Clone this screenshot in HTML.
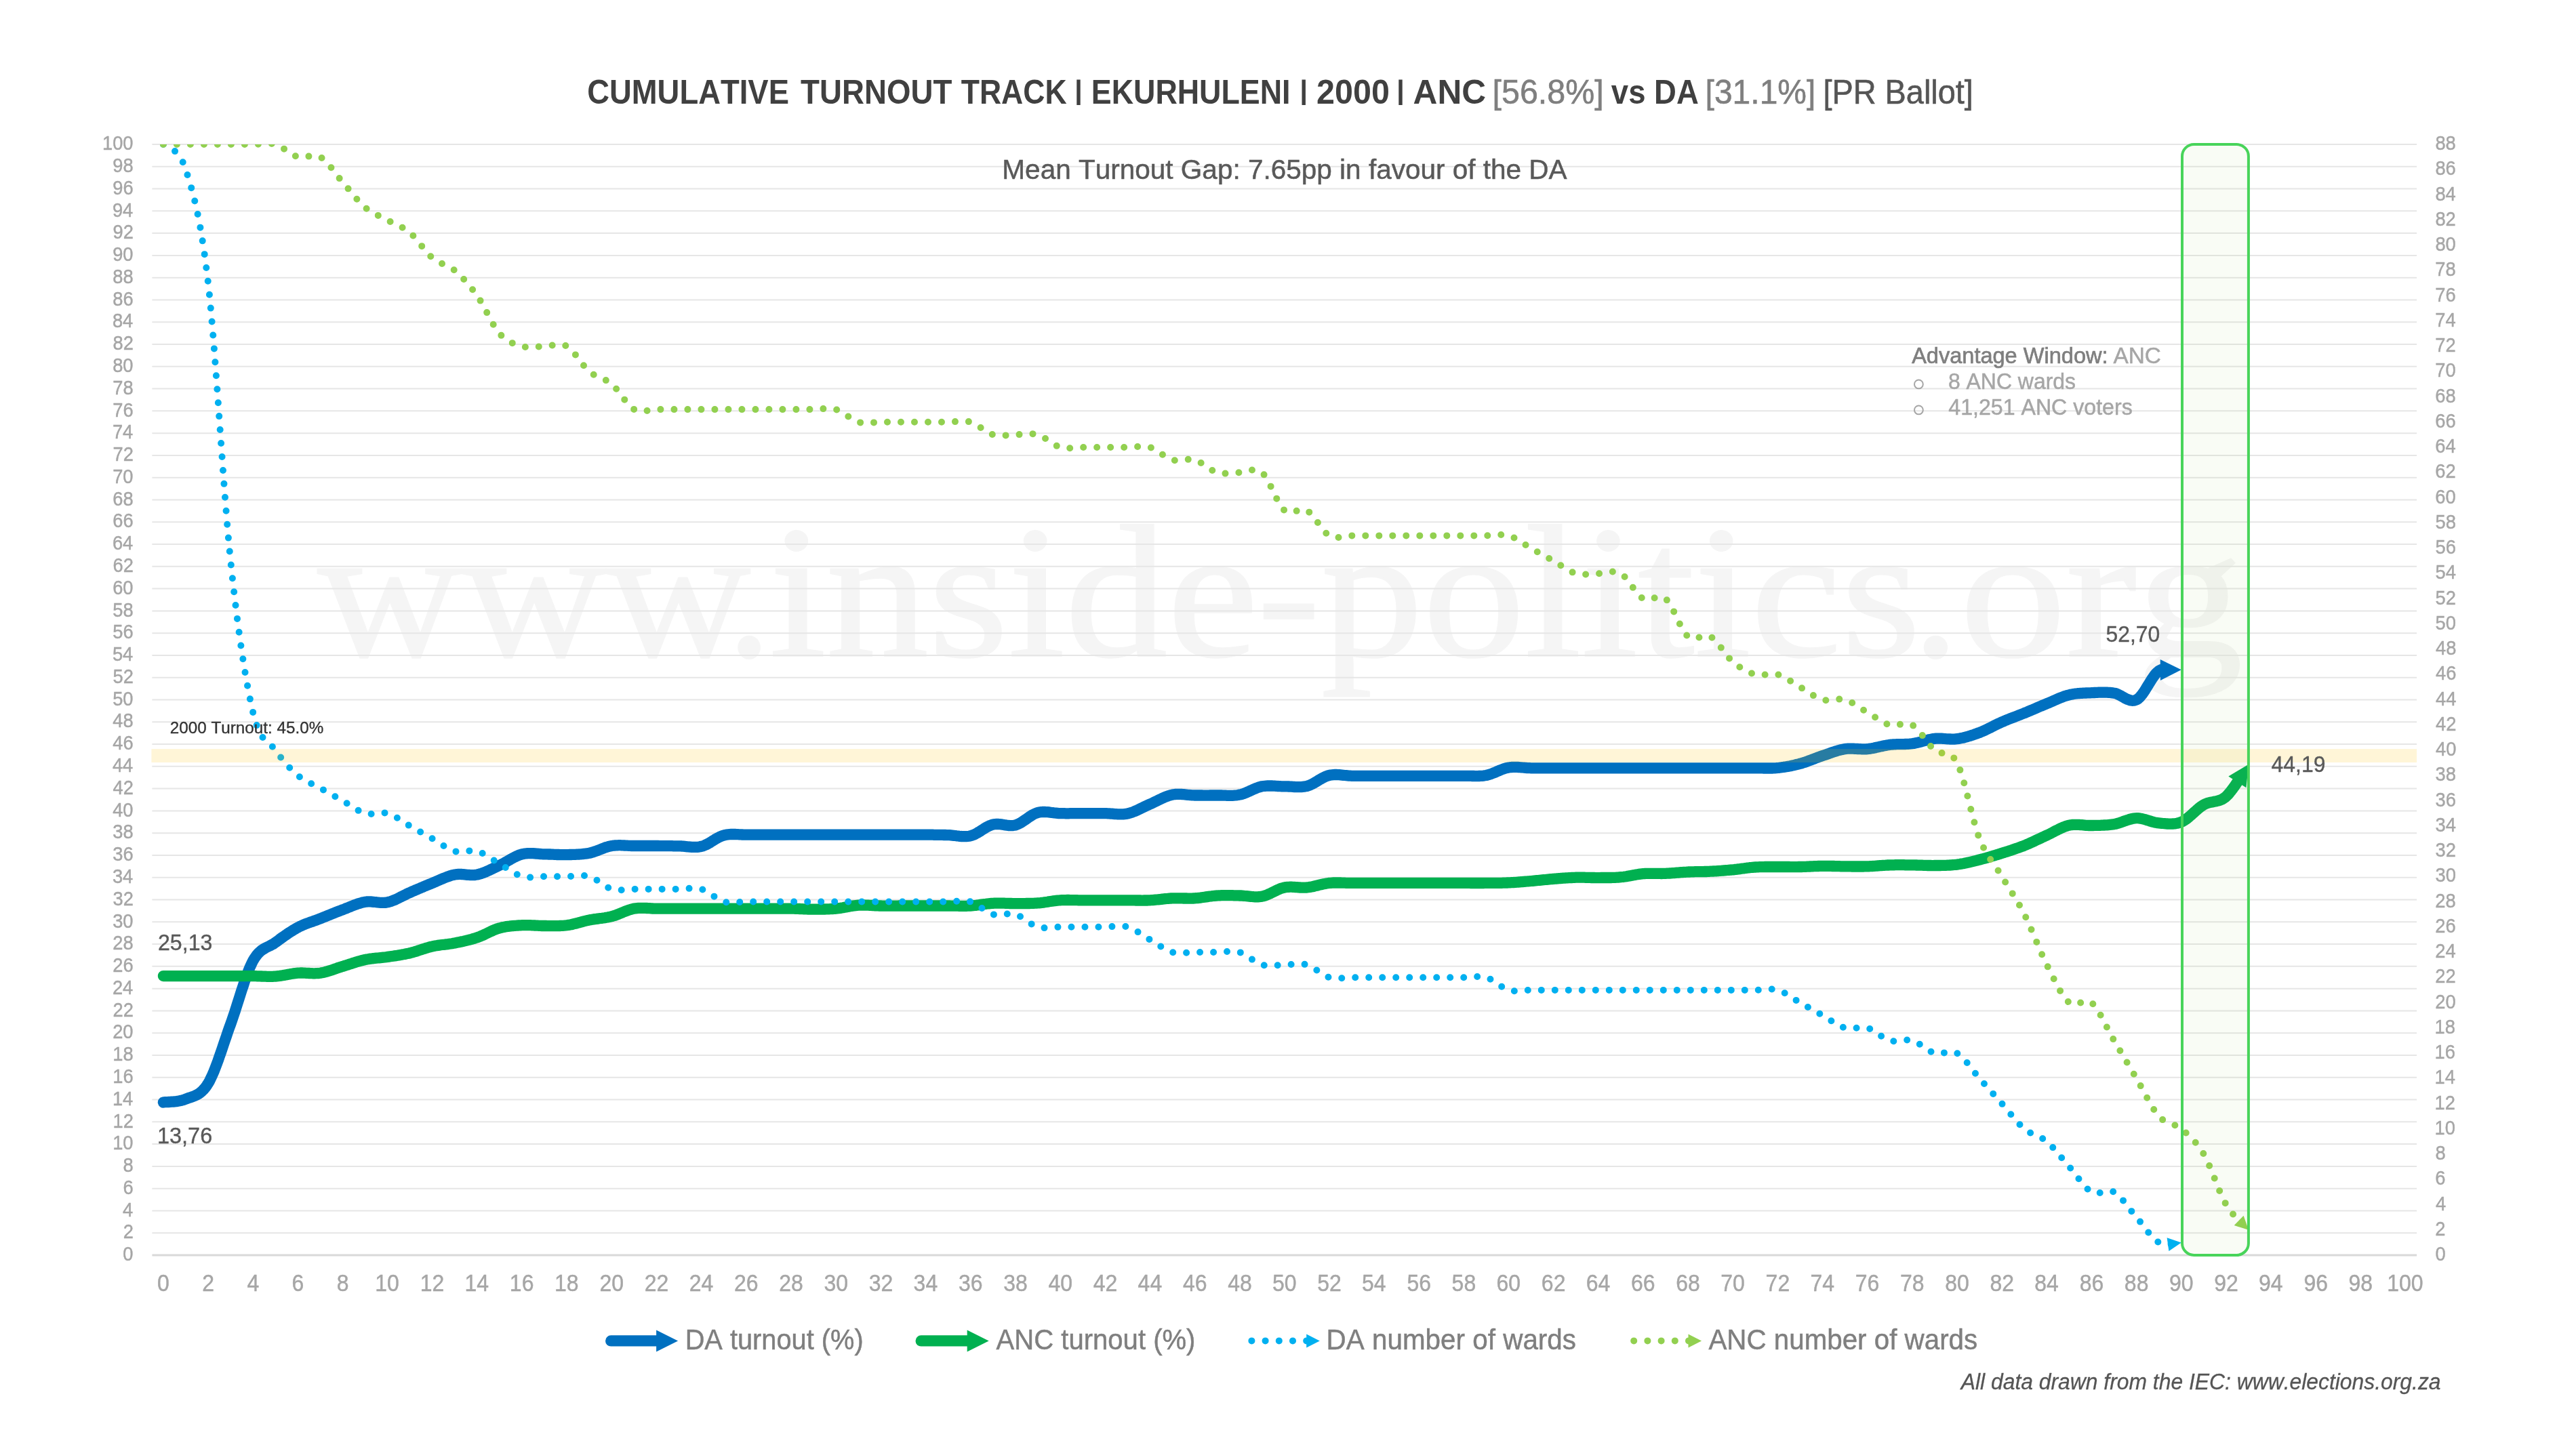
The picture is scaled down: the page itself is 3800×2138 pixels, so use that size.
<!DOCTYPE html><html><head><meta charset="utf-8"><title>Cumulative Turnout Track</title>
<style>html,body{margin:0;padding:0;background:#fff}body{width:3800px;height:2138px;overflow:hidden}svg{display:block;will-change:transform}text{font-kerning:none;white-space:pre}</style></head><body>
<svg width="3800" height="2138" viewBox="0 0 3800 2138">
<rect width="3800" height="2138" fill="#fff"/>
<defs><clipPath id="plot"><rect x="220.4" y="213.0" width="3348.7" height="1645.0"/></clipPath></defs>
<text transform="translate(468.41 967.90) scale(1.0570 1)" font-family="Liberation Serif, serif" font-weight="normal" font-style="normal" font-size="279.00" fill="#f5f5f5" stroke="#f5f5f5" stroke-width="2.5">www</text>
<text transform="translate(1072.10 967.90) scale(0.9464 1)" font-family="Liberation Serif, serif" font-weight="normal" font-style="normal" font-size="279.00" fill="#f5f5f5" stroke="#f5f5f5" stroke-width="2.5">.</text>
<text transform="translate(1134.96 967.90) scale(1.0820 1)" font-family="Liberation Serif, serif" font-weight="normal" font-style="normal" font-size="279.00" fill="#f5f5f5" stroke="#f5f5f5" stroke-width="2.5">inside</text>
<text transform="translate(1854.69 967.90) scale(0.9962 1)" font-family="Liberation Serif, serif" font-weight="normal" font-style="normal" font-size="279.00" fill="#f5f5f5" stroke="#f5f5f5" stroke-width="2.5">-</text>
<text transform="translate(1948.96 967.90) scale(1.0764 1)" font-family="Liberation Serif, serif" font-weight="normal" font-style="normal" font-size="279.00" fill="#f5f5f5" stroke="#f5f5f5" stroke-width="2.5">politics</text>
<text transform="translate(2820.70 967.90) scale(0.9949 1)" font-family="Liberation Serif, serif" font-weight="normal" font-style="normal" font-size="279.00" fill="#f5f5f5" stroke="#f5f5f5" stroke-width="2.5">.</text>
<text transform="translate(2891.07 967.90) scale(1.1228 1)" font-family="Liberation Serif, serif" font-weight="normal" font-style="normal" font-size="279.00" fill="#f5f5f5" stroke="#f5f5f5" stroke-width="2.5">org</text>
<path d="M224.4 1819.22 H3565.1 M224.4 1786.44 H3565.1 M224.4 1753.66 H3565.1 M224.4 1720.88 H3565.1 M224.4 1688.10 H3565.1 M224.4 1655.32 H3565.1 M224.4 1622.54 H3565.1 M224.4 1589.76 H3565.1 M224.4 1556.98 H3565.1 M224.4 1524.20 H3565.1 M224.4 1491.42 H3565.1 M224.4 1458.64 H3565.1 M224.4 1425.86 H3565.1 M224.4 1393.08 H3565.1 M224.4 1360.30 H3565.1 M224.4 1327.52 H3565.1 M224.4 1294.74 H3565.1 M224.4 1261.96 H3565.1 M224.4 1229.18 H3565.1 M224.4 1196.40 H3565.1 M224.4 1163.62 H3565.1 M224.4 1130.84 H3565.1 M224.4 1098.06 H3565.1 M224.4 1065.28 H3565.1 M224.4 1032.50 H3565.1 M224.4 999.72 H3565.1 M224.4 966.94 H3565.1 M224.4 934.16 H3565.1 M224.4 901.38 H3565.1 M224.4 868.60 H3565.1 M224.4 835.82 H3565.1 M224.4 803.04 H3565.1 M224.4 770.26 H3565.1 M224.4 737.48 H3565.1 M224.4 704.70 H3565.1 M224.4 671.92 H3565.1 M224.4 639.14 H3565.1 M224.4 606.36 H3565.1 M224.4 573.58 H3565.1 M224.4 540.80 H3565.1 M224.4 508.02 H3565.1 M224.4 475.24 H3565.1 M224.4 442.46 H3565.1 M224.4 409.68 H3565.1 M224.4 376.90 H3565.1 M224.4 344.12 H3565.1 M224.4 311.34 H3565.1 M224.4 278.56 H3565.1 M224.4 245.78 H3565.1 M224.4 213.00 H3565.1" stroke="#e6e6e6" stroke-width="2" fill="none"/>
<path d="M224.4 1852.00 H3565.1" stroke="#d9d9d9" stroke-width="3" fill="none"/>
<g clip-path="url(#plot)">
<path d="M240.9 1626.5 L242.1 1626.3 L243.5 1626.2 L245.1 1626.1 L246.9 1626.1 L248.8 1626.0 L250.9 1625.9 L253.1 1625.7 L255.4 1625.6 L257.8 1625.3 L260.2 1625.1 L262.6 1624.7 L265.0 1624.3 L267.3 1623.8 L269.7 1623.2 L271.9 1622.5 L274.0 1621.7 L276.1 1620.9 L278.1 1620.1 L280.2 1619.4 L282.3 1618.7 L284.4 1618.0 L286.4 1617.2 L288.5 1616.3 L290.6 1615.2 L292.6 1614.1 L294.7 1612.7 L296.8 1611.1 L298.8 1609.2 L300.9 1607.0 L303.0 1604.5 L305.0 1601.7 L307.1 1598.4 L309.2 1594.8 L311.2 1590.6 L313.3 1586.1 L315.4 1581.3 L317.4 1576.1 L319.5 1570.6 L321.6 1565.0 L323.6 1559.2 L325.7 1553.2 L327.8 1547.1 L329.8 1541.0 L331.9 1534.9 L334.0 1528.8 L336.0 1522.7 L338.1 1516.8 L340.2 1511.1 L342.2 1505.3 L344.3 1499.2 L346.4 1493.0 L348.4 1486.6 L350.5 1480.1 L352.6 1473.6 L354.6 1467.1 L356.7 1460.6 L358.8 1454.3 L360.8 1448.1 L362.9 1442.2 L365.0 1436.5 L367.0 1431.2 L369.1 1426.2 L371.2 1421.7 L373.2 1417.7 L375.3 1414.1 L377.4 1411.1 L379.4 1408.4 L381.5 1406.1 L383.6 1404.1 L385.6 1402.4 L387.7 1401.0 L389.8 1399.7 L391.8 1398.5 L393.9 1397.5 L396.0 1396.5 L398.1 1395.5 L400.1 1394.4 L402.2 1393.3 L404.3 1392.1 L406.3 1390.6 L408.4 1389.1 L410.5 1387.6 L412.5 1386.0 L414.6 1384.5 L416.7 1383.0 L418.7 1381.6 L420.8 1380.1 L422.9 1378.7 L424.9 1377.3 L427.0 1375.9 L429.1 1374.6 L431.1 1373.3 L433.2 1372.0 L435.3 1370.8 L437.3 1369.6 L439.4 1368.5 L441.5 1367.4 L443.5 1366.4 L445.6 1365.5 L447.7 1364.6 L449.7 1363.7 L451.8 1362.9 L453.9 1362.1 L455.9 1361.4 L458.0 1360.6 L460.1 1359.9 L462.1 1359.2 L464.2 1358.4 L466.3 1357.7 L468.3 1357.0 L470.4 1356.2 L472.5 1355.4 L474.5 1354.6 L476.6 1353.7 L478.7 1352.9 L480.7 1352.1 L482.8 1351.2 L484.9 1350.4 L486.9 1349.6 L489.0 1348.7 L491.1 1347.9 L493.1 1347.1 L495.2 1346.2 L497.3 1345.4 L499.3 1344.6 L501.4 1343.8 L503.5 1343.0 L505.5 1342.3 L507.6 1341.5 L509.7 1340.7 L511.7 1339.8 L513.8 1339.0 L515.9 1338.2 L518.0 1337.3 L520.0 1336.5 L522.1 1335.7 L524.2 1334.9 L526.2 1334.2 L528.3 1333.4 L530.4 1332.8 L532.4 1332.2 L534.5 1331.6 L536.6 1331.2 L538.6 1330.8 L540.7 1330.5 L542.8 1330.4 L544.8 1330.4 L546.9 1330.4 L549.0 1330.6 L551.0 1330.8 L553.1 1331.0 L555.2 1331.2 L557.2 1331.5 L559.3 1331.7 L561.4 1331.8 L563.4 1331.9 L565.5 1331.9 L567.6 1331.9 L569.6 1331.6 L571.7 1331.3 L573.8 1330.8 L575.8 1330.2 L577.9 1329.5 L580.0 1328.7 L582.0 1327.9 L584.1 1327.0 L586.2 1326.0 L588.2 1325.0 L590.3 1323.9 L592.4 1322.9 L594.4 1321.8 L596.5 1320.8 L598.6 1319.8 L600.6 1318.7 L602.7 1317.8 L604.8 1316.9 L606.8 1316.0 L608.9 1315.1 L611.0 1314.2 L613.0 1313.3 L615.1 1312.4 L617.2 1311.5 L619.2 1310.7 L621.3 1309.8 L623.4 1308.9 L625.4 1308.0 L627.5 1307.2 L629.6 1306.3 L631.7 1305.4 L633.7 1304.6 L635.8 1303.8 L637.9 1302.9 L639.9 1302.1 L642.0 1301.2 L644.1 1300.3 L646.1 1299.4 L648.2 1298.5 L650.3 1297.6 L652.3 1296.7 L654.4 1295.8 L656.5 1295.0 L658.5 1294.2 L660.6 1293.4 L662.7 1292.7 L664.7 1292.0 L666.8 1291.4 L668.9 1290.9 L670.9 1290.5 L673.0 1290.2 L675.1 1290.0 L677.1 1289.9 L679.2 1289.9 L681.3 1290.0 L683.3 1290.2 L685.4 1290.4 L687.5 1290.6 L689.5 1290.8 L691.6 1290.9 L693.7 1291.1 L695.7 1291.2 L697.8 1291.2 L699.9 1291.1 L701.9 1290.8 L704.0 1290.5 L706.1 1290.0 L708.1 1289.4 L710.2 1288.8 L712.3 1288.1 L714.3 1287.3 L716.4 1286.4 L718.5 1285.5 L720.5 1284.6 L722.6 1283.7 L724.7 1282.7 L726.7 1281.7 L728.8 1280.7 L730.9 1279.7 L732.9 1278.7 L735.0 1277.7 L737.1 1276.7 L739.1 1275.7 L741.2 1274.7 L743.3 1273.6 L745.4 1272.4 L747.4 1271.2 L749.5 1270.0 L751.6 1268.8 L753.6 1267.7 L755.7 1266.5 L757.8 1265.4 L759.8 1264.3 L761.9 1263.3 L764.0 1262.4 L766.0 1261.6 L768.1 1260.9 L770.2 1260.3 L772.2 1259.9 L774.3 1259.5 L776.4 1259.3 L778.4 1259.1 L780.5 1259.1 L782.6 1259.1 L784.6 1259.1 L786.7 1259.2 L788.8 1259.4 L790.8 1259.5 L792.9 1259.7 L795.0 1259.9 L797.0 1260.0 L799.1 1260.2 L801.2 1260.3 L803.2 1260.3 L805.3 1260.4 L807.4 1260.4 L809.4 1260.5 L811.5 1260.5 L813.6 1260.6 L815.6 1260.7 L817.7 1260.8 L819.8 1260.9 L821.8 1261.0 L823.9 1261.0 L826.0 1261.1 L828.0 1261.1 L830.1 1261.2 L832.2 1261.2 L834.2 1261.2 L836.3 1261.1 L838.4 1261.1 L840.4 1261.0 L842.5 1261.0 L844.6 1260.9 L846.6 1260.9 L848.7 1260.8 L850.8 1260.7 L852.8 1260.6 L854.9 1260.5 L857.0 1260.3 L859.1 1260.2 L861.1 1259.9 L863.2 1259.7 L865.3 1259.4 L867.3 1259.1 L869.4 1258.7 L871.5 1258.2 L873.5 1257.7 L875.6 1257.0 L877.7 1256.3 L879.7 1255.6 L881.8 1254.8 L883.9 1254.0 L885.9 1253.2 L888.0 1252.4 L890.1 1251.6 L892.1 1250.8 L894.2 1250.1 L896.3 1249.5 L898.3 1248.9 L900.4 1248.4 L902.5 1248.0 L904.5 1247.7 L906.6 1247.5 L908.7 1247.4 L910.7 1247.3 L912.8 1247.2 L914.9 1247.2 L916.9 1247.3 L919.0 1247.4 L921.1 1247.5 L923.1 1247.6 L925.2 1247.7 L927.3 1247.8 L929.3 1247.9 L931.4 1248.0 L933.5 1248.0 L935.5 1248.0 L937.6 1248.0 L939.7 1248.0 L941.7 1248.0 L943.8 1248.0 L945.9 1248.0 L947.9 1248.0 L950.0 1248.0 L952.1 1248.0 L954.1 1248.0 L956.2 1248.0 L958.3 1248.0 L960.3 1248.0 L962.4 1248.0 L964.5 1248.0 L966.5 1248.0 L968.6 1248.0 L970.7 1248.0 L972.7 1248.1 L974.8 1248.1 L976.9 1248.1 L979.0 1248.1 L981.0 1248.1 L983.1 1248.1 L985.2 1248.2 L987.2 1248.2 L989.3 1248.2 L991.4 1248.2 L993.4 1248.3 L995.5 1248.3 L997.6 1248.3 L999.6 1248.3 L1001.7 1248.4 L1003.8 1248.4 L1005.8 1248.5 L1007.9 1248.7 L1010.0 1248.9 L1012.0 1249.1 L1014.1 1249.3 L1016.2 1249.5 L1018.2 1249.6 L1020.3 1249.8 L1022.4 1249.9 L1024.4 1249.9 L1026.5 1249.9 L1028.6 1249.8 L1030.6 1249.6 L1032.7 1249.3 L1034.8 1248.8 L1036.8 1248.3 L1038.9 1247.5 L1041.0 1246.6 L1043.0 1245.6 L1045.1 1244.5 L1047.2 1243.3 L1049.2 1242.0 L1051.3 1240.7 L1053.4 1239.5 L1055.4 1238.2 L1057.5 1237.0 L1059.6 1235.9 L1061.6 1234.8 L1063.7 1233.9 L1065.8 1233.1 L1067.8 1232.5 L1069.9 1232.0 L1072.0 1231.6 L1074.0 1231.3 L1076.1 1231.1 L1078.2 1231.0 L1080.2 1231.0 L1082.3 1231.0 L1084.4 1231.0 L1086.4 1231.1 L1088.5 1231.2 L1090.6 1231.3 L1092.7 1231.4 L1094.7 1231.5 L1096.8 1231.6 L1098.9 1231.6 L1100.9 1231.6 L1103.0 1231.6 L1105.1 1231.6 L1107.1 1231.6 L1109.2 1231.6 L1111.3 1231.6 L1113.3 1231.6 L1115.4 1231.6 L1117.5 1231.6 L1119.5 1231.6 L1121.6 1231.6 L1123.7 1231.6 L1125.7 1231.6 L1127.8 1231.6 L1129.9 1231.6 L1131.9 1231.6 L1134.0 1231.6 L1136.1 1231.6 L1138.1 1231.6 L1140.2 1231.6 L1142.3 1231.6 L1144.3 1231.6 L1146.4 1231.6 L1148.5 1231.6 L1150.5 1231.6 L1152.6 1231.6 L1154.7 1231.6 L1156.7 1231.6 L1158.8 1231.6 L1160.9 1231.6 L1162.9 1231.6 L1165.0 1231.6 L1167.1 1231.6 L1169.1 1231.6 L1171.2 1231.6 L1173.3 1231.6 L1175.3 1231.6 L1177.4 1231.6 L1179.5 1231.6 L1181.5 1231.6 L1183.6 1231.6 L1185.7 1231.6 L1187.7 1231.6 L1189.8 1231.6 L1191.9 1231.6 L1193.9 1231.6 L1196.0 1231.6 L1198.1 1231.6 L1200.1 1231.6 L1202.2 1231.6 L1204.3 1231.6 L1206.4 1231.6 L1208.4 1231.6 L1210.5 1231.6 L1212.6 1231.6 L1214.6 1231.6 L1216.7 1231.6 L1218.8 1231.6 L1220.8 1231.6 L1222.9 1231.6 L1225.0 1231.6 L1227.0 1231.6 L1229.1 1231.6 L1231.2 1231.6 L1233.2 1231.6 L1235.3 1231.6 L1237.4 1231.6 L1239.4 1231.6 L1241.5 1231.6 L1243.6 1231.6 L1245.6 1231.6 L1247.7 1231.6 L1249.8 1231.6 L1251.8 1231.6 L1253.9 1231.6 L1256.0 1231.6 L1258.0 1231.6 L1260.1 1231.6 L1262.2 1231.6 L1264.2 1231.6 L1266.3 1231.6 L1268.4 1231.6 L1270.4 1231.6 L1272.5 1231.6 L1274.6 1231.6 L1276.6 1231.6 L1278.7 1231.6 L1280.8 1231.6 L1282.8 1231.6 L1284.9 1231.6 L1287.0 1231.6 L1289.0 1231.6 L1291.1 1231.6 L1293.2 1231.6 L1295.2 1231.6 L1297.3 1231.6 L1299.4 1231.6 L1301.4 1231.6 L1303.5 1231.6 L1305.6 1231.6 L1307.6 1231.6 L1309.7 1231.6 L1311.8 1231.6 L1313.8 1231.6 L1315.9 1231.6 L1318.0 1231.6 L1320.1 1231.6 L1322.1 1231.6 L1324.2 1231.6 L1326.3 1231.6 L1328.3 1231.6 L1330.4 1231.6 L1332.5 1231.6 L1334.5 1231.6 L1336.6 1231.6 L1338.7 1231.6 L1340.7 1231.6 L1342.8 1231.6 L1344.9 1231.6 L1346.9 1231.6 L1349.0 1231.6 L1351.1 1231.6 L1353.1 1231.6 L1355.2 1231.6 L1357.3 1231.6 L1359.3 1231.6 L1361.4 1231.6 L1363.5 1231.6 L1365.5 1231.6 L1367.6 1231.7 L1369.7 1231.7 L1371.7 1231.7 L1373.8 1231.7 L1375.9 1231.7 L1377.9 1231.8 L1380.0 1231.8 L1382.1 1231.8 L1384.1 1231.8 L1386.2 1231.9 L1388.3 1231.9 L1390.3 1231.9 L1392.4 1232.0 L1394.5 1232.0 L1396.5 1232.1 L1398.6 1232.1 L1400.7 1232.2 L1402.7 1232.4 L1404.8 1232.6 L1406.9 1232.8 L1408.9 1233.0 L1411.0 1233.3 L1413.1 1233.5 L1415.1 1233.8 L1417.2 1234.0 L1419.3 1234.1 L1421.3 1234.2 L1423.4 1234.2 L1425.5 1234.2 L1427.5 1234.0 L1429.6 1233.7 L1431.7 1233.3 L1433.7 1232.7 L1435.8 1231.9 L1437.9 1231.0 L1440.0 1229.9 L1442.0 1228.8 L1444.1 1227.5 L1446.2 1226.3 L1448.2 1224.9 L1450.3 1223.6 L1452.4 1222.3 L1454.4 1221.1 L1456.5 1219.9 L1458.6 1218.9 L1460.6 1217.9 L1462.7 1217.2 L1464.8 1216.6 L1466.8 1216.2 L1468.9 1216.0 L1471.0 1215.9 L1473.0 1216.0 L1475.1 1216.2 L1477.2 1216.4 L1479.2 1216.7 L1481.3 1217.1 L1483.4 1217.4 L1485.4 1217.7 L1487.5 1218.0 L1489.6 1218.1 L1491.6 1218.2 L1493.7 1218.1 L1495.8 1217.8 L1497.8 1217.4 L1499.9 1216.7 L1502.0 1215.9 L1504.0 1214.8 L1506.1 1213.7 L1508.2 1212.4 L1510.2 1211.0 L1512.3 1209.6 L1514.4 1208.2 L1516.4 1206.7 L1518.5 1205.3 L1520.6 1204.0 L1522.6 1202.7 L1524.7 1201.5 L1526.8 1200.5 L1528.8 1199.7 L1530.9 1199.0 L1533.0 1198.6 L1535.0 1198.2 L1537.1 1198.0 L1539.2 1198.0 L1541.2 1198.0 L1543.3 1198.1 L1545.4 1198.2 L1547.4 1198.4 L1549.5 1198.7 L1551.6 1199.0 L1553.7 1199.2 L1555.7 1199.5 L1557.8 1199.7 L1559.9 1199.9 L1561.9 1200.1 L1564.0 1200.2 L1566.1 1200.2 L1568.1 1200.2 L1570.2 1200.2 L1572.3 1200.3 L1574.3 1200.3 L1576.4 1200.3 L1578.5 1200.2 L1580.5 1200.2 L1582.6 1200.2 L1584.7 1200.2 L1586.7 1200.2 L1588.8 1200.2 L1590.9 1200.2 L1592.9 1200.2 L1595.0 1200.2 L1597.1 1200.2 L1599.1 1200.2 L1601.2 1200.2 L1603.3 1200.2 L1605.3 1200.2 L1607.4 1200.2 L1609.5 1200.2 L1611.5 1200.2 L1613.6 1200.1 L1615.7 1200.1 L1617.7 1200.1 L1619.8 1200.1 L1621.9 1200.1 L1623.9 1200.1 L1626.0 1200.2 L1628.1 1200.2 L1630.1 1200.2 L1632.2 1200.2 L1634.3 1200.3 L1636.3 1200.4 L1638.4 1200.6 L1640.5 1200.7 L1642.5 1200.9 L1644.6 1201.1 L1646.7 1201.2 L1648.7 1201.3 L1650.8 1201.4 L1652.9 1201.4 L1654.9 1201.4 L1657.0 1201.3 L1659.1 1201.1 L1661.1 1200.9 L1663.2 1200.5 L1665.3 1200.0 L1667.4 1199.4 L1669.4 1198.8 L1671.5 1198.0 L1673.6 1197.2 L1675.6 1196.3 L1677.7 1195.4 L1679.8 1194.4 L1681.8 1193.4 L1683.9 1192.4 L1686.0 1191.4 L1688.0 1190.4 L1690.1 1189.4 L1692.2 1188.4 L1694.2 1187.5 L1696.3 1186.6 L1698.4 1185.7 L1700.4 1184.7 L1702.5 1183.7 L1704.6 1182.7 L1706.6 1181.7 L1708.7 1180.7 L1710.8 1179.7 L1712.8 1178.7 L1714.9 1177.7 L1717.0 1176.8 L1719.0 1175.9 L1721.1 1175.1 L1723.2 1174.3 L1725.2 1173.7 L1727.3 1173.1 L1729.4 1172.6 L1731.4 1172.3 L1733.5 1172.0 L1735.6 1171.9 L1737.6 1171.8 L1739.7 1171.8 L1741.8 1171.9 L1743.8 1172.0 L1745.9 1172.2 L1748.0 1172.4 L1750.0 1172.6 L1752.1 1172.8 L1754.2 1173.0 L1756.2 1173.1 L1758.3 1173.3 L1760.4 1173.4 L1762.4 1173.5 L1764.5 1173.5 L1766.6 1173.5 L1768.6 1173.5 L1770.7 1173.5 L1772.8 1173.5 L1774.8 1173.6 L1776.9 1173.6 L1779.0 1173.6 L1781.1 1173.6 L1783.1 1173.6 L1785.2 1173.5 L1787.3 1173.5 L1789.3 1173.5 L1791.4 1173.5 L1793.5 1173.5 L1795.5 1173.5 L1797.6 1173.4 L1799.7 1173.5 L1801.7 1173.5 L1803.8 1173.6 L1805.9 1173.6 L1807.9 1173.7 L1810.0 1173.8 L1812.1 1173.8 L1814.1 1173.8 L1816.2 1173.8 L1818.3 1173.8 L1820.3 1173.7 L1822.4 1173.5 L1824.5 1173.3 L1826.5 1173.0 L1828.6 1172.6 L1830.7 1172.2 L1832.7 1171.6 L1834.8 1170.9 L1836.9 1170.1 L1838.9 1169.2 L1841.0 1168.3 L1843.1 1167.4 L1845.1 1166.4 L1847.2 1165.5 L1849.3 1164.6 L1851.3 1163.7 L1853.4 1162.8 L1855.5 1162.0 L1857.5 1161.4 L1859.6 1160.8 L1861.7 1160.3 L1863.7 1160.0 L1865.8 1159.8 L1867.9 1159.6 L1869.9 1159.5 L1872.0 1159.5 L1874.1 1159.5 L1876.1 1159.5 L1878.2 1159.6 L1880.3 1159.7 L1882.3 1159.8 L1884.4 1160.0 L1886.5 1160.1 L1888.5 1160.2 L1890.6 1160.3 L1892.7 1160.3 L1894.8 1160.3 L1896.8 1160.4 L1898.9 1160.4 L1901.0 1160.5 L1903.0 1160.6 L1905.1 1160.7 L1907.2 1160.9 L1909.2 1161.0 L1911.3 1161.1 L1913.4 1161.2 L1915.4 1161.2 L1917.5 1161.2 L1919.6 1161.1 L1921.6 1160.9 L1923.7 1160.7 L1925.8 1160.3 L1927.8 1159.9 L1929.9 1159.2 L1932.0 1158.5 L1934.0 1157.6 L1936.1 1156.6 L1938.2 1155.5 L1940.2 1154.3 L1942.3 1153.1 L1944.4 1151.8 L1946.4 1150.6 L1948.5 1149.4 L1950.6 1148.2 L1952.6 1147.1 L1954.7 1146.1 L1956.8 1145.2 L1958.8 1144.5 L1960.9 1144.0 L1963.0 1143.5 L1965.0 1143.3 L1967.1 1143.1 L1969.2 1143.0 L1971.2 1143.0 L1973.3 1143.1 L1975.4 1143.2 L1977.4 1143.4 L1979.5 1143.6 L1981.6 1143.8 L1983.6 1144.0 L1985.7 1144.2 L1987.8 1144.4 L1989.8 1144.6 L1991.9 1144.7 L1994.0 1144.8 L1996.0 1144.8 L1998.1 1144.8 L2000.2 1144.8 L2002.2 1144.8 L2004.3 1144.8 L2006.4 1144.8 L2008.4 1144.8 L2010.5 1144.8 L2012.6 1144.8 L2014.7 1144.8 L2016.7 1144.8 L2018.8 1144.8 L2020.9 1144.8 L2022.9 1144.8 L2025.0 1144.8 L2027.1 1144.8 L2029.1 1144.8 L2031.2 1144.8 L2033.3 1144.8 L2035.3 1144.8 L2037.4 1144.8 L2039.5 1144.8 L2041.5 1144.8 L2043.6 1144.8 L2045.7 1144.8 L2047.7 1144.8 L2049.8 1144.8 L2051.9 1144.8 L2053.9 1144.8 L2056.0 1144.8 L2058.1 1144.8 L2060.1 1144.8 L2062.2 1144.8 L2064.3 1144.8 L2066.3 1144.8 L2068.4 1144.8 L2070.5 1144.8 L2072.5 1144.8 L2074.6 1144.8 L2076.7 1144.8 L2078.7 1144.8 L2080.8 1144.8 L2082.9 1144.8 L2084.9 1144.8 L2087.0 1144.8 L2089.1 1144.8 L2091.1 1144.8 L2093.2 1144.8 L2095.3 1144.8 L2097.3 1144.8 L2099.4 1144.8 L2101.5 1144.8 L2103.5 1144.8 L2105.6 1144.8 L2107.7 1144.8 L2109.7 1144.8 L2111.8 1144.8 L2113.9 1144.8 L2115.9 1144.8 L2118.0 1144.8 L2120.1 1144.8 L2122.1 1144.8 L2124.2 1144.8 L2126.3 1144.8 L2128.4 1144.8 L2130.4 1144.8 L2132.5 1144.8 L2134.6 1144.8 L2136.6 1144.8 L2138.7 1144.8 L2140.8 1144.8 L2142.8 1144.8 L2144.9 1144.8 L2147.0 1144.8 L2149.0 1144.8 L2151.1 1144.8 L2153.2 1144.8 L2155.2 1144.8 L2157.3 1144.8 L2159.4 1144.8 L2161.4 1144.8 L2163.5 1144.8 L2165.6 1144.8 L2167.6 1144.9 L2169.7 1144.9 L2171.8 1145.0 L2173.8 1145.0 L2175.9 1145.1 L2178.0 1145.1 L2180.0 1145.1 L2182.1 1145.0 L2184.2 1144.9 L2186.2 1144.8 L2188.3 1144.6 L2190.4 1144.3 L2192.4 1144.0 L2194.5 1143.5 L2196.6 1142.9 L2198.6 1142.3 L2200.7 1141.5 L2202.8 1140.7 L2204.8 1139.9 L2206.9 1139.0 L2209.0 1138.1 L2211.0 1137.2 L2213.1 1136.3 L2215.2 1135.5 L2217.2 1134.7 L2219.3 1134.0 L2221.4 1133.4 L2223.4 1132.9 L2225.5 1132.5 L2227.6 1132.2 L2229.6 1132.0 L2231.7 1131.9 L2233.8 1131.8 L2235.8 1131.9 L2237.9 1131.9 L2240.0 1132.0 L2242.1 1132.2 L2244.1 1132.3 L2246.2 1132.5 L2248.3 1132.7 L2250.3 1132.9 L2252.4 1133.0 L2254.5 1133.2 L2256.5 1133.2 L2258.6 1133.3 L2260.7 1133.3 L2262.7 1133.3 L2264.8 1133.3 L2266.9 1133.4 L2268.9 1133.4 L2271.0 1133.4 L2273.1 1133.4 L2275.1 1133.3 L2277.2 1133.3 L2279.3 1133.3 L2281.3 1133.3 L2283.4 1133.3 L2285.5 1133.3 L2287.5 1133.3 L2289.6 1133.3 L2291.7 1133.3 L2293.7 1133.3 L2295.8 1133.3 L2297.9 1133.3 L2299.9 1133.3 L2302.0 1133.3 L2304.1 1133.3 L2306.1 1133.3 L2308.2 1133.3 L2310.3 1133.3 L2312.3 1133.3 L2314.4 1133.3 L2316.5 1133.3 L2318.5 1133.3 L2320.6 1133.3 L2322.7 1133.3 L2324.7 1133.3 L2326.8 1133.3 L2328.9 1133.3 L2330.9 1133.3 L2333.0 1133.3 L2335.1 1133.3 L2337.1 1133.3 L2339.2 1133.3 L2341.3 1133.3 L2343.3 1133.3 L2345.4 1133.3 L2347.5 1133.3 L2349.5 1133.3 L2351.6 1133.3 L2353.7 1133.3 L2355.8 1133.3 L2357.8 1133.3 L2359.9 1133.3 L2362.0 1133.3 L2364.0 1133.3 L2366.1 1133.3 L2368.2 1133.3 L2370.2 1133.3 L2372.3 1133.3 L2374.4 1133.3 L2376.4 1133.3 L2378.5 1133.3 L2380.6 1133.3 L2382.6 1133.3 L2384.7 1133.3 L2386.8 1133.3 L2388.8 1133.3 L2390.9 1133.3 L2393.0 1133.3 L2395.0 1133.3 L2397.1 1133.3 L2399.2 1133.3 L2401.2 1133.3 L2403.3 1133.3 L2405.4 1133.3 L2407.4 1133.3 L2409.5 1133.3 L2411.6 1133.3 L2413.6 1133.3 L2415.7 1133.3 L2417.8 1133.3 L2419.8 1133.3 L2421.9 1133.3 L2424.0 1133.3 L2426.0 1133.3 L2428.1 1133.3 L2430.2 1133.3 L2432.2 1133.3 L2434.3 1133.3 L2436.4 1133.3 L2438.4 1133.3 L2440.5 1133.3 L2442.6 1133.3 L2444.6 1133.3 L2446.7 1133.3 L2448.8 1133.3 L2450.8 1133.3 L2452.9 1133.3 L2455.0 1133.3 L2457.0 1133.3 L2459.1 1133.3 L2461.2 1133.3 L2463.2 1133.3 L2465.3 1133.3 L2467.4 1133.3 L2469.4 1133.3 L2471.5 1133.3 L2473.6 1133.3 L2475.7 1133.3 L2477.7 1133.3 L2479.8 1133.3 L2481.9 1133.3 L2483.9 1133.3 L2486.0 1133.3 L2488.1 1133.3 L2490.1 1133.3 L2492.2 1133.3 L2494.3 1133.3 L2496.3 1133.3 L2498.4 1133.3 L2500.5 1133.3 L2502.5 1133.3 L2504.6 1133.3 L2506.7 1133.3 L2508.7 1133.3 L2510.8 1133.3 L2512.9 1133.3 L2514.9 1133.3 L2517.0 1133.3 L2519.1 1133.3 L2521.1 1133.3 L2523.2 1133.3 L2525.3 1133.3 L2527.3 1133.3 L2529.4 1133.3 L2531.5 1133.3 L2533.5 1133.3 L2535.6 1133.3 L2537.7 1133.3 L2539.7 1133.3 L2541.8 1133.3 L2543.9 1133.3 L2545.9 1133.3 L2548.0 1133.3 L2550.1 1133.3 L2552.1 1133.3 L2554.2 1133.3 L2556.3 1133.3 L2558.3 1133.3 L2560.4 1133.3 L2562.5 1133.3 L2564.5 1133.3 L2566.6 1133.3 L2568.7 1133.3 L2570.7 1133.3 L2572.8 1133.3 L2574.9 1133.3 L2576.9 1133.3 L2579.0 1133.3 L2581.1 1133.3 L2583.1 1133.3 L2585.2 1133.3 L2587.3 1133.3 L2589.4 1133.3 L2591.4 1133.3 L2593.5 1133.3 L2595.6 1133.3 L2597.6 1133.4 L2599.7 1133.4 L2601.8 1133.5 L2603.8 1133.5 L2605.9 1133.5 L2608.0 1133.5 L2610.0 1133.5 L2612.1 1133.5 L2614.2 1133.5 L2616.2 1133.4 L2618.3 1133.3 L2620.4 1133.2 L2622.4 1133.0 L2624.5 1132.8 L2626.6 1132.5 L2628.6 1132.2 L2630.7 1132.0 L2632.8 1131.6 L2634.8 1131.3 L2636.9 1130.9 L2639.0 1130.6 L2641.0 1130.2 L2643.1 1129.7 L2645.2 1129.3 L2647.2 1128.8 L2649.3 1128.3 L2651.4 1127.8 L2653.4 1127.3 L2655.5 1126.7 L2657.6 1126.2 L2659.6 1125.5 L2661.7 1124.9 L2663.8 1124.2 L2665.8 1123.5 L2667.9 1122.7 L2670.0 1121.9 L2672.0 1121.2 L2674.1 1120.4 L2676.2 1119.6 L2678.2 1118.8 L2680.3 1118.0 L2682.4 1117.3 L2684.4 1116.5 L2686.5 1115.8 L2688.6 1115.1 L2690.6 1114.4 L2692.7 1113.7 L2694.8 1113.0 L2696.8 1112.3 L2698.9 1111.5 L2701.0 1110.8 L2703.1 1110.1 L2705.1 1109.4 L2707.2 1108.7 L2709.3 1108.1 L2711.3 1107.4 L2713.4 1106.9 L2715.5 1106.3 L2717.5 1105.9 L2719.6 1105.5 L2721.7 1105.1 L2723.7 1104.8 L2725.8 1104.7 L2727.9 1104.6 L2729.9 1104.6 L2732.0 1104.6 L2734.1 1104.6 L2736.1 1104.8 L2738.2 1104.9 L2740.3 1105.0 L2742.3 1105.1 L2744.4 1105.2 L2746.5 1105.3 L2748.5 1105.4 L2750.6 1105.3 L2752.7 1105.3 L2754.7 1105.1 L2756.8 1104.9 L2758.9 1104.6 L2760.9 1104.3 L2763.0 1103.9 L2765.1 1103.5 L2767.1 1103.0 L2769.2 1102.6 L2771.3 1102.1 L2773.3 1101.6 L2775.4 1101.2 L2777.5 1100.7 L2779.5 1100.3 L2781.6 1099.9 L2783.7 1099.5 L2785.7 1099.2 L2787.8 1098.9 L2789.9 1098.7 L2791.9 1098.5 L2794.0 1098.4 L2796.1 1098.3 L2798.1 1098.2 L2800.2 1098.2 L2802.3 1098.2 L2804.3 1098.1 L2806.4 1098.1 L2808.5 1098.1 L2810.5 1098.0 L2812.6 1097.9 L2814.7 1097.8 L2816.8 1097.7 L2818.8 1097.5 L2820.9 1097.2 L2823.0 1096.9 L2825.0 1096.5 L2827.1 1096.1 L2829.2 1095.6 L2831.2 1095.1 L2833.3 1094.6 L2835.4 1094.0 L2837.4 1093.4 L2839.5 1092.9 L2841.6 1092.3 L2843.6 1091.8 L2845.7 1091.3 L2847.8 1090.9 L2849.8 1090.5 L2851.9 1090.1 L2854.0 1089.9 L2856.0 1089.7 L2858.1 1089.6 L2860.2 1089.6 L2862.2 1089.6 L2864.3 1089.7 L2866.4 1089.8 L2868.4 1090.0 L2870.5 1090.2 L2872.6 1090.3 L2874.6 1090.4 L2876.7 1090.5 L2878.8 1090.6 L2880.8 1090.6 L2882.9 1090.6 L2885.0 1090.4 L2887.0 1090.2 L2889.1 1089.9 L2891.2 1089.5 L2893.2 1089.1 L2895.3 1088.7 L2897.4 1088.2 L2899.4 1087.7 L2901.5 1087.1 L2903.6 1086.5 L2905.6 1085.9 L2907.7 1085.2 L2909.8 1084.6 L2911.8 1083.9 L2913.9 1083.1 L2916.0 1082.4 L2918.0 1081.6 L2920.1 1080.9 L2922.2 1080.0 L2924.2 1079.2 L2926.3 1078.3 L2928.4 1077.3 L2930.4 1076.4 L2932.5 1075.4 L2934.6 1074.3 L2936.7 1073.3 L2938.7 1072.3 L2940.8 1071.2 L2942.9 1070.2 L2944.9 1069.1 L2947.0 1068.1 L2949.1 1067.2 L2951.1 1066.2 L2953.2 1065.3 L2955.3 1064.4 L2957.3 1063.5 L2959.4 1062.7 L2961.5 1061.8 L2963.5 1061.0 L2965.6 1060.2 L2967.7 1059.4 L2969.7 1058.6 L2971.8 1057.8 L2973.9 1057.0 L2975.9 1056.2 L2978.0 1055.4 L2980.1 1054.6 L2982.1 1053.8 L2984.2 1053.0 L2986.3 1052.2 L2988.3 1051.3 L2990.4 1050.5 L2992.5 1049.6 L2994.5 1048.7 L2996.6 1047.8 L2998.7 1047.0 L3000.7 1046.1 L3002.8 1045.2 L3004.9 1044.3 L3006.9 1043.4 L3009.0 1042.5 L3011.1 1041.7 L3013.1 1040.8 L3015.2 1039.9 L3017.3 1039.1 L3019.3 1038.2 L3021.4 1037.4 L3023.5 1036.5 L3025.5 1035.6 L3027.6 1034.7 L3029.7 1033.8 L3031.7 1032.9 L3033.8 1032.0 L3035.9 1031.1 L3037.9 1030.2 L3040.0 1029.4 L3042.1 1028.6 L3044.1 1027.8 L3046.2 1027.1 L3048.3 1026.4 L3050.4 1025.8 L3052.4 1025.3 L3054.5 1024.8 L3056.6 1024.4 L3058.6 1024.0 L3060.7 1023.7 L3062.8 1023.5 L3064.8 1023.2 L3066.9 1023.1 L3069.0 1022.9 L3071.0 1022.8 L3073.1 1022.6 L3075.2 1022.6 L3077.2 1022.5 L3079.3 1022.4 L3081.4 1022.3 L3083.4 1022.3 L3085.5 1022.2 L3087.6 1022.1 L3089.6 1022.0 L3091.7 1021.9 L3093.8 1021.8 L3095.8 1021.7 L3097.9 1021.7 L3100.0 1021.6 L3102.0 1021.6 L3104.1 1021.6 L3106.2 1021.6 L3108.2 1021.7 L3110.3 1021.8 L3112.4 1021.9 L3114.4 1022.1 L3116.5 1022.4 L3118.6 1022.7 L3120.6 1023.1 L3122.7 1023.8 L3124.8 1024.7 L3126.8 1025.7 L3128.9 1026.8 L3131.0 1028.0 L3133.0 1029.1 L3135.1 1030.3 L3137.2 1031.3 L3139.2 1032.2 L3141.3 1033.0 L3143.4 1033.5 L3145.4 1033.8 L3147.5 1033.7 L3149.6 1033.3 L3151.6 1032.5 L3153.7 1031.2 L3155.8 1029.4 L3157.8 1027.2 L3159.9 1024.6 L3162.0 1021.7 L3164.1 1018.6 L3166.1 1015.3 L3168.2 1011.9 L3170.3 1008.5 L3172.3 1005.2 L3174.4 1001.9 L3176.5 998.9 L3178.5 996.1 L3180.6 993.6 L3182.7 991.5 L3184.7 989.9 L3186.9 988.7 L3189.1 987.7 L3191.4 987.0 L3193.0 986.7" fill="none" stroke="#0070c0" stroke-width="16.3" stroke-linecap="round" stroke-linejoin="round"/><path d="M3217.8 988.2 L3186.9 1004.0 L3186.7 973.0 Z" fill="#0070c0"/>
<path d="M240.9 1440.1 L242.1 1440.1 L243.5 1440.1 L245.1 1440.1 L246.9 1440.1 L248.8 1440.1 L250.9 1440.1 L253.1 1440.1 L255.4 1440.1 L257.8 1440.1 L260.2 1440.1 L262.6 1440.1 L265.0 1440.1 L267.3 1440.1 L269.7 1440.1 L271.9 1440.1 L274.0 1440.1 L276.1 1440.1 L278.1 1440.1 L280.2 1440.1 L282.3 1440.1 L284.4 1440.1 L286.4 1440.1 L288.5 1440.1 L290.6 1440.1 L292.6 1440.1 L294.7 1440.1 L296.8 1440.1 L298.8 1440.1 L300.9 1440.1 L303.0 1440.1 L305.0 1440.1 L307.1 1440.1 L309.2 1440.1 L311.2 1440.1 L313.3 1440.1 L315.4 1440.1 L317.4 1440.1 L319.5 1440.1 L321.6 1440.1 L323.6 1440.1 L325.7 1440.1 L327.8 1440.1 L329.8 1440.1 L331.9 1440.1 L334.0 1440.1 L336.0 1440.1 L338.1 1440.1 L340.2 1440.1 L342.2 1440.1 L344.3 1440.1 L346.4 1440.1 L348.4 1440.1 L350.5 1440.1 L352.6 1440.1 L354.6 1440.1 L356.7 1440.1 L358.8 1440.1 L360.8 1440.1 L362.9 1440.1 L365.0 1440.1 L367.0 1440.1 L369.1 1440.1 L371.2 1440.1 L373.2 1440.1 L375.3 1440.1 L377.4 1440.2 L379.4 1440.3 L381.5 1440.3 L383.6 1440.4 L385.6 1440.5 L387.7 1440.6 L389.8 1440.7 L391.8 1440.7 L393.9 1440.8 L396.0 1440.8 L398.1 1440.9 L400.1 1440.8 L402.2 1440.8 L404.3 1440.7 L406.3 1440.6 L408.4 1440.4 L410.5 1440.2 L412.5 1440.0 L414.6 1439.6 L416.7 1439.3 L418.7 1438.9 L420.8 1438.6 L422.9 1438.2 L424.9 1437.8 L427.0 1437.4 L429.1 1437.0 L431.1 1436.7 L433.2 1436.4 L435.3 1436.1 L437.3 1435.9 L439.4 1435.7 L441.5 1435.6 L443.5 1435.5 L445.6 1435.5 L447.7 1435.6 L449.7 1435.7 L451.8 1435.8 L453.9 1435.9 L455.9 1436.0 L458.0 1436.1 L460.1 1436.2 L462.1 1436.3 L464.2 1436.3 L466.3 1436.2 L468.3 1436.1 L470.4 1436.0 L472.5 1435.7 L474.5 1435.3 L476.6 1434.9 L478.7 1434.5 L480.7 1433.9 L482.8 1433.3 L484.9 1432.7 L486.9 1432.1 L489.0 1431.4 L491.1 1430.7 L493.1 1430.0 L495.2 1429.3 L497.3 1428.5 L499.3 1427.8 L501.4 1427.2 L503.5 1426.5 L505.5 1425.9 L507.6 1425.2 L509.7 1424.6 L511.7 1423.9 L513.8 1423.3 L515.9 1422.6 L518.0 1421.9 L520.0 1421.2 L522.1 1420.6 L524.2 1419.9 L526.2 1419.3 L528.3 1418.7 L530.4 1418.1 L532.4 1417.5 L534.5 1417.0 L536.6 1416.5 L538.6 1416.0 L540.7 1415.6 L542.8 1415.3 L544.8 1414.9 L546.9 1414.6 L549.0 1414.4 L551.0 1414.1 L553.1 1413.9 L555.2 1413.7 L557.2 1413.5 L559.3 1413.3 L561.4 1413.1 L563.4 1412.9 L565.5 1412.7 L567.6 1412.5 L569.6 1412.2 L571.7 1411.9 L573.8 1411.6 L575.8 1411.3 L577.9 1411.0 L580.0 1410.7 L582.0 1410.4 L584.1 1410.1 L586.2 1409.8 L588.2 1409.4 L590.3 1409.1 L592.4 1408.7 L594.4 1408.3 L596.5 1408.0 L598.6 1407.5 L600.6 1407.1 L602.7 1406.7 L604.8 1406.2 L606.8 1405.7 L608.9 1405.1 L611.0 1404.5 L613.0 1403.9 L615.1 1403.3 L617.2 1402.6 L619.2 1401.9 L621.3 1401.2 L623.4 1400.5 L625.4 1399.9 L627.5 1399.2 L629.6 1398.6 L631.7 1398.0 L633.7 1397.4 L635.8 1396.8 L637.9 1396.4 L639.9 1395.9 L642.0 1395.5 L644.1 1395.2 L646.1 1394.9 L648.2 1394.6 L650.3 1394.3 L652.3 1394.0 L654.4 1393.8 L656.5 1393.6 L658.5 1393.3 L660.6 1393.1 L662.7 1392.8 L664.7 1392.5 L666.8 1392.2 L668.9 1391.8 L670.9 1391.4 L673.0 1391.0 L675.1 1390.6 L677.1 1390.2 L679.2 1389.8 L681.3 1389.3 L683.3 1388.9 L685.4 1388.4 L687.5 1387.9 L689.5 1387.4 L691.6 1386.9 L693.7 1386.3 L695.7 1385.8 L697.8 1385.2 L699.9 1384.6 L701.9 1383.9 L704.0 1383.2 L706.1 1382.5 L708.1 1381.7 L710.2 1380.8 L712.3 1379.9 L714.3 1379.0 L716.4 1378.0 L718.5 1377.0 L720.5 1376.0 L722.6 1375.0 L724.7 1374.1 L726.7 1373.1 L728.8 1372.2 L730.9 1371.4 L732.9 1370.6 L735.0 1369.9 L737.1 1369.3 L739.1 1368.8 L741.2 1368.3 L743.3 1367.9 L745.4 1367.5 L747.4 1367.1 L749.5 1366.8 L751.6 1366.6 L753.6 1366.3 L755.7 1366.1 L757.8 1366.0 L759.8 1365.8 L761.9 1365.7 L764.0 1365.5 L766.0 1365.4 L768.1 1365.3 L770.2 1365.2 L772.2 1365.1 L774.3 1365.1 L776.4 1365.1 L778.4 1365.1 L780.5 1365.2 L782.6 1365.2 L784.6 1365.3 L786.7 1365.4 L788.8 1365.5 L790.8 1365.6 L792.9 1365.7 L795.0 1365.8 L797.0 1365.9 L799.1 1366.0 L801.2 1366.0 L803.2 1366.0 L805.3 1366.0 L807.4 1366.1 L809.4 1366.1 L811.5 1366.1 L813.6 1366.1 L815.6 1366.2 L817.7 1366.2 L819.8 1366.2 L821.8 1366.1 L823.9 1366.1 L826.0 1366.0 L828.0 1365.9 L830.1 1365.8 L832.2 1365.7 L834.2 1365.5 L836.3 1365.2 L838.4 1364.9 L840.4 1364.6 L842.5 1364.2 L844.6 1363.7 L846.6 1363.2 L848.7 1362.7 L850.8 1362.2 L852.8 1361.7 L854.9 1361.1 L857.0 1360.5 L859.1 1360.0 L861.1 1359.4 L863.2 1358.9 L865.3 1358.4 L867.3 1357.9 L869.4 1357.5 L871.5 1357.1 L873.5 1356.8 L875.6 1356.4 L877.7 1356.1 L879.7 1355.9 L881.8 1355.6 L883.9 1355.3 L885.9 1355.0 L888.0 1354.8 L890.1 1354.5 L892.1 1354.2 L894.2 1353.8 L896.3 1353.5 L898.3 1353.1 L900.4 1352.6 L902.5 1352.1 L904.5 1351.5 L906.6 1350.9 L908.7 1350.2 L910.7 1349.4 L912.8 1348.6 L914.9 1347.7 L916.9 1346.9 L919.0 1346.0 L921.1 1345.2 L923.1 1344.4 L925.2 1343.6 L927.3 1342.8 L929.3 1342.2 L931.4 1341.6 L933.5 1341.0 L935.5 1340.6 L937.6 1340.3 L939.7 1340.1 L941.7 1339.9 L943.8 1339.8 L945.9 1339.8 L947.9 1339.8 L950.0 1339.8 L952.1 1339.9 L954.1 1340.0 L956.2 1340.1 L958.3 1340.2 L960.3 1340.4 L962.4 1340.5 L964.5 1340.6 L966.5 1340.6 L968.6 1340.6 L970.7 1340.6 L972.7 1340.6 L974.8 1340.6 L976.9 1340.6 L979.0 1340.6 L981.0 1340.6 L983.1 1340.6 L985.2 1340.6 L987.2 1340.6 L989.3 1340.6 L991.4 1340.6 L993.4 1340.6 L995.5 1340.6 L997.6 1340.6 L999.6 1340.6 L1001.7 1340.6 L1003.8 1340.6 L1005.8 1340.6 L1007.9 1340.6 L1010.0 1340.6 L1012.0 1340.6 L1014.1 1340.6 L1016.2 1340.6 L1018.2 1340.6 L1020.3 1340.6 L1022.4 1340.6 L1024.4 1340.6 L1026.5 1340.6 L1028.6 1340.6 L1030.6 1340.6 L1032.7 1340.6 L1034.8 1340.6 L1036.8 1340.6 L1038.9 1340.6 L1041.0 1340.6 L1043.0 1340.6 L1045.1 1340.6 L1047.2 1340.6 L1049.2 1340.6 L1051.3 1340.6 L1053.4 1340.6 L1055.4 1340.6 L1057.5 1340.6 L1059.6 1340.6 L1061.6 1340.6 L1063.7 1340.6 L1065.8 1340.6 L1067.8 1340.6 L1069.9 1340.6 L1072.0 1340.6 L1074.0 1340.6 L1076.1 1340.6 L1078.2 1340.6 L1080.2 1340.6 L1082.3 1340.6 L1084.4 1340.6 L1086.4 1340.6 L1088.5 1340.6 L1090.6 1340.6 L1092.7 1340.6 L1094.7 1340.6 L1096.8 1340.6 L1098.9 1340.6 L1100.9 1340.6 L1103.0 1340.6 L1105.1 1340.6 L1107.1 1340.6 L1109.2 1340.6 L1111.3 1340.6 L1113.3 1340.6 L1115.4 1340.6 L1117.5 1340.6 L1119.5 1340.6 L1121.6 1340.6 L1123.7 1340.6 L1125.7 1340.6 L1127.8 1340.6 L1129.9 1340.6 L1131.9 1340.6 L1134.0 1340.6 L1136.1 1340.6 L1138.1 1340.6 L1140.2 1340.6 L1142.3 1340.6 L1144.3 1340.6 L1146.4 1340.6 L1148.5 1340.6 L1150.5 1340.6 L1152.6 1340.6 L1154.7 1340.6 L1156.7 1340.6 L1158.8 1340.6 L1160.9 1340.6 L1162.9 1340.6 L1165.0 1340.6 L1167.1 1340.6 L1169.1 1340.7 L1171.2 1340.7 L1173.3 1340.8 L1175.3 1340.9 L1177.4 1340.9 L1179.5 1341.0 L1181.5 1341.1 L1183.6 1341.2 L1185.7 1341.3 L1187.7 1341.3 L1189.8 1341.4 L1191.9 1341.5 L1193.9 1341.5 L1196.0 1341.6 L1198.1 1341.6 L1200.1 1341.6 L1202.2 1341.6 L1204.3 1341.6 L1206.4 1341.6 L1208.4 1341.6 L1210.5 1341.6 L1212.6 1341.6 L1214.6 1341.5 L1216.7 1341.5 L1218.8 1341.4 L1220.8 1341.4 L1222.9 1341.3 L1225.0 1341.2 L1227.0 1341.1 L1229.1 1341.0 L1231.2 1340.8 L1233.2 1340.6 L1235.3 1340.4 L1237.4 1340.2 L1239.4 1339.9 L1241.5 1339.5 L1243.6 1339.2 L1245.6 1338.8 L1247.7 1338.4 L1249.8 1338.1 L1251.8 1337.7 L1253.9 1337.3 L1256.0 1337.0 L1258.0 1336.6 L1260.1 1336.3 L1262.2 1336.1 L1264.2 1335.9 L1266.3 1335.7 L1268.4 1335.6 L1270.4 1335.5 L1272.5 1335.5 L1274.6 1335.5 L1276.6 1335.6 L1278.7 1335.6 L1280.8 1335.7 L1282.8 1335.8 L1284.9 1335.9 L1287.0 1336.0 L1289.0 1336.1 L1291.1 1336.3 L1293.2 1336.3 L1295.2 1336.4 L1297.3 1336.5 L1299.4 1336.5 L1301.4 1336.6 L1303.5 1336.6 L1305.6 1336.6 L1307.6 1336.6 L1309.7 1336.6 L1311.8 1336.6 L1313.8 1336.6 L1315.9 1336.6 L1318.0 1336.6 L1320.1 1336.6 L1322.1 1336.6 L1324.2 1336.6 L1326.3 1336.5 L1328.3 1336.5 L1330.4 1336.5 L1332.5 1336.5 L1334.5 1336.5 L1336.6 1336.5 L1338.7 1336.5 L1340.7 1336.5 L1342.8 1336.5 L1344.9 1336.5 L1346.9 1336.5 L1349.0 1336.5 L1351.1 1336.5 L1353.1 1336.5 L1355.2 1336.5 L1357.3 1336.5 L1359.3 1336.5 L1361.4 1336.5 L1363.5 1336.5 L1365.5 1336.5 L1367.6 1336.5 L1369.7 1336.5 L1371.7 1336.5 L1373.8 1336.5 L1375.9 1336.5 L1377.9 1336.5 L1380.0 1336.5 L1382.1 1336.5 L1384.1 1336.5 L1386.2 1336.5 L1388.3 1336.5 L1390.3 1336.5 L1392.4 1336.5 L1394.5 1336.5 L1396.5 1336.5 L1398.6 1336.5 L1400.7 1336.5 L1402.7 1336.6 L1404.8 1336.6 L1406.9 1336.6 L1408.9 1336.7 L1411.0 1336.7 L1413.1 1336.7 L1415.1 1336.8 L1417.2 1336.8 L1419.3 1336.8 L1421.3 1336.8 L1423.4 1336.8 L1425.5 1336.8 L1427.5 1336.7 L1429.6 1336.6 L1431.7 1336.5 L1433.7 1336.4 L1435.8 1336.2 L1437.9 1336.0 L1440.0 1335.8 L1442.0 1335.5 L1444.1 1335.2 L1446.2 1334.9 L1448.2 1334.6 L1450.3 1334.3 L1452.4 1334.0 L1454.4 1333.8 L1456.5 1333.5 L1458.6 1333.3 L1460.6 1333.1 L1462.7 1332.9 L1464.8 1332.8 L1466.8 1332.7 L1468.9 1332.6 L1471.0 1332.6 L1473.0 1332.6 L1475.1 1332.6 L1477.2 1332.6 L1479.2 1332.7 L1481.3 1332.7 L1483.4 1332.8 L1485.4 1332.9 L1487.5 1332.9 L1489.6 1333.0 L1491.6 1333.0 L1493.7 1333.1 L1495.8 1333.1 L1497.8 1333.1 L1499.9 1333.1 L1502.0 1333.1 L1504.0 1333.1 L1506.1 1333.1 L1508.2 1333.1 L1510.2 1333.1 L1512.3 1333.1 L1514.4 1333.0 L1516.4 1333.0 L1518.5 1333.0 L1520.6 1332.9 L1522.6 1332.9 L1524.7 1332.8 L1526.8 1332.7 L1528.8 1332.6 L1530.9 1332.4 L1533.0 1332.3 L1535.0 1332.1 L1537.1 1331.8 L1539.2 1331.6 L1541.2 1331.3 L1543.3 1331.0 L1545.4 1330.7 L1547.4 1330.3 L1549.5 1330.0 L1551.6 1329.7 L1553.7 1329.4 L1555.7 1329.2 L1557.8 1328.9 L1559.9 1328.7 L1561.9 1328.5 L1564.0 1328.3 L1566.1 1328.2 L1568.1 1328.1 L1570.2 1328.1 L1572.3 1328.1 L1574.3 1328.0 L1576.4 1328.0 L1578.5 1328.1 L1580.5 1328.1 L1582.6 1328.1 L1584.7 1328.2 L1586.7 1328.2 L1588.8 1328.2 L1590.9 1328.3 L1592.9 1328.3 L1595.0 1328.3 L1597.1 1328.3 L1599.1 1328.3 L1601.2 1328.3 L1603.3 1328.3 L1605.3 1328.3 L1607.4 1328.3 L1609.5 1328.3 L1611.5 1328.3 L1613.6 1328.3 L1615.7 1328.3 L1617.7 1328.3 L1619.8 1328.3 L1621.9 1328.3 L1623.9 1328.3 L1626.0 1328.3 L1628.1 1328.3 L1630.1 1328.3 L1632.2 1328.3 L1634.3 1328.3 L1636.3 1328.3 L1638.4 1328.3 L1640.5 1328.3 L1642.5 1328.3 L1644.6 1328.3 L1646.7 1328.3 L1648.7 1328.3 L1650.8 1328.3 L1652.9 1328.3 L1654.9 1328.3 L1657.0 1328.3 L1659.1 1328.3 L1661.1 1328.3 L1663.2 1328.3 L1665.3 1328.3 L1667.4 1328.4 L1669.4 1328.4 L1671.5 1328.4 L1673.6 1328.4 L1675.6 1328.5 L1677.7 1328.5 L1679.8 1328.5 L1681.8 1328.5 L1683.9 1328.6 L1686.0 1328.6 L1688.0 1328.5 L1690.1 1328.5 L1692.2 1328.5 L1694.2 1328.4 L1696.3 1328.3 L1698.4 1328.2 L1700.4 1328.1 L1702.5 1327.9 L1704.6 1327.7 L1706.6 1327.5 L1708.7 1327.3 L1710.8 1327.1 L1712.8 1326.9 L1714.9 1326.6 L1717.0 1326.4 L1719.0 1326.2 L1721.1 1326.0 L1723.2 1325.8 L1725.2 1325.6 L1727.3 1325.5 L1729.4 1325.4 L1731.4 1325.3 L1733.5 1325.3 L1735.6 1325.3 L1737.6 1325.3 L1739.7 1325.3 L1741.8 1325.3 L1743.8 1325.4 L1745.9 1325.5 L1748.0 1325.5 L1750.0 1325.5 L1752.1 1325.6 L1754.2 1325.6 L1756.2 1325.6 L1758.3 1325.6 L1760.4 1325.5 L1762.4 1325.4 L1764.5 1325.2 L1766.6 1325.1 L1768.6 1324.8 L1770.7 1324.6 L1772.8 1324.3 L1774.8 1324.0 L1776.9 1323.7 L1779.0 1323.4 L1781.1 1323.1 L1783.1 1322.8 L1785.2 1322.5 L1787.3 1322.3 L1789.3 1322.0 L1791.4 1321.8 L1793.5 1321.6 L1795.5 1321.5 L1797.6 1321.3 L1799.7 1321.3 L1801.7 1321.2 L1803.8 1321.2 L1805.9 1321.1 L1807.9 1321.1 L1810.0 1321.1 L1812.1 1321.1 L1814.1 1321.2 L1816.2 1321.2 L1818.3 1321.2 L1820.3 1321.3 L1822.4 1321.3 L1824.5 1321.4 L1826.5 1321.4 L1828.6 1321.5 L1830.7 1321.5 L1832.7 1321.6 L1834.8 1321.8 L1836.9 1322.0 L1838.9 1322.2 L1841.0 1322.4 L1843.1 1322.6 L1845.1 1322.8 L1847.2 1323.0 L1849.3 1323.2 L1851.3 1323.3 L1853.4 1323.3 L1855.5 1323.3 L1857.5 1323.1 L1859.6 1322.9 L1861.7 1322.6 L1863.7 1322.2 L1865.8 1321.6 L1867.9 1320.8 L1869.9 1320.0 L1872.0 1319.1 L1874.1 1318.2 L1876.1 1317.1 L1878.2 1316.1 L1880.3 1315.1 L1882.3 1314.1 L1884.4 1313.1 L1886.5 1312.2 L1888.5 1311.3 L1890.6 1310.6 L1892.7 1310.0 L1894.8 1309.5 L1896.8 1309.1 L1898.9 1308.9 L1901.0 1308.8 L1903.0 1308.7 L1905.1 1308.7 L1907.2 1308.8 L1909.2 1308.9 L1911.3 1309.1 L1913.4 1309.2 L1915.4 1309.4 L1917.5 1309.5 L1919.6 1309.6 L1921.6 1309.7 L1923.7 1309.7 L1925.8 1309.6 L1927.8 1309.5 L1929.9 1309.2 L1932.0 1308.9 L1934.0 1308.6 L1936.1 1308.2 L1938.2 1307.7 L1940.2 1307.2 L1942.3 1306.7 L1944.4 1306.2 L1946.4 1305.7 L1948.5 1305.2 L1950.6 1304.7 L1952.6 1304.3 L1954.7 1303.9 L1956.8 1303.5 L1958.8 1303.2 L1960.9 1302.9 L1963.0 1302.8 L1965.0 1302.6 L1967.1 1302.5 L1969.2 1302.5 L1971.2 1302.5 L1973.3 1302.5 L1975.4 1302.5 L1977.4 1302.5 L1979.5 1302.6 L1981.6 1302.6 L1983.6 1302.7 L1985.7 1302.8 L1987.8 1302.8 L1989.8 1302.9 L1991.9 1302.9 L1994.0 1302.9 L1996.0 1302.9 L1998.1 1302.9 L2000.2 1302.9 L2002.2 1302.9 L2004.3 1302.9 L2006.4 1302.9 L2008.4 1302.9 L2010.5 1302.9 L2012.6 1302.9 L2014.7 1302.9 L2016.7 1302.9 L2018.8 1302.9 L2020.9 1302.9 L2022.9 1302.9 L2025.0 1302.9 L2027.1 1302.9 L2029.1 1302.9 L2031.2 1302.9 L2033.3 1302.9 L2035.3 1302.9 L2037.4 1302.9 L2039.5 1302.9 L2041.5 1302.9 L2043.6 1302.9 L2045.7 1302.9 L2047.7 1302.9 L2049.8 1302.9 L2051.9 1302.9 L2053.9 1302.9 L2056.0 1302.9 L2058.1 1302.9 L2060.1 1302.9 L2062.2 1302.9 L2064.3 1302.9 L2066.3 1302.9 L2068.4 1302.9 L2070.5 1302.9 L2072.5 1302.9 L2074.6 1302.9 L2076.7 1302.9 L2078.7 1302.9 L2080.8 1302.9 L2082.9 1302.9 L2084.9 1302.9 L2087.0 1302.9 L2089.1 1302.9 L2091.1 1302.9 L2093.2 1302.9 L2095.3 1302.9 L2097.3 1302.9 L2099.4 1302.9 L2101.5 1302.9 L2103.5 1302.9 L2105.6 1302.9 L2107.7 1302.9 L2109.7 1302.9 L2111.8 1302.9 L2113.9 1302.9 L2115.9 1302.9 L2118.0 1302.9 L2120.1 1302.9 L2122.1 1302.9 L2124.2 1302.9 L2126.3 1302.9 L2128.4 1302.9 L2130.4 1302.9 L2132.5 1302.9 L2134.6 1302.9 L2136.6 1302.9 L2138.7 1302.9 L2140.8 1302.9 L2142.8 1302.9 L2144.9 1302.9 L2147.0 1302.9 L2149.0 1302.9 L2151.1 1302.9 L2153.2 1302.9 L2155.2 1302.9 L2157.3 1302.9 L2159.4 1302.9 L2161.4 1302.9 L2163.5 1302.9 L2165.6 1302.9 L2167.6 1302.9 L2169.7 1303.0 L2171.8 1303.0 L2173.8 1303.0 L2175.9 1303.0 L2178.0 1303.0 L2180.0 1303.0 L2182.1 1303.0 L2184.2 1303.0 L2186.2 1303.0 L2188.3 1303.0 L2190.4 1302.9 L2192.4 1302.9 L2194.5 1302.9 L2196.6 1302.9 L2198.6 1302.9 L2200.7 1302.9 L2202.8 1302.9 L2204.8 1302.9 L2206.9 1302.9 L2209.0 1302.8 L2211.0 1302.8 L2213.1 1302.8 L2215.2 1302.8 L2217.2 1302.7 L2219.3 1302.7 L2221.4 1302.6 L2223.4 1302.5 L2225.5 1302.4 L2227.6 1302.3 L2229.6 1302.2 L2231.7 1302.1 L2233.8 1302.0 L2235.8 1301.8 L2237.9 1301.7 L2240.0 1301.5 L2242.1 1301.4 L2244.1 1301.2 L2246.2 1301.0 L2248.3 1300.9 L2250.3 1300.7 L2252.4 1300.5 L2254.5 1300.3 L2256.5 1300.2 L2258.6 1300.0 L2260.7 1299.8 L2262.7 1299.6 L2264.8 1299.4 L2266.9 1299.2 L2268.9 1299.0 L2271.0 1298.8 L2273.1 1298.6 L2275.1 1298.4 L2277.2 1298.2 L2279.3 1298.0 L2281.3 1297.8 L2283.4 1297.6 L2285.5 1297.4 L2287.5 1297.2 L2289.6 1297.0 L2291.7 1296.9 L2293.7 1296.7 L2295.8 1296.5 L2297.9 1296.4 L2299.9 1296.2 L2302.0 1296.0 L2304.1 1295.9 L2306.1 1295.7 L2308.2 1295.6 L2310.3 1295.4 L2312.3 1295.3 L2314.4 1295.2 L2316.5 1295.1 L2318.5 1295.0 L2320.6 1294.9 L2322.7 1294.8 L2324.7 1294.7 L2326.8 1294.7 L2328.9 1294.7 L2330.9 1294.7 L2333.0 1294.7 L2335.1 1294.7 L2337.1 1294.7 L2339.2 1294.8 L2341.3 1294.8 L2343.3 1294.9 L2345.4 1294.9 L2347.5 1295.0 L2349.5 1295.0 L2351.6 1295.0 L2353.7 1295.1 L2355.8 1295.1 L2357.8 1295.1 L2359.9 1295.1 L2362.0 1295.0 L2364.0 1295.0 L2366.1 1295.0 L2368.2 1295.0 L2370.2 1295.0 L2372.3 1295.0 L2374.4 1295.0 L2376.4 1295.0 L2378.5 1294.9 L2380.6 1294.9 L2382.6 1294.8 L2384.7 1294.7 L2386.8 1294.6 L2388.8 1294.4 L2390.9 1294.2 L2393.0 1294.0 L2395.0 1293.8 L2397.1 1293.5 L2399.2 1293.2 L2401.2 1292.8 L2403.3 1292.4 L2405.4 1292.1 L2407.4 1291.7 L2409.5 1291.3 L2411.6 1290.9 L2413.6 1290.5 L2415.7 1290.2 L2417.8 1289.9 L2419.8 1289.6 L2421.9 1289.4 L2424.0 1289.2 L2426.0 1289.0 L2428.1 1288.9 L2430.2 1288.8 L2432.2 1288.8 L2434.3 1288.8 L2436.4 1288.8 L2438.4 1288.8 L2440.5 1288.8 L2442.6 1288.9 L2444.6 1288.9 L2446.7 1288.9 L2448.8 1288.9 L2450.8 1289.0 L2452.9 1288.9 L2455.0 1288.9 L2457.0 1288.8 L2459.1 1288.7 L2461.2 1288.6 L2463.2 1288.5 L2465.3 1288.4 L2467.4 1288.2 L2469.4 1288.1 L2471.5 1287.9 L2473.6 1287.7 L2475.7 1287.6 L2477.7 1287.4 L2479.8 1287.2 L2481.9 1287.1 L2483.9 1286.9 L2486.0 1286.8 L2488.1 1286.7 L2490.1 1286.5 L2492.2 1286.5 L2494.3 1286.4 L2496.3 1286.3 L2498.4 1286.3 L2500.5 1286.2 L2502.5 1286.2 L2504.6 1286.2 L2506.7 1286.1 L2508.7 1286.1 L2510.8 1286.1 L2512.9 1286.1 L2514.9 1286.0 L2517.0 1286.0 L2519.1 1285.9 L2521.1 1285.8 L2523.2 1285.7 L2525.3 1285.6 L2527.3 1285.5 L2529.4 1285.4 L2531.5 1285.3 L2533.5 1285.1 L2535.6 1285.0 L2537.7 1284.8 L2539.7 1284.7 L2541.8 1284.5 L2543.9 1284.4 L2545.9 1284.2 L2548.0 1284.0 L2550.1 1283.8 L2552.1 1283.6 L2554.2 1283.5 L2556.3 1283.3 L2558.3 1283.1 L2560.4 1282.8 L2562.5 1282.6 L2564.5 1282.3 L2566.6 1282.1 L2568.7 1281.8 L2570.7 1281.5 L2572.8 1281.3 L2574.9 1281.0 L2576.9 1280.7 L2579.0 1280.5 L2581.1 1280.2 L2583.1 1280.0 L2585.2 1279.8 L2587.3 1279.6 L2589.4 1279.5 L2591.4 1279.4 L2593.5 1279.3 L2595.6 1279.2 L2597.6 1279.1 L2599.7 1279.1 L2601.8 1279.1 L2603.8 1279.0 L2605.9 1279.0 L2608.0 1279.0 L2610.0 1279.0 L2612.1 1279.0 L2614.2 1279.0 L2616.2 1279.0 L2618.3 1279.0 L2620.4 1279.0 L2622.4 1279.0 L2624.5 1279.0 L2626.6 1279.0 L2628.6 1279.0 L2630.7 1279.0 L2632.8 1279.0 L2634.8 1279.0 L2636.9 1279.0 L2639.0 1279.0 L2641.0 1279.1 L2643.1 1279.1 L2645.2 1279.1 L2647.2 1279.1 L2649.3 1279.1 L2651.4 1279.1 L2653.4 1279.0 L2655.5 1279.0 L2657.6 1279.0 L2659.6 1278.9 L2661.7 1278.8 L2663.8 1278.8 L2665.8 1278.7 L2667.9 1278.6 L2670.0 1278.5 L2672.0 1278.4 L2674.1 1278.3 L2676.2 1278.2 L2678.2 1278.1 L2680.3 1278.1 L2682.4 1278.0 L2684.4 1277.9 L2686.5 1277.9 L2688.6 1277.9 L2690.6 1277.8 L2692.7 1277.8 L2694.8 1277.9 L2696.8 1277.9 L2698.9 1277.9 L2701.0 1277.9 L2703.1 1278.0 L2705.1 1278.0 L2707.2 1278.1 L2709.3 1278.1 L2711.3 1278.2 L2713.4 1278.2 L2715.5 1278.3 L2717.5 1278.3 L2719.6 1278.3 L2721.7 1278.3 L2723.7 1278.4 L2725.8 1278.4 L2727.9 1278.4 L2729.9 1278.4 L2732.0 1278.5 L2734.1 1278.5 L2736.1 1278.5 L2738.2 1278.5 L2740.3 1278.5 L2742.3 1278.5 L2744.4 1278.5 L2746.5 1278.5 L2748.5 1278.5 L2750.6 1278.4 L2752.7 1278.4 L2754.7 1278.3 L2756.8 1278.3 L2758.9 1278.2 L2760.9 1278.1 L2763.0 1278.0 L2765.1 1277.8 L2767.1 1277.7 L2769.2 1277.5 L2771.3 1277.4 L2773.3 1277.2 L2775.4 1277.1 L2777.5 1276.9 L2779.5 1276.8 L2781.6 1276.7 L2783.7 1276.5 L2785.7 1276.5 L2787.8 1276.4 L2789.9 1276.3 L2791.9 1276.3 L2794.0 1276.3 L2796.1 1276.2 L2798.1 1276.2 L2800.2 1276.2 L2802.3 1276.2 L2804.3 1276.2 L2806.4 1276.2 L2808.5 1276.2 L2810.5 1276.3 L2812.6 1276.3 L2814.7 1276.3 L2816.8 1276.3 L2818.8 1276.4 L2820.9 1276.4 L2823.0 1276.4 L2825.0 1276.4 L2827.1 1276.5 L2829.2 1276.6 L2831.2 1276.6 L2833.3 1276.7 L2835.4 1276.7 L2837.4 1276.8 L2839.5 1276.9 L2841.6 1276.9 L2843.6 1277.0 L2845.7 1277.0 L2847.8 1277.0 L2849.8 1277.1 L2851.9 1277.1 L2854.0 1277.0 L2856.0 1277.0 L2858.1 1277.0 L2860.2 1277.0 L2862.2 1277.0 L2864.3 1276.9 L2866.4 1276.9 L2868.4 1276.8 L2870.5 1276.8 L2872.6 1276.7 L2874.6 1276.6 L2876.7 1276.5 L2878.8 1276.4 L2880.8 1276.2 L2882.9 1276.0 L2885.0 1275.8 L2887.0 1275.6 L2889.1 1275.3 L2891.2 1275.0 L2893.2 1274.6 L2895.3 1274.3 L2897.4 1273.9 L2899.4 1273.4 L2901.5 1273.0 L2903.6 1272.6 L2905.6 1272.1 L2907.7 1271.6 L2909.8 1271.1 L2911.8 1270.6 L2913.9 1270.1 L2916.0 1269.6 L2918.0 1269.0 L2920.1 1268.5 L2922.2 1268.0 L2924.2 1267.4 L2926.3 1266.9 L2928.4 1266.3 L2930.4 1265.7 L2932.5 1265.2 L2934.6 1264.6 L2936.7 1263.9 L2938.7 1263.3 L2940.8 1262.7 L2942.9 1262.1 L2944.9 1261.4 L2947.0 1260.8 L2949.1 1260.2 L2951.1 1259.5 L2953.2 1258.8 L2955.3 1258.2 L2957.3 1257.5 L2959.4 1256.9 L2961.5 1256.2 L2963.5 1255.6 L2965.6 1254.9 L2967.7 1254.2 L2969.7 1253.5 L2971.8 1252.8 L2973.9 1252.1 L2975.9 1251.4 L2978.0 1250.7 L2980.1 1249.9 L2982.1 1249.1 L2984.2 1248.4 L2986.3 1247.5 L2988.3 1246.7 L2990.4 1245.8 L2992.5 1244.9 L2994.5 1244.0 L2996.6 1243.1 L2998.7 1242.1 L3000.7 1241.2 L3002.8 1240.2 L3004.9 1239.2 L3006.9 1238.3 L3009.0 1237.3 L3011.1 1236.3 L3013.1 1235.3 L3015.2 1234.4 L3017.3 1233.4 L3019.3 1232.5 L3021.4 1231.5 L3023.5 1230.5 L3025.5 1229.5 L3027.6 1228.4 L3029.7 1227.3 L3031.7 1226.2 L3033.8 1225.2 L3035.9 1224.1 L3037.9 1223.1 L3040.0 1222.1 L3042.1 1221.2 L3044.1 1220.3 L3046.2 1219.5 L3048.3 1218.8 L3050.4 1218.2 L3052.4 1217.7 L3054.5 1217.3 L3056.6 1217.0 L3058.6 1216.9 L3060.7 1216.8 L3062.8 1216.8 L3064.8 1216.8 L3066.9 1216.9 L3069.0 1217.1 L3071.0 1217.2 L3073.1 1217.4 L3075.2 1217.6 L3077.2 1217.8 L3079.3 1217.9 L3081.4 1218.0 L3083.4 1218.0 L3085.5 1218.0 L3087.6 1218.0 L3089.6 1217.9 L3091.7 1217.9 L3093.8 1217.9 L3095.8 1217.8 L3097.9 1217.8 L3100.0 1217.7 L3102.0 1217.6 L3104.1 1217.5 L3106.2 1217.4 L3108.2 1217.3 L3110.3 1217.1 L3112.4 1216.9 L3114.4 1216.7 L3116.5 1216.4 L3118.6 1216.1 L3120.6 1215.7 L3122.7 1215.2 L3124.8 1214.6 L3126.8 1214.0 L3128.9 1213.3 L3131.0 1212.5 L3133.0 1211.8 L3135.1 1211.1 L3137.2 1210.3 L3139.2 1209.7 L3141.3 1209.0 L3143.4 1208.5 L3145.4 1208.0 L3147.5 1207.6 L3149.6 1207.3 L3151.6 1207.2 L3153.7 1207.2 L3155.8 1207.4 L3157.8 1207.7 L3159.9 1208.1 L3162.0 1208.6 L3164.1 1209.1 L3166.1 1209.7 L3168.2 1210.4 L3170.3 1211.0 L3172.3 1211.7 L3174.4 1212.3 L3176.5 1212.9 L3178.5 1213.4 L3180.6 1213.8 L3182.7 1214.2 L3184.7 1214.4 L3186.8 1214.6 L3188.9 1214.8 L3190.9 1215.0 L3193.0 1215.2 L3195.1 1215.4 L3197.1 1215.5 L3199.2 1215.6 L3201.3 1215.6 L3203.3 1215.6 L3205.4 1215.5 L3207.5 1215.4 L3209.5 1215.1 L3211.6 1214.7 L3213.7 1214.2 L3215.7 1213.6 L3217.8 1212.8 L3219.9 1211.8 L3221.9 1210.7 L3224.0 1209.3 L3226.1 1207.8 L3228.1 1206.2 L3230.2 1204.4 L3232.3 1202.6 L3234.3 1200.8 L3236.4 1198.9 L3238.5 1197.0 L3240.5 1195.2 L3242.6 1193.4 L3244.7 1191.7 L3246.7 1190.1 L3248.8 1188.7 L3250.9 1187.4 L3252.9 1186.3 L3255.0 1185.5 L3257.1 1184.8 L3259.1 1184.2 L3261.2 1183.8 L3263.3 1183.4 L3265.3 1183.0 L3267.4 1182.6 L3269.5 1182.2 L3271.5 1181.7 L3273.6 1181.1 L3275.7 1180.3 L3277.8 1179.4 L3279.8 1178.2 L3281.9 1176.8 L3284.0 1175.1 L3286.1 1173.0 L3288.3 1170.5 L3290.6 1167.7 L3293.0 1164.6 L3295.4 1161.3 L3297.8 1157.8 L3300.2 1154.2 L3302.6 1150.6 L3303.7 1148.9" fill="none" stroke="#00b050" stroke-width="16.3" stroke-linecap="round" stroke-linejoin="round"/><path d="M3317.0 1127.7 L3313.5 1162.2 L3287.3 1145.6 Z" fill="#00b050"/>
<path d="M240.9 213.0 L242.1 214.1 L243.5 215.0 L245.1 215.8 L246.9 216.6 L248.8 217.5 L250.9 218.5 L253.1 219.7 L255.4 221.1 L257.8 222.9 L260.2 225.1 L262.6 227.7 L265.0 230.9 L267.3 234.7 L269.7 239.1 L271.9 244.3 L274.0 250.2 L276.1 256.7 L278.1 263.3 L280.2 270.2 L282.3 277.3 L284.4 284.9 L286.4 292.9 L288.5 301.5 L290.6 310.8 L292.6 320.8 L294.7 331.6 L296.8 343.2 L298.8 355.9 L300.9 369.6 L303.0 384.4 L305.0 400.5 L307.1 417.9 L309.2 437.2 L311.2 458.8 L313.3 482.4 L315.4 507.7 L317.4 534.3 L319.5 562.0 L321.6 590.4 L323.6 619.3 L325.7 648.2 L327.8 677.0 L329.8 705.2 L331.9 732.6 L334.0 758.9 L336.0 783.7 L338.1 806.7 L340.2 827.6 L342.2 847.0 L344.3 865.6 L346.4 883.5 L348.4 900.5 L350.5 916.9 L352.6 932.4 L354.6 947.3 L356.7 961.5 L358.8 975.0 L360.8 987.8 L362.9 999.9 L365.0 1011.4 L367.0 1022.3 L369.1 1032.5 L371.2 1042.1 L373.2 1051.1 L375.3 1059.3 L377.4 1066.3 L379.4 1072.2 L381.5 1077.3 L383.6 1081.6 L385.6 1085.2 L387.7 1088.2 L389.8 1090.7 L391.8 1092.9 L393.9 1094.8 L396.0 1096.5 L398.1 1098.3 L400.1 1100.1 L402.2 1102.1 L404.3 1104.3 L406.3 1107.0 L408.4 1109.9 L410.5 1112.7 L412.5 1115.4 L414.6 1118.1 L416.7 1120.6 L418.7 1123.2 L420.8 1125.6 L422.9 1128.0 L424.9 1130.2 L427.0 1132.5 L429.1 1134.6 L431.1 1136.7 L433.2 1138.7 L435.3 1140.6 L437.3 1142.5 L439.4 1144.2 L441.5 1145.9 L443.5 1147.5 L445.6 1148.9 L447.7 1150.2 L449.7 1151.4 L451.8 1152.6 L453.9 1153.7 L455.9 1154.7 L458.0 1155.7 L460.1 1156.7 L462.1 1157.7 L464.2 1158.7 L466.3 1159.6 L468.3 1160.7 L470.4 1161.7 L472.5 1162.9 L474.5 1164.0 L476.6 1165.2 L478.7 1166.4 L480.7 1167.5 L482.8 1168.7 L484.9 1169.9 L486.9 1171.0 L489.0 1172.2 L491.1 1173.4 L493.1 1174.5 L495.2 1175.7 L497.3 1176.8 L499.3 1178.0 L501.4 1179.2 L503.5 1180.3 L505.5 1181.5 L507.6 1182.7 L509.7 1184.0 L511.7 1185.3 L513.8 1186.6 L515.9 1187.9 L518.0 1189.3 L520.0 1190.7 L522.1 1192.0 L524.2 1193.3 L526.2 1194.5 L528.3 1195.7 L530.4 1196.8 L532.4 1197.8 L534.5 1198.7 L536.6 1199.5 L538.6 1200.1 L540.7 1200.6 L542.8 1200.9 L544.8 1201.0 L546.9 1201.0 L549.0 1200.9 L551.0 1200.7 L553.1 1200.4 L555.2 1200.1 L557.2 1199.8 L559.3 1199.6 L561.4 1199.4 L563.4 1199.3 L565.5 1199.2 L567.6 1199.4 L569.6 1199.6 L571.7 1200.1 L573.8 1200.8 L575.8 1201.6 L577.9 1202.5 L580.0 1203.5 L582.0 1204.6 L584.1 1205.7 L586.2 1207.0 L588.2 1208.3 L590.3 1209.6 L592.4 1210.9 L594.4 1212.3 L596.5 1213.7 L598.6 1215.0 L600.6 1216.3 L602.7 1217.6 L604.8 1218.8 L606.8 1219.9 L608.9 1221.1 L611.0 1222.2 L613.0 1223.4 L615.1 1224.6 L617.2 1225.7 L619.2 1226.9 L621.3 1228.1 L623.4 1229.2 L625.4 1230.4 L627.5 1231.6 L629.6 1232.7 L631.7 1233.9 L633.7 1235.0 L635.8 1236.2 L637.9 1237.4 L639.9 1238.6 L642.0 1239.8 L644.1 1241.1 L646.1 1242.5 L648.2 1243.8 L650.3 1245.2 L652.3 1246.5 L654.4 1247.9 L656.5 1249.1 L658.5 1250.4 L660.6 1251.6 L662.7 1252.7 L664.7 1253.7 L666.8 1254.6 L668.9 1255.3 L670.9 1256.0 L673.0 1256.5 L675.1 1256.8 L677.1 1256.9 L679.2 1256.9 L681.3 1256.8 L683.3 1256.5 L685.4 1256.3 L687.5 1256.0 L689.5 1255.7 L691.6 1255.5 L693.7 1255.2 L695.7 1255.1 L697.8 1255.1 L699.9 1255.2 L701.9 1255.5 L704.0 1256.0 L706.1 1256.7 L708.1 1257.4 L710.2 1258.3 L712.3 1259.3 L714.3 1260.4 L716.4 1261.6 L718.5 1262.9 L720.5 1264.1 L722.6 1265.5 L724.7 1266.8 L726.7 1268.2 L728.8 1269.5 L730.9 1270.9 L732.9 1272.2 L735.0 1273.4 L737.1 1274.6 L739.1 1275.8 L741.2 1277.1 L743.3 1278.4 L745.4 1279.7 L747.4 1281.1 L749.5 1282.4 L751.6 1283.8 L753.6 1285.1 L755.7 1286.4 L757.8 1287.6 L759.8 1288.8 L761.9 1289.9 L764.0 1290.9 L766.0 1291.8 L768.1 1292.6 L770.2 1293.2 L772.2 1293.8 L774.3 1294.1 L776.4 1294.4 L778.4 1294.6 L780.5 1294.6 L782.6 1294.6 L784.6 1294.5 L786.7 1294.4 L788.8 1294.3 L790.8 1294.1 L792.9 1293.9 L795.0 1293.7 L797.0 1293.5 L799.1 1293.4 L801.2 1293.3 L803.2 1293.2 L805.3 1293.2 L807.4 1293.2 L809.4 1293.2 L811.5 1293.2 L813.6 1293.2 L815.6 1293.2 L817.7 1293.2 L819.8 1293.2 L821.8 1293.2 L823.9 1293.2 L826.0 1293.2 L828.0 1293.2 L830.1 1293.2 L832.2 1293.2 L834.2 1293.2 L836.3 1293.2 L838.4 1293.2 L840.4 1293.1 L842.5 1293.0 L844.6 1292.8 L846.6 1292.6 L848.7 1292.4 L850.8 1292.2 L852.8 1292.1 L854.9 1292.0 L857.0 1291.9 L859.1 1291.9 L861.1 1291.9 L863.2 1292.1 L865.3 1292.4 L867.3 1292.7 L869.4 1293.2 L871.5 1293.9 L873.5 1294.8 L875.6 1295.9 L877.7 1297.0 L879.7 1298.3 L881.8 1299.7 L883.9 1301.1 L885.9 1302.6 L888.0 1304.0 L890.1 1305.4 L892.1 1306.8 L894.2 1308.1 L896.3 1309.3 L898.3 1310.3 L900.4 1311.2 L902.5 1311.9 L904.5 1312.4 L906.6 1312.8 L908.7 1313.0 L910.7 1313.2 L912.8 1313.3 L914.9 1313.2 L916.9 1313.2 L919.0 1313.0 L921.1 1312.9 L923.1 1312.7 L925.2 1312.5 L927.3 1312.3 L929.3 1312.1 L931.4 1312.0 L933.5 1311.9 L935.5 1311.9 L937.6 1311.9 L939.7 1311.9 L941.7 1311.9 L943.8 1311.9 L945.9 1311.9 L947.9 1311.9 L950.0 1311.9 L952.1 1311.9 L954.1 1311.9 L956.2 1311.9 L958.3 1311.9 L960.3 1311.9 L962.4 1311.9 L964.5 1311.9 L966.5 1311.9 L968.6 1311.9 L970.7 1311.9 L972.7 1311.9 L974.8 1311.9 L976.9 1311.9 L979.0 1311.9 L981.0 1311.9 L983.1 1311.9 L985.2 1311.9 L987.2 1311.9 L989.3 1311.9 L991.4 1311.9 L993.4 1311.9 L995.5 1311.9 L997.6 1311.9 L999.6 1311.9 L1001.7 1311.9 L1003.8 1311.8 L1005.8 1311.7 L1007.9 1311.6 L1010.0 1311.4 L1012.0 1311.2 L1014.1 1311.1 L1016.2 1310.9 L1018.2 1310.7 L1020.3 1310.6 L1022.4 1310.5 L1024.4 1310.5 L1026.5 1310.6 L1028.6 1310.7 L1030.6 1311.0 L1032.7 1311.4 L1034.8 1311.9 L1036.8 1312.6 L1038.9 1313.4 L1041.0 1314.5 L1043.0 1315.7 L1045.1 1316.9 L1047.2 1318.3 L1049.2 1319.7 L1051.3 1321.2 L1053.4 1322.6 L1055.4 1324.1 L1057.5 1325.4 L1059.6 1326.7 L1061.6 1327.9 L1063.7 1328.9 L1065.8 1329.8 L1067.8 1330.5 L1069.9 1331.0 L1072.0 1331.4 L1074.0 1331.7 L1076.1 1331.8 L1078.2 1331.9 L1080.2 1331.9 L1082.3 1331.8 L1084.4 1331.7 L1086.4 1331.5 L1088.5 1331.3 L1090.6 1331.1 L1092.7 1330.9 L1094.7 1330.8 L1096.8 1330.6 L1098.9 1330.5 L1100.9 1330.5 L1103.0 1330.5 L1105.1 1330.5 L1107.1 1330.5 L1109.2 1330.5 L1111.3 1330.5 L1113.3 1330.5 L1115.4 1330.5 L1117.5 1330.5 L1119.5 1330.5 L1121.6 1330.5 L1123.7 1330.5 L1125.7 1330.5 L1127.8 1330.5 L1129.9 1330.5 L1131.9 1330.5 L1134.0 1330.5 L1136.1 1330.5 L1138.1 1330.5 L1140.2 1330.5 L1142.3 1330.5 L1144.3 1330.5 L1146.4 1330.5 L1148.5 1330.5 L1150.5 1330.5 L1152.6 1330.5 L1154.7 1330.5 L1156.7 1330.5 L1158.8 1330.5 L1160.9 1330.5 L1162.9 1330.5 L1165.0 1330.5 L1167.1 1330.5 L1169.1 1330.5 L1171.2 1330.5 L1173.3 1330.5 L1175.3 1330.5 L1177.4 1330.5 L1179.5 1330.5 L1181.5 1330.5 L1183.6 1330.5 L1185.7 1330.5 L1187.7 1330.5 L1189.8 1330.5 L1191.9 1330.5 L1193.9 1330.5 L1196.0 1330.5 L1198.1 1330.5 L1200.1 1330.5 L1202.2 1330.5 L1204.3 1330.5 L1206.4 1330.5 L1208.4 1330.5 L1210.5 1330.5 L1212.6 1330.5 L1214.6 1330.5 L1216.7 1330.5 L1218.8 1330.5 L1220.8 1330.5 L1222.9 1330.5 L1225.0 1330.5 L1227.0 1330.5 L1229.1 1330.5 L1231.2 1330.5 L1233.2 1330.5 L1235.3 1330.5 L1237.4 1330.5 L1239.4 1330.5 L1241.5 1330.5 L1243.6 1330.5 L1245.6 1330.5 L1247.7 1330.5 L1249.8 1330.5 L1251.8 1330.5 L1253.9 1330.5 L1256.0 1330.5 L1258.0 1330.5 L1260.1 1330.5 L1262.2 1330.5 L1264.2 1330.5 L1266.3 1330.5 L1268.4 1330.5 L1270.4 1330.5 L1272.5 1330.5 L1274.6 1330.5 L1276.6 1330.5 L1278.7 1330.5 L1280.8 1330.5 L1282.8 1330.5 L1284.9 1330.5 L1287.0 1330.5 L1289.0 1330.5 L1291.1 1330.5 L1293.2 1330.5 L1295.2 1330.5 L1297.3 1330.5 L1299.4 1330.5 L1301.4 1330.5 L1303.5 1330.5 L1305.6 1330.5 L1307.6 1330.5 L1309.7 1330.5 L1311.8 1330.5 L1313.8 1330.5 L1315.9 1330.5 L1318.0 1330.5 L1320.1 1330.5 L1322.1 1330.5 L1324.2 1330.5 L1326.3 1330.5 L1328.3 1330.5 L1330.4 1330.5 L1332.5 1330.5 L1334.5 1330.5 L1336.6 1330.5 L1338.7 1330.5 L1340.7 1330.5 L1342.8 1330.5 L1344.9 1330.5 L1346.9 1330.5 L1349.0 1330.5 L1351.1 1330.5 L1353.1 1330.5 L1355.2 1330.5 L1357.3 1330.5 L1359.3 1330.5 L1361.4 1330.5 L1363.5 1330.5 L1365.5 1330.5 L1367.6 1330.5 L1369.7 1330.5 L1371.7 1330.5 L1373.8 1330.5 L1375.9 1330.5 L1377.9 1330.5 L1380.0 1330.5 L1382.1 1330.5 L1384.1 1330.5 L1386.2 1330.5 L1388.3 1330.5 L1390.3 1330.5 L1392.4 1330.5 L1394.5 1330.5 L1396.5 1330.5 L1398.6 1330.5 L1400.7 1330.5 L1402.7 1330.4 L1404.8 1330.2 L1406.9 1330.1 L1408.9 1329.9 L1411.0 1329.7 L1413.1 1329.5 L1415.1 1329.3 L1417.2 1329.2 L1419.3 1329.1 L1421.3 1329.1 L1423.4 1329.2 L1425.5 1329.3 L1427.5 1329.6 L1429.6 1330.0 L1431.7 1330.5 L1433.7 1331.2 L1435.8 1332.1 L1437.9 1333.1 L1440.0 1334.3 L1442.0 1335.6 L1444.1 1336.9 L1446.2 1338.4 L1448.2 1339.8 L1450.3 1341.3 L1452.4 1342.7 L1454.4 1344.1 L1456.5 1345.3 L1458.6 1346.5 L1460.6 1347.6 L1462.7 1348.4 L1464.8 1349.1 L1466.8 1349.6 L1468.9 1349.9 L1471.0 1350.0 L1473.0 1350.0 L1475.1 1349.9 L1477.2 1349.7 L1479.2 1349.4 L1481.3 1349.1 L1483.4 1348.8 L1485.4 1348.6 L1487.5 1348.4 L1489.6 1348.3 L1491.6 1348.2 L1493.7 1348.4 L1495.8 1348.6 L1497.8 1349.1 L1499.9 1349.8 L1502.0 1350.7 L1504.0 1351.7 L1506.1 1352.9 L1508.2 1354.2 L1510.2 1355.6 L1512.3 1357.0 L1514.4 1358.4 L1516.4 1359.9 L1518.5 1361.3 L1520.6 1362.7 L1522.6 1364.0 L1524.7 1365.1 L1526.8 1366.2 L1528.8 1367.1 L1530.9 1367.8 L1533.0 1368.3 L1535.0 1368.6 L1537.1 1368.9 L1539.2 1369.1 L1541.2 1369.1 L1543.3 1369.1 L1545.4 1369.0 L1547.4 1368.9 L1549.5 1368.8 L1551.6 1368.6 L1553.7 1368.4 L1555.7 1368.2 L1557.8 1368.0 L1559.9 1367.9 L1561.9 1367.8 L1564.0 1367.8 L1566.1 1367.8 L1568.1 1367.8 L1570.2 1367.8 L1572.3 1367.8 L1574.3 1367.8 L1576.4 1367.8 L1578.5 1367.8 L1580.5 1367.8 L1582.6 1367.8 L1584.7 1367.8 L1586.7 1367.8 L1588.8 1367.8 L1590.9 1367.8 L1592.9 1367.8 L1595.0 1367.8 L1597.1 1367.8 L1599.1 1367.8 L1601.2 1367.8 L1603.3 1367.8 L1605.3 1367.8 L1607.4 1367.8 L1609.5 1367.8 L1611.5 1367.8 L1613.6 1367.8 L1615.7 1367.8 L1617.7 1367.8 L1619.8 1367.8 L1621.9 1367.8 L1623.9 1367.8 L1626.0 1367.8 L1628.1 1367.8 L1630.1 1367.8 L1632.2 1367.7 L1634.3 1367.6 L1636.3 1367.5 L1638.4 1367.3 L1640.5 1367.1 L1642.5 1366.9 L1644.6 1366.7 L1646.7 1366.6 L1648.7 1366.5 L1650.8 1366.4 L1652.9 1366.4 L1654.9 1366.4 L1657.0 1366.6 L1659.1 1366.9 L1661.1 1367.2 L1663.2 1367.8 L1665.3 1368.4 L1667.4 1369.2 L1669.4 1370.1 L1671.5 1371.1 L1673.6 1372.2 L1675.6 1373.4 L1677.7 1374.6 L1679.8 1375.9 L1681.8 1377.2 L1683.9 1378.6 L1686.0 1379.9 L1688.0 1381.3 L1690.1 1382.6 L1692.2 1383.9 L1694.2 1385.2 L1696.3 1386.4 L1698.4 1387.6 L1700.4 1388.8 L1702.5 1390.1 L1704.6 1391.5 L1706.6 1392.8 L1708.7 1394.2 L1710.8 1395.5 L1712.8 1396.9 L1714.9 1398.1 L1717.0 1399.4 L1719.0 1400.6 L1721.1 1401.7 L1723.2 1402.7 L1725.2 1403.6 L1727.3 1404.3 L1729.4 1405.0 L1731.4 1405.5 L1733.5 1405.9 L1735.6 1406.2 L1737.6 1406.3 L1739.7 1406.4 L1741.8 1406.4 L1743.8 1406.3 L1745.9 1406.2 L1748.0 1406.0 L1750.0 1405.8 L1752.1 1405.6 L1754.2 1405.4 L1756.2 1405.3 L1758.3 1405.1 L1760.4 1405.0 L1762.4 1405.0 L1764.5 1405.0 L1766.6 1405.0 L1768.6 1405.0 L1770.7 1405.0 L1772.8 1405.0 L1774.8 1405.0 L1776.9 1405.0 L1779.0 1405.0 L1781.1 1405.0 L1783.1 1405.0 L1785.2 1405.0 L1787.3 1405.0 L1789.3 1405.0 L1791.4 1405.0 L1793.5 1405.0 L1795.5 1405.0 L1797.6 1405.0 L1799.7 1404.9 L1801.7 1404.7 L1803.8 1404.6 L1805.9 1404.4 L1807.9 1404.2 L1810.0 1404.0 L1812.1 1403.8 L1814.1 1403.7 L1816.2 1403.6 L1818.3 1403.6 L1820.3 1403.7 L1822.4 1403.8 L1824.5 1404.1 L1826.5 1404.5 L1828.6 1405.0 L1830.7 1405.7 L1832.7 1406.6 L1834.8 1407.6 L1836.9 1408.8 L1838.9 1410.1 L1841.0 1411.4 L1843.1 1412.9 L1845.1 1414.3 L1847.2 1415.8 L1849.3 1417.2 L1851.3 1418.6 L1853.4 1419.8 L1855.5 1421.0 L1857.5 1422.1 L1859.6 1422.9 L1861.7 1423.6 L1863.7 1424.1 L1865.8 1424.5 L1867.9 1424.8 L1869.9 1424.9 L1872.0 1425.0 L1874.1 1425.0 L1876.1 1424.9 L1878.2 1424.8 L1880.3 1424.6 L1882.3 1424.4 L1884.4 1424.3 L1886.5 1424.1 L1888.5 1423.9 L1890.6 1423.8 L1892.7 1423.7 L1894.8 1423.6 L1896.8 1423.6 L1898.9 1423.5 L1901.0 1423.4 L1903.0 1423.2 L1905.1 1423.0 L1907.2 1422.8 L1909.2 1422.6 L1911.3 1422.5 L1913.4 1422.3 L1915.4 1422.3 L1917.5 1422.2 L1919.6 1422.3 L1921.6 1422.5 L1923.7 1422.7 L1925.8 1423.1 L1927.8 1423.6 L1929.9 1424.3 L1932.0 1425.2 L1934.0 1426.2 L1936.1 1427.4 L1938.2 1428.7 L1940.2 1430.1 L1942.3 1431.5 L1944.4 1432.9 L1946.4 1434.4 L1948.5 1435.8 L1950.6 1437.2 L1952.6 1438.5 L1954.7 1439.6 L1956.8 1440.7 L1958.8 1441.6 L1960.9 1442.2 L1963.0 1442.8 L1965.0 1443.1 L1967.1 1443.4 L1969.2 1443.6 L1971.2 1443.6 L1973.3 1443.6 L1975.4 1443.5 L1977.4 1443.4 L1979.5 1443.3 L1981.6 1443.1 L1983.6 1442.9 L1985.7 1442.7 L1987.8 1442.5 L1989.8 1442.4 L1991.9 1442.3 L1994.0 1442.2 L1996.0 1442.2 L1998.1 1442.2 L2000.2 1442.2 L2002.2 1442.2 L2004.3 1442.2 L2006.4 1442.2 L2008.4 1442.2 L2010.5 1442.2 L2012.6 1442.2 L2014.7 1442.2 L2016.7 1442.2 L2018.8 1442.2 L2020.9 1442.2 L2022.9 1442.2 L2025.0 1442.2 L2027.1 1442.2 L2029.1 1442.2 L2031.2 1442.2 L2033.3 1442.2 L2035.3 1442.2 L2037.4 1442.2 L2039.5 1442.2 L2041.5 1442.2 L2043.6 1442.2 L2045.7 1442.2 L2047.7 1442.2 L2049.8 1442.2 L2051.9 1442.2 L2053.9 1442.2 L2056.0 1442.2 L2058.1 1442.2 L2060.1 1442.2 L2062.2 1442.2 L2064.3 1442.2 L2066.3 1442.2 L2068.4 1442.2 L2070.5 1442.2 L2072.5 1442.2 L2074.6 1442.2 L2076.7 1442.2 L2078.7 1442.2 L2080.8 1442.2 L2082.9 1442.2 L2084.9 1442.2 L2087.0 1442.2 L2089.1 1442.2 L2091.1 1442.2 L2093.2 1442.2 L2095.3 1442.2 L2097.3 1442.2 L2099.4 1442.2 L2101.5 1442.2 L2103.5 1442.2 L2105.6 1442.2 L2107.7 1442.2 L2109.7 1442.2 L2111.8 1442.2 L2113.9 1442.2 L2115.9 1442.2 L2118.0 1442.2 L2120.1 1442.2 L2122.1 1442.2 L2124.2 1442.2 L2126.3 1442.2 L2128.4 1442.2 L2130.4 1442.2 L2132.5 1442.2 L2134.6 1442.2 L2136.6 1442.2 L2138.7 1442.2 L2140.8 1442.2 L2142.8 1442.2 L2144.9 1442.2 L2147.0 1442.2 L2149.0 1442.2 L2151.1 1442.2 L2153.2 1442.2 L2155.2 1442.2 L2157.3 1442.2 L2159.4 1442.2 L2161.4 1442.2 L2163.5 1442.1 L2165.6 1442.0 L2167.6 1441.8 L2169.7 1441.6 L2171.8 1441.4 L2173.8 1441.2 L2175.9 1441.1 L2178.0 1441.0 L2180.0 1440.9 L2182.1 1440.9 L2184.2 1440.9 L2186.2 1441.1 L2188.3 1441.4 L2190.4 1441.7 L2192.4 1442.2 L2194.5 1442.9 L2196.6 1443.8 L2198.6 1444.9 L2200.7 1446.0 L2202.8 1447.3 L2204.8 1448.7 L2206.9 1450.1 L2209.0 1451.6 L2211.0 1453.0 L2213.1 1454.4 L2215.2 1455.8 L2217.2 1457.1 L2219.3 1458.3 L2221.4 1459.3 L2223.4 1460.2 L2225.5 1460.9 L2227.6 1461.4 L2229.6 1461.8 L2231.7 1462.0 L2233.8 1462.2 L2235.8 1462.3 L2237.9 1462.2 L2240.0 1462.2 L2242.1 1462.0 L2244.1 1461.9 L2246.2 1461.7 L2248.3 1461.5 L2250.3 1461.3 L2252.4 1461.1 L2254.5 1461.0 L2256.5 1460.9 L2258.6 1460.9 L2260.7 1460.9 L2262.7 1460.9 L2264.8 1460.9 L2266.9 1460.9 L2268.9 1460.9 L2271.0 1460.9 L2273.1 1460.9 L2275.1 1460.9 L2277.2 1460.9 L2279.3 1460.9 L2281.3 1460.9 L2283.4 1460.9 L2285.5 1460.9 L2287.5 1460.9 L2289.6 1460.9 L2291.7 1460.9 L2293.7 1460.9 L2295.8 1460.9 L2297.9 1460.9 L2299.9 1460.9 L2302.0 1460.9 L2304.1 1460.9 L2306.1 1460.9 L2308.2 1460.9 L2310.3 1460.9 L2312.3 1460.9 L2314.4 1460.9 L2316.5 1460.9 L2318.5 1460.9 L2320.6 1460.9 L2322.7 1460.9 L2324.7 1460.9 L2326.8 1460.9 L2328.9 1460.9 L2330.9 1460.9 L2333.0 1460.9 L2335.1 1460.9 L2337.1 1460.9 L2339.2 1460.9 L2341.3 1460.9 L2343.3 1460.9 L2345.4 1460.9 L2347.5 1460.9 L2349.5 1460.9 L2351.6 1460.9 L2353.7 1460.9 L2355.8 1460.9 L2357.8 1460.9 L2359.9 1460.9 L2362.0 1460.9 L2364.0 1460.9 L2366.1 1460.9 L2368.2 1460.9 L2370.2 1460.9 L2372.3 1460.9 L2374.4 1460.9 L2376.4 1460.9 L2378.5 1460.9 L2380.6 1460.9 L2382.6 1460.9 L2384.7 1460.9 L2386.8 1460.9 L2388.8 1460.9 L2390.9 1460.9 L2393.0 1460.9 L2395.0 1460.9 L2397.1 1460.9 L2399.2 1460.9 L2401.2 1460.9 L2403.3 1460.9 L2405.4 1460.9 L2407.4 1460.9 L2409.5 1460.9 L2411.6 1460.9 L2413.6 1460.9 L2415.7 1460.9 L2417.8 1460.9 L2419.8 1460.9 L2421.9 1460.9 L2424.0 1460.9 L2426.0 1460.9 L2428.1 1460.9 L2430.2 1460.9 L2432.2 1460.9 L2434.3 1460.9 L2436.4 1460.9 L2438.4 1460.9 L2440.5 1460.9 L2442.6 1460.9 L2444.6 1460.9 L2446.7 1460.9 L2448.8 1460.9 L2450.8 1460.9 L2452.9 1460.9 L2455.0 1460.9 L2457.0 1460.9 L2459.1 1460.9 L2461.2 1460.9 L2463.2 1460.9 L2465.3 1460.9 L2467.4 1460.9 L2469.4 1460.9 L2471.5 1460.9 L2473.6 1460.9 L2475.7 1460.9 L2477.7 1460.9 L2479.8 1460.9 L2481.9 1460.9 L2483.9 1460.9 L2486.0 1460.9 L2488.1 1460.9 L2490.1 1460.9 L2492.2 1460.9 L2494.3 1460.9 L2496.3 1460.9 L2498.4 1460.9 L2500.5 1460.9 L2502.5 1460.9 L2504.6 1460.9 L2506.7 1460.9 L2508.7 1460.9 L2510.8 1460.9 L2512.9 1460.9 L2514.9 1460.9 L2517.0 1460.9 L2519.1 1460.9 L2521.1 1460.9 L2523.2 1460.9 L2525.3 1460.9 L2527.3 1460.9 L2529.4 1460.9 L2531.5 1460.9 L2533.5 1460.9 L2535.6 1460.9 L2537.7 1460.9 L2539.7 1460.9 L2541.8 1460.9 L2543.9 1460.9 L2545.9 1460.9 L2548.0 1460.9 L2550.1 1460.9 L2552.1 1460.9 L2554.2 1460.9 L2556.3 1460.9 L2558.3 1460.9 L2560.4 1460.9 L2562.5 1460.9 L2564.5 1460.9 L2566.6 1460.9 L2568.7 1460.9 L2570.7 1460.9 L2572.8 1460.9 L2574.9 1460.9 L2576.9 1460.9 L2579.0 1460.9 L2581.1 1460.9 L2583.1 1460.9 L2585.2 1460.9 L2587.3 1460.9 L2589.4 1460.9 L2591.4 1460.8 L2593.5 1460.7 L2595.6 1460.6 L2597.6 1460.4 L2599.7 1460.2 L2601.8 1460.1 L2603.8 1459.9 L2605.9 1459.7 L2608.0 1459.6 L2610.0 1459.5 L2612.1 1459.5 L2614.2 1459.6 L2616.2 1459.7 L2618.3 1460.0 L2620.4 1460.4 L2622.4 1460.9 L2624.5 1461.5 L2626.6 1462.3 L2628.6 1463.2 L2630.7 1464.2 L2632.8 1465.3 L2634.8 1466.5 L2636.9 1467.7 L2639.0 1469.0 L2641.0 1470.3 L2643.1 1471.7 L2645.2 1473.1 L2647.2 1474.4 L2649.3 1475.7 L2651.4 1477.0 L2653.4 1478.3 L2655.5 1479.5 L2657.6 1480.7 L2659.6 1481.8 L2661.7 1483.0 L2663.8 1484.2 L2665.8 1485.3 L2667.9 1486.5 L2670.0 1487.6 L2672.0 1488.8 L2674.1 1490.0 L2676.2 1491.1 L2678.2 1492.3 L2680.3 1493.5 L2682.4 1494.6 L2684.4 1495.8 L2686.5 1497.0 L2688.6 1498.1 L2690.6 1499.3 L2692.7 1500.6 L2694.8 1501.9 L2696.8 1503.2 L2698.9 1504.6 L2701.0 1505.9 L2703.1 1507.3 L2705.1 1508.6 L2707.2 1509.9 L2709.3 1511.1 L2711.3 1512.3 L2713.4 1513.4 L2715.5 1514.4 L2717.5 1515.3 L2719.6 1516.1 L2721.7 1516.8 L2723.7 1517.2 L2725.8 1517.5 L2727.9 1517.6 L2729.9 1517.6 L2732.0 1517.5 L2734.1 1517.3 L2736.1 1517.0 L2738.2 1516.8 L2740.3 1516.5 L2742.3 1516.2 L2744.4 1516.0 L2746.5 1515.9 L2748.5 1515.9 L2750.6 1516.0 L2752.7 1516.3 L2754.7 1516.8 L2756.8 1517.4 L2758.9 1518.3 L2760.9 1519.4 L2763.0 1520.5 L2765.1 1521.8 L2767.1 1523.2 L2769.2 1524.6 L2771.3 1526.1 L2773.3 1527.5 L2775.4 1528.9 L2777.5 1530.3 L2779.5 1531.6 L2781.6 1532.8 L2783.7 1533.8 L2785.7 1534.7 L2787.8 1535.4 L2789.9 1535.9 L2791.9 1536.1 L2794.0 1536.3 L2796.1 1536.2 L2798.1 1536.1 L2800.2 1535.9 L2802.3 1535.7 L2804.3 1535.4 L2806.4 1535.1 L2808.5 1534.8 L2810.5 1534.6 L2812.6 1534.5 L2814.7 1534.5 L2816.8 1534.6 L2818.8 1534.9 L2820.9 1535.4 L2823.0 1536.1 L2825.0 1536.9 L2827.1 1538.0 L2829.2 1539.2 L2831.2 1540.4 L2833.3 1541.8 L2835.4 1543.2 L2837.4 1544.7 L2839.5 1546.1 L2841.6 1547.6 L2843.6 1548.9 L2845.7 1550.2 L2847.8 1551.4 L2849.8 1552.4 L2851.9 1553.3 L2854.0 1554.0 L2856.0 1554.4 L2858.1 1554.6 L2860.2 1554.6 L2862.2 1554.4 L2864.3 1554.1 L2866.4 1553.7 L2868.4 1553.3 L2870.5 1552.8 L2872.6 1552.4 L2874.6 1552.1 L2876.7 1551.9 L2878.8 1551.8 L2880.8 1552.0 L2882.9 1552.3 L2885.0 1553.0 L2887.0 1554.0 L2889.1 1555.3 L2891.2 1556.9 L2893.2 1558.7 L2895.3 1560.7 L2897.4 1562.9 L2899.4 1565.2 L2901.5 1567.7 L2903.6 1570.3 L2905.6 1572.9 L2907.7 1575.6 L2909.8 1578.4 L2911.8 1581.1 L2913.9 1583.7 L2916.0 1586.3 L2918.0 1588.9 L2920.1 1591.2 L2922.2 1593.6 L2924.2 1595.9 L2926.3 1598.2 L2928.4 1600.6 L2930.4 1602.9 L2932.5 1605.2 L2934.6 1607.5 L2936.7 1609.9 L2938.7 1612.2 L2940.8 1614.5 L2942.9 1616.9 L2944.9 1619.2 L2947.0 1621.5 L2949.1 1623.8 L2951.1 1626.2 L2953.2 1628.5 L2955.3 1630.9 L2957.3 1633.3 L2959.4 1635.8 L2961.5 1638.2 L2963.5 1640.8 L2965.6 1643.3 L2967.7 1645.8 L2969.7 1648.3 L2971.8 1650.7 L2973.9 1653.1 L2975.9 1655.5 L2978.0 1657.7 L2980.1 1659.9 L2982.1 1662.0 L2984.2 1663.9 L2986.3 1665.8 L2988.3 1667.4 L2990.4 1668.8 L2992.5 1670.1 L2994.5 1671.3 L2996.6 1672.3 L2998.7 1673.3 L3000.7 1674.2 L3002.8 1675.1 L3004.9 1675.9 L3006.9 1676.8 L3009.0 1677.8 L3011.1 1678.8 L3013.1 1680.0 L3015.2 1681.3 L3017.3 1682.7 L3019.3 1684.4 L3021.4 1686.2 L3023.5 1688.1 L3025.5 1690.2 L3027.6 1692.4 L3029.7 1694.6 L3031.7 1697.0 L3033.8 1699.4 L3035.9 1701.8 L3037.9 1704.3 L3040.0 1706.8 L3042.1 1709.4 L3044.1 1711.9 L3046.2 1714.4 L3048.3 1716.8 L3050.4 1719.3 L3052.4 1721.6 L3054.5 1724.0 L3056.6 1726.5 L3058.6 1729.1 L3060.7 1731.8 L3062.8 1734.5 L3064.8 1737.2 L3066.9 1739.9 L3069.0 1742.6 L3071.0 1745.2 L3073.1 1747.6 L3075.2 1750.0 L3077.2 1752.2 L3079.3 1754.2 L3081.4 1756.0 L3083.4 1757.6 L3085.5 1758.9 L3087.6 1759.8 L3089.6 1760.4 L3091.7 1760.6 L3093.8 1760.6 L3095.8 1760.4 L3097.9 1760.0 L3100.0 1759.4 L3102.0 1758.9 L3104.1 1758.3 L3106.2 1757.8 L3108.2 1757.4 L3110.3 1757.1 L3112.4 1757.1 L3114.4 1757.3 L3116.5 1757.9 L3118.6 1758.9 L3120.6 1760.2 L3122.7 1761.7 L3124.8 1763.6 L3126.8 1765.6 L3128.9 1767.8 L3131.0 1770.1 L3133.0 1772.6 L3135.1 1775.2 L3137.2 1777.8 L3139.2 1780.5 L3141.3 1783.2 L3143.4 1785.9 L3145.4 1788.6 L3147.5 1791.2 L3149.6 1793.7 L3151.6 1796.1 L3153.7 1798.5 L3155.8 1801.0 L3157.8 1803.6 L3159.9 1806.3 L3162.0 1809.0 L3164.1 1811.7 L3166.1 1814.4 L3168.2 1817.1 L3170.3 1819.7 L3172.3 1822.1 L3174.4 1824.5 L3176.5 1826.7 L3178.5 1828.7 L3180.6 1830.5 L3182.7 1832.1 L3184.7 1833.4 L3186.9 1834.4 L3189.1 1835.2 L3191.4 1835.7 L3193.8 1836.0 L3196.2 1836.1 L3198.6 1836.1 L3201.0 1836.0 L3203.3 1835.7 L3204.0 1835.6" fill="none" stroke="#00b0f0" stroke-width="10" stroke-linecap="round" stroke-linejoin="round" stroke-dasharray="0 20"/><path d="M3217.8 1833.4 L3199.4 1846.0 L3196.6 1826.2 Z" fill="#00b0f0"/>
<path d="M240.9 213.0 L242.1 213.0 L243.5 213.0 L245.1 213.0 L246.9 213.0 L248.8 213.0 L250.9 213.0 L253.1 213.0 L255.4 213.0 L257.8 213.0 L260.2 213.0 L262.6 213.0 L265.0 213.0 L267.3 213.0 L269.7 213.0 L271.9 213.0 L274.0 213.0 L276.1 213.0 L278.1 213.0 L280.2 213.0 L282.3 213.0 L284.4 213.0 L286.4 213.0 L288.5 213.0 L290.6 213.0 L292.6 213.0 L294.7 213.0 L296.8 213.0 L298.8 213.0 L300.9 213.0 L303.0 213.0 L305.0 213.0 L307.1 213.0 L309.2 213.0 L311.2 213.0 L313.3 213.0 L315.4 213.0 L317.4 213.0 L319.5 213.0 L321.6 213.0 L323.6 213.0 L325.7 213.0 L327.8 213.0 L329.8 213.0 L331.9 213.0 L334.0 213.0 L336.0 213.0 L338.1 213.0 L340.2 213.0 L342.2 213.0 L344.3 213.0 L346.4 213.0 L348.4 213.0 L350.5 213.0 L352.6 213.0 L354.6 213.0 L356.7 213.0 L358.8 213.0 L360.8 213.0 L362.9 213.0 L365.0 213.0 L367.0 213.0 L369.1 213.0 L371.2 213.0 L373.2 213.0 L375.3 213.0 L377.4 212.9 L379.4 212.7 L381.5 212.6 L383.6 212.4 L385.6 212.2 L387.7 212.0 L389.8 211.8 L391.8 211.7 L393.9 211.6 L396.0 211.6 L398.1 211.7 L400.1 211.8 L402.2 212.1 L404.3 212.5 L406.3 213.0 L408.4 213.7 L410.5 214.6 L412.5 215.6 L414.6 216.8 L416.7 218.1 L418.7 219.4 L420.8 220.9 L422.9 222.3 L424.9 223.8 L427.0 225.2 L429.1 226.6 L431.1 227.8 L433.2 229.0 L435.3 230.1 L437.3 230.9 L439.4 231.6 L441.5 232.1 L443.5 232.3 L445.6 232.2 L447.7 232.1 L449.7 231.8 L451.8 231.4 L453.9 230.9 L455.9 230.5 L458.0 230.0 L460.1 229.7 L462.1 229.5 L464.2 229.4 L466.3 229.6 L468.3 230.0 L470.4 230.6 L472.5 231.6 L474.5 232.9 L476.6 234.5 L478.7 236.3 L480.7 238.3 L482.8 240.5 L484.9 242.9 L486.9 245.3 L489.0 247.9 L491.1 250.6 L493.1 253.3 L495.2 256.0 L497.3 258.7 L499.3 261.4 L501.4 264.0 L503.5 266.5 L505.5 268.9 L507.6 271.2 L509.7 273.7 L511.7 276.1 L513.8 278.6 L515.9 281.1 L518.0 283.7 L520.0 286.2 L522.1 288.7 L524.2 291.1 L526.2 293.5 L528.3 295.9 L530.4 298.1 L532.4 300.3 L534.5 302.4 L536.6 304.3 L538.6 306.1 L540.7 307.8 L542.8 309.3 L544.8 310.8 L546.9 312.1 L549.0 313.3 L551.0 314.5 L553.1 315.6 L555.2 316.6 L557.2 317.6 L559.3 318.6 L561.4 319.6 L563.4 320.5 L565.5 321.5 L567.6 322.5 L569.6 323.6 L571.7 324.8 L573.8 325.9 L575.8 327.0 L577.9 328.0 L580.0 329.0 L582.0 329.9 L584.1 330.9 L586.2 331.9 L588.2 332.9 L590.3 333.9 L592.4 335.0 L594.4 336.2 L596.5 337.4 L598.6 338.7 L600.6 340.2 L602.7 341.7 L604.8 343.4 L606.8 345.2 L608.9 347.3 L611.0 349.5 L613.0 351.8 L615.1 354.3 L617.2 356.8 L619.2 359.4 L621.3 362.0 L623.4 364.6 L625.4 367.2 L627.5 369.7 L629.6 372.2 L631.7 374.5 L633.7 376.7 L635.8 378.8 L637.9 380.6 L639.9 382.3 L642.0 383.7 L644.1 385.0 L646.1 386.2 L648.2 387.2 L650.3 388.2 L652.3 389.1 L654.4 389.9 L656.5 390.8 L658.5 391.7 L660.6 392.7 L662.7 393.7 L664.7 394.9 L666.8 396.2 L668.9 397.6 L670.9 399.2 L673.0 401.0 L675.1 402.9 L677.1 404.8 L679.2 406.8 L681.3 408.9 L683.3 411.0 L685.4 413.3 L687.5 415.5 L689.5 417.9 L691.6 420.3 L693.7 422.9 L695.7 425.4 L697.8 428.1 L699.9 430.8 L701.9 433.6 L704.0 436.5 L706.1 439.5 L708.1 442.8 L710.2 446.4 L712.3 450.0 L714.3 453.8 L716.4 457.7 L718.5 461.7 L720.5 465.6 L722.6 469.5 L724.7 473.3 L726.7 477.0 L728.8 480.6 L730.9 483.9 L732.9 487.0 L735.0 489.9 L737.1 492.4 L739.1 494.6 L741.2 496.6 L743.3 498.4 L745.4 500.1 L747.4 501.6 L749.5 502.9 L751.6 504.1 L753.6 505.2 L755.7 506.1 L757.8 507.0 L759.8 507.8 L761.9 508.5 L764.0 509.2 L766.0 509.8 L768.1 510.4 L770.2 511.0 L772.2 511.5 L774.3 511.9 L776.4 512.2 L778.4 512.3 L780.5 512.4 L782.6 512.4 L784.6 512.3 L786.7 512.2 L788.8 512.0 L790.8 511.8 L792.9 511.6 L795.0 511.4 L797.0 511.3 L799.1 511.1 L801.2 511.0 L803.2 511.0 L805.3 510.9 L807.4 510.7 L809.4 510.5 L811.5 510.1 L813.6 509.7 L815.6 509.4 L817.7 509.0 L819.8 508.7 L821.8 508.4 L823.9 508.3 L826.0 508.2 L828.0 508.4 L830.1 508.7 L832.2 509.2 L834.2 510.0 L836.3 511.0 L838.4 512.3 L840.4 514.0 L842.5 515.9 L844.6 518.1 L846.6 520.5 L848.7 523.1 L850.8 525.7 L852.8 528.5 L854.9 531.2 L857.0 534.0 L859.1 536.7 L861.1 539.4 L863.2 541.9 L865.3 544.2 L867.3 546.4 L869.4 548.2 L871.5 549.9 L873.5 551.3 L875.6 552.6 L877.7 553.8 L879.7 554.8 L881.8 555.8 L883.9 556.7 L885.9 557.6 L888.0 558.4 L890.1 559.3 L892.1 560.3 L894.2 561.3 L896.3 562.5 L898.3 563.8 L900.4 565.2 L902.5 566.9 L904.5 568.8 L906.6 570.9 L908.7 573.2 L910.7 575.8 L912.8 578.4 L914.9 581.1 L916.9 583.9 L919.0 586.7 L921.1 589.4 L923.1 592.1 L925.2 594.6 L927.3 597.0 L929.3 599.2 L931.4 601.1 L933.5 602.8 L935.5 604.1 L937.6 605.1 L939.7 605.9 L941.7 606.4 L943.8 606.7 L945.9 606.9 L947.9 606.9 L950.0 606.7 L952.1 606.5 L954.1 606.1 L956.2 605.8 L958.3 605.4 L960.3 605.0 L962.4 604.7 L964.5 604.4 L966.5 604.2 L968.6 604.1 L970.7 604.1 L972.7 604.1 L974.8 604.1 L976.9 604.1 L979.0 604.1 L981.0 604.1 L983.1 604.1 L985.2 604.1 L987.2 604.1 L989.3 604.1 L991.4 604.1 L993.4 604.1 L995.5 604.1 L997.6 604.1 L999.6 604.1 L1001.7 604.1 L1003.8 604.1 L1005.8 604.1 L1007.9 604.1 L1010.0 604.1 L1012.0 604.1 L1014.1 604.1 L1016.2 604.1 L1018.2 604.1 L1020.3 604.1 L1022.4 604.1 L1024.4 604.1 L1026.5 604.1 L1028.6 604.1 L1030.6 604.1 L1032.7 604.1 L1034.8 604.1 L1036.8 604.1 L1038.9 604.1 L1041.0 604.1 L1043.0 604.1 L1045.1 604.1 L1047.2 604.1 L1049.2 604.1 L1051.3 604.1 L1053.4 604.1 L1055.4 604.1 L1057.5 604.1 L1059.6 604.1 L1061.6 604.1 L1063.7 604.1 L1065.8 604.1 L1067.8 604.1 L1069.9 604.1 L1072.0 604.1 L1074.0 604.1 L1076.1 604.1 L1078.2 604.1 L1080.2 604.1 L1082.3 604.1 L1084.4 604.1 L1086.4 604.1 L1088.5 604.1 L1090.6 604.1 L1092.7 604.1 L1094.7 604.1 L1096.8 604.1 L1098.9 604.1 L1100.9 604.1 L1103.0 604.1 L1105.1 604.1 L1107.1 604.1 L1109.2 604.1 L1111.3 604.1 L1113.3 604.1 L1115.4 604.1 L1117.5 604.1 L1119.5 604.1 L1121.6 604.1 L1123.7 604.1 L1125.7 604.1 L1127.8 604.1 L1129.9 604.1 L1131.9 604.1 L1134.0 604.1 L1136.1 604.1 L1138.1 604.1 L1140.2 604.1 L1142.3 604.1 L1144.3 604.1 L1146.4 604.1 L1148.5 604.1 L1150.5 604.1 L1152.6 604.1 L1154.7 604.1 L1156.7 604.1 L1158.8 604.1 L1160.9 604.1 L1162.9 604.1 L1165.0 604.1 L1167.1 604.1 L1169.1 604.1 L1171.2 604.1 L1173.3 604.1 L1175.3 604.1 L1177.4 604.1 L1179.5 604.1 L1181.5 604.1 L1183.6 604.1 L1185.7 604.1 L1187.7 604.1 L1189.8 604.1 L1191.9 604.1 L1193.9 604.1 L1196.0 604.1 L1198.1 604.1 L1200.1 604.1 L1202.2 604.1 L1204.3 604.0 L1206.4 603.9 L1208.4 603.7 L1210.5 603.5 L1212.6 603.3 L1214.6 603.1 L1216.7 603.0 L1218.8 602.8 L1220.8 602.8 L1222.9 602.7 L1225.0 602.8 L1227.0 603.0 L1229.1 603.2 L1231.2 603.6 L1233.2 604.1 L1235.3 604.8 L1237.4 605.7 L1239.4 606.7 L1241.5 607.9 L1243.6 609.2 L1245.6 610.6 L1247.7 612.0 L1249.8 613.4 L1251.8 614.9 L1253.9 616.3 L1256.0 617.7 L1258.0 619.0 L1260.1 620.1 L1262.2 621.2 L1264.2 622.1 L1266.3 622.8 L1268.4 623.3 L1270.4 623.6 L1272.5 623.9 L1274.6 624.1 L1276.6 624.1 L1278.7 624.1 L1280.8 624.0 L1282.8 623.9 L1284.9 623.8 L1287.0 623.6 L1289.0 623.4 L1291.1 623.2 L1293.2 623.0 L1295.2 622.9 L1297.3 622.8 L1299.4 622.8 L1301.4 622.8 L1303.5 622.8 L1305.6 622.8 L1307.6 622.8 L1309.7 622.8 L1311.8 622.8 L1313.8 622.8 L1315.9 622.8 L1318.0 622.8 L1320.1 622.8 L1322.1 622.8 L1324.2 622.8 L1326.3 622.8 L1328.3 622.8 L1330.4 622.8 L1332.5 622.8 L1334.5 622.8 L1336.6 622.8 L1338.7 622.8 L1340.7 622.8 L1342.8 622.8 L1344.9 622.8 L1346.9 622.8 L1349.0 622.8 L1351.1 622.8 L1353.1 622.8 L1355.2 622.8 L1357.3 622.8 L1359.3 622.8 L1361.4 622.8 L1363.5 622.8 L1365.5 622.8 L1367.6 622.8 L1369.7 622.8 L1371.7 622.8 L1373.8 622.8 L1375.9 622.8 L1377.9 622.8 L1380.0 622.8 L1382.1 622.8 L1384.1 622.8 L1386.2 622.8 L1388.3 622.8 L1390.3 622.8 L1392.4 622.8 L1394.5 622.8 L1396.5 622.8 L1398.6 622.8 L1400.7 622.7 L1402.7 622.6 L1404.8 622.5 L1406.9 622.3 L1408.9 622.1 L1411.0 621.9 L1413.1 621.7 L1415.1 621.6 L1417.2 621.5 L1419.3 621.4 L1421.3 621.4 L1423.4 621.4 L1425.5 621.6 L1427.5 621.9 L1429.6 622.2 L1431.7 622.8 L1433.7 623.4 L1435.8 624.3 L1437.9 625.4 L1440.0 626.5 L1442.0 627.8 L1444.1 629.2 L1446.2 630.6 L1448.2 632.1 L1450.3 633.5 L1452.4 634.9 L1454.4 636.3 L1456.5 637.6 L1458.6 638.8 L1460.6 639.8 L1462.7 640.7 L1464.8 641.4 L1466.8 641.9 L1468.9 642.3 L1471.0 642.5 L1473.0 642.7 L1475.1 642.8 L1477.2 642.7 L1479.2 642.7 L1481.3 642.5 L1483.4 642.4 L1485.4 642.2 L1487.5 642.0 L1489.6 641.8 L1491.6 641.6 L1493.7 641.5 L1495.8 641.4 L1497.8 641.4 L1499.9 641.3 L1502.0 641.2 L1504.0 641.1 L1506.1 640.9 L1508.2 640.7 L1510.2 640.6 L1512.3 640.4 L1514.4 640.2 L1516.4 640.1 L1518.5 640.0 L1520.6 640.0 L1522.6 640.1 L1524.7 640.2 L1526.8 640.5 L1528.8 640.9 L1530.9 641.4 L1533.0 642.1 L1535.0 642.9 L1537.1 644.0 L1539.2 645.2 L1541.2 646.4 L1543.3 647.8 L1545.4 649.2 L1547.4 650.7 L1549.5 652.1 L1551.6 653.6 L1553.7 654.9 L1555.7 656.2 L1557.8 657.4 L1559.9 658.4 L1561.9 659.3 L1564.0 660.0 L1566.1 660.5 L1568.1 660.9 L1570.2 661.2 L1572.3 661.3 L1574.3 661.4 L1576.4 661.4 L1578.5 661.3 L1580.5 661.2 L1582.6 661.0 L1584.7 660.8 L1586.7 660.6 L1588.8 660.4 L1590.9 660.3 L1592.9 660.1 L1595.0 660.0 L1597.1 660.0 L1599.1 660.0 L1601.2 660.0 L1603.3 660.0 L1605.3 660.0 L1607.4 660.0 L1609.5 660.0 L1611.5 660.0 L1613.6 660.0 L1615.7 660.0 L1617.7 660.0 L1619.8 660.0 L1621.9 660.0 L1623.9 660.0 L1626.0 660.0 L1628.1 660.0 L1630.1 660.0 L1632.2 660.0 L1634.3 660.0 L1636.3 660.0 L1638.4 660.0 L1640.5 660.0 L1642.5 660.0 L1644.6 660.0 L1646.7 660.0 L1648.7 660.0 L1650.8 660.0 L1652.9 660.0 L1654.9 660.0 L1657.0 660.0 L1659.1 660.0 L1661.1 660.0 L1663.2 660.0 L1665.3 660.0 L1667.4 659.9 L1669.4 659.7 L1671.5 659.6 L1673.6 659.4 L1675.6 659.2 L1677.7 659.0 L1679.8 658.8 L1681.8 658.7 L1683.9 658.6 L1686.0 658.6 L1688.0 658.7 L1690.1 658.8 L1692.2 659.1 L1694.2 659.5 L1696.3 660.0 L1698.4 660.7 L1700.4 661.6 L1702.5 662.6 L1704.6 663.8 L1706.6 665.1 L1708.7 666.4 L1710.8 667.9 L1712.8 669.3 L1714.9 670.8 L1717.0 672.2 L1719.0 673.6 L1721.1 674.8 L1723.2 676.0 L1725.2 677.1 L1727.3 677.9 L1729.4 678.6 L1731.4 679.1 L1733.5 679.4 L1735.6 679.5 L1737.6 679.5 L1739.7 679.4 L1741.8 679.2 L1743.8 678.9 L1745.9 678.6 L1748.0 678.3 L1750.0 678.1 L1752.1 677.9 L1754.2 677.8 L1756.2 677.7 L1758.3 677.9 L1760.4 678.1 L1762.4 678.6 L1764.5 679.3 L1766.6 680.2 L1768.6 681.2 L1770.7 682.4 L1772.8 683.7 L1774.8 685.1 L1776.9 686.5 L1779.0 687.9 L1781.1 689.4 L1783.1 690.8 L1785.2 692.2 L1787.3 693.5 L1789.3 694.6 L1791.4 695.7 L1793.5 696.6 L1795.5 697.2 L1797.6 697.8 L1799.7 698.1 L1801.7 698.4 L1803.8 698.6 L1805.9 698.6 L1807.9 698.6 L1810.0 698.5 L1812.1 698.4 L1814.1 698.3 L1816.2 698.1 L1818.3 697.9 L1820.3 697.7 L1822.4 697.5 L1824.5 697.4 L1826.5 697.3 L1828.6 697.2 L1830.7 697.1 L1832.7 696.9 L1834.8 696.5 L1836.9 695.9 L1838.9 695.4 L1841.0 694.8 L1843.1 694.2 L1845.1 693.8 L1847.2 693.4 L1849.3 693.2 L1851.3 693.1 L1853.4 693.3 L1855.5 693.8 L1857.5 694.6 L1859.6 695.7 L1861.7 697.2 L1863.7 699.3 L1865.8 701.9 L1867.9 705.1 L1869.9 708.6 L1872.0 712.5 L1874.1 716.6 L1876.1 720.8 L1878.2 725.2 L1880.3 729.5 L1882.3 733.8 L1884.4 737.9 L1886.5 741.8 L1888.5 745.3 L1890.6 748.4 L1892.7 751.1 L1894.8 753.1 L1896.8 754.6 L1898.9 755.5 L1901.0 756.1 L1903.0 756.2 L1905.1 756.0 L1907.2 755.6 L1909.2 755.0 L1911.3 754.3 L1913.4 753.6 L1915.4 752.9 L1917.5 752.2 L1919.6 751.8 L1921.6 751.6 L1923.7 751.7 L1925.8 752.2 L1927.8 753.1 L1929.9 754.5 L1932.0 756.3 L1934.0 758.3 L1936.1 760.7 L1938.2 763.3 L1940.2 766.0 L1942.3 768.8 L1944.4 771.8 L1946.4 774.7 L1948.5 777.5 L1950.6 780.2 L1952.6 782.8 L1954.7 785.2 L1956.8 787.2 L1958.8 789.0 L1960.9 790.4 L1963.0 791.4 L1965.0 792.2 L1967.1 792.7 L1969.2 793.0 L1971.2 793.1 L1973.3 793.1 L1975.4 793.0 L1977.4 792.7 L1979.5 792.4 L1981.6 792.0 L1983.6 791.6 L1985.7 791.2 L1987.8 790.9 L1989.8 790.6 L1991.9 790.4 L1994.0 790.4 L1996.0 790.4 L1998.1 790.4 L2000.2 790.4 L2002.2 790.4 L2004.3 790.4 L2006.4 790.4 L2008.4 790.4 L2010.5 790.4 L2012.6 790.4 L2014.7 790.4 L2016.7 790.4 L2018.8 790.4 L2020.9 790.4 L2022.9 790.4 L2025.0 790.4 L2027.1 790.4 L2029.1 790.4 L2031.2 790.4 L2033.3 790.4 L2035.3 790.4 L2037.4 790.4 L2039.5 790.4 L2041.5 790.4 L2043.6 790.4 L2045.7 790.4 L2047.7 790.4 L2049.8 790.4 L2051.9 790.4 L2053.9 790.4 L2056.0 790.4 L2058.1 790.4 L2060.1 790.4 L2062.2 790.4 L2064.3 790.4 L2066.3 790.4 L2068.4 790.4 L2070.5 790.4 L2072.5 790.4 L2074.6 790.4 L2076.7 790.4 L2078.7 790.4 L2080.8 790.4 L2082.9 790.4 L2084.9 790.4 L2087.0 790.4 L2089.1 790.4 L2091.1 790.4 L2093.2 790.4 L2095.3 790.4 L2097.3 790.4 L2099.4 790.4 L2101.5 790.4 L2103.5 790.4 L2105.6 790.4 L2107.7 790.4 L2109.7 790.4 L2111.8 790.4 L2113.9 790.4 L2115.9 790.4 L2118.0 790.4 L2120.1 790.4 L2122.1 790.4 L2124.2 790.4 L2126.3 790.4 L2128.4 790.4 L2130.4 790.4 L2132.5 790.4 L2134.6 790.4 L2136.6 790.4 L2138.7 790.4 L2140.8 790.4 L2142.8 790.4 L2144.9 790.4 L2147.0 790.4 L2149.0 790.4 L2151.1 790.4 L2153.2 790.4 L2155.2 790.4 L2157.3 790.4 L2159.4 790.4 L2161.4 790.4 L2163.5 790.4 L2165.6 790.4 L2167.6 790.4 L2169.7 790.4 L2171.8 790.4 L2173.8 790.4 L2175.9 790.4 L2178.0 790.4 L2180.0 790.4 L2182.1 790.4 L2184.2 790.4 L2186.2 790.4 L2188.3 790.4 L2190.4 790.4 L2192.4 790.4 L2194.5 790.3 L2196.6 790.2 L2198.6 790.1 L2200.7 789.9 L2202.8 789.7 L2204.8 789.6 L2206.9 789.4 L2209.0 789.2 L2211.0 789.1 L2213.1 789.0 L2215.2 789.0 L2217.2 789.1 L2219.3 789.2 L2221.4 789.5 L2223.4 789.9 L2225.5 790.4 L2227.6 791.0 L2229.6 791.8 L2231.7 792.7 L2233.8 793.7 L2235.8 794.8 L2237.9 796.0 L2240.0 797.2 L2242.1 798.5 L2244.1 799.8 L2246.2 801.2 L2248.3 802.6 L2250.3 803.9 L2252.4 805.2 L2254.5 806.5 L2256.5 807.8 L2258.6 809.0 L2260.7 810.2 L2262.7 811.3 L2264.8 812.5 L2266.9 813.7 L2268.9 814.8 L2271.0 816.0 L2273.1 817.1 L2275.1 818.3 L2277.2 819.5 L2279.3 820.6 L2281.3 821.8 L2283.4 823.0 L2285.5 824.1 L2287.5 825.3 L2289.6 826.5 L2291.7 827.6 L2293.7 828.8 L2295.8 830.1 L2297.9 831.4 L2299.9 832.7 L2302.0 834.1 L2304.1 835.4 L2306.1 836.8 L2308.2 838.1 L2310.3 839.4 L2312.3 840.6 L2314.4 841.8 L2316.5 842.9 L2318.5 843.9 L2320.6 844.8 L2322.7 845.6 L2324.7 846.2 L2326.8 846.8 L2328.9 847.1 L2330.9 847.4 L2333.0 847.6 L2335.1 847.6 L2337.1 847.6 L2339.2 847.5 L2341.3 847.4 L2343.3 847.3 L2345.4 847.1 L2347.5 846.9 L2349.5 846.7 L2351.6 846.5 L2353.7 846.4 L2355.8 846.3 L2357.8 846.2 L2359.9 846.2 L2362.0 846.0 L2364.0 845.7 L2366.1 845.4 L2368.2 845.0 L2370.2 844.6 L2372.3 844.2 L2374.4 843.9 L2376.4 843.7 L2378.5 843.5 L2380.6 843.5 L2382.6 843.6 L2384.7 843.9 L2386.8 844.5 L2388.8 845.2 L2390.9 846.2 L2393.0 847.6 L2395.0 849.4 L2397.1 851.5 L2399.2 853.8 L2401.2 856.4 L2403.3 859.1 L2405.4 862.0 L2407.4 864.9 L2409.5 867.8 L2411.6 870.6 L2413.6 873.4 L2415.7 875.9 L2417.8 878.3 L2419.8 880.4 L2421.9 882.1 L2424.0 883.5 L2426.0 884.4 L2428.1 884.9 L2430.2 885.0 L2432.2 884.8 L2434.3 884.4 L2436.4 883.8 L2438.4 883.1 L2440.5 882.3 L2442.6 881.6 L2444.6 881.0 L2446.7 880.6 L2448.8 880.4 L2450.8 880.6 L2452.9 881.1 L2455.0 882.0 L2457.0 883.5 L2459.1 885.6 L2461.2 888.2 L2463.2 891.3 L2465.3 894.8 L2467.4 898.7 L2469.4 902.8 L2471.5 907.1 L2473.6 911.4 L2475.7 915.8 L2477.7 920.1 L2479.8 924.2 L2481.9 928.0 L2483.9 931.6 L2486.0 934.7 L2488.1 937.3 L2490.1 939.4 L2492.2 940.8 L2494.3 941.8 L2496.3 942.3 L2498.4 942.4 L2500.5 942.3 L2502.5 941.8 L2504.6 941.2 L2506.7 940.5 L2508.7 939.8 L2510.8 939.1 L2512.9 938.5 L2514.9 938.1 L2517.0 937.9 L2519.1 938.0 L2521.1 938.5 L2523.2 939.4 L2525.3 940.7 L2527.3 942.4 L2529.4 944.3 L2531.5 946.5 L2533.5 948.9 L2535.6 951.4 L2537.7 954.1 L2539.7 956.8 L2541.8 959.6 L2543.9 962.4 L2545.9 965.1 L2548.0 967.7 L2550.1 970.3 L2552.1 972.6 L2554.2 974.7 L2556.3 976.6 L2558.3 978.3 L2560.4 980.0 L2562.5 981.5 L2564.5 983.0 L2566.6 984.4 L2568.7 985.8 L2570.7 987.1 L2572.8 988.3 L2574.9 989.4 L2576.9 990.4 L2579.0 991.4 L2581.1 992.3 L2583.1 993.2 L2585.2 993.9 L2587.3 994.6 L2589.4 995.2 L2591.4 995.7 L2593.5 996.0 L2595.6 996.1 L2597.6 996.1 L2599.7 996.0 L2601.8 995.8 L2603.8 995.5 L2605.9 995.2 L2608.0 995.0 L2610.0 994.7 L2612.1 994.5 L2614.2 994.4 L2616.2 994.4 L2618.3 994.5 L2620.4 994.8 L2622.4 995.2 L2624.5 995.9 L2626.6 996.7 L2628.6 997.6 L2630.7 998.6 L2632.8 999.7 L2634.8 1000.9 L2636.9 1002.1 L2639.0 1003.4 L2641.0 1004.7 L2643.1 1006.1 L2645.2 1007.4 L2647.2 1008.8 L2649.3 1010.1 L2651.4 1011.4 L2653.4 1012.7 L2655.5 1013.9 L2657.6 1015.1 L2659.6 1016.3 L2661.7 1017.6 L2663.8 1019.0 L2665.8 1020.3 L2667.9 1021.7 L2670.0 1023.0 L2672.0 1024.4 L2674.1 1025.6 L2676.2 1026.9 L2678.2 1028.1 L2680.3 1029.2 L2682.4 1030.2 L2684.4 1031.1 L2686.5 1031.8 L2688.6 1032.5 L2690.6 1033.0 L2692.7 1033.3 L2694.8 1033.4 L2696.8 1033.4 L2698.9 1033.3 L2701.0 1033.0 L2703.1 1032.8 L2705.1 1032.5 L2707.2 1032.2 L2709.3 1032.0 L2711.3 1031.7 L2713.4 1031.6 L2715.5 1031.6 L2717.5 1031.7 L2719.6 1032.0 L2721.7 1032.5 L2723.7 1033.2 L2725.8 1033.9 L2727.9 1034.8 L2729.9 1035.8 L2732.0 1036.9 L2734.1 1038.1 L2736.1 1039.4 L2738.2 1040.6 L2740.3 1042.0 L2742.3 1043.3 L2744.4 1044.7 L2746.5 1046.0 L2748.5 1047.4 L2750.6 1048.7 L2752.7 1049.9 L2754.7 1051.1 L2756.8 1052.3 L2758.9 1053.6 L2760.9 1054.9 L2763.0 1056.2 L2765.1 1057.6 L2767.1 1058.9 L2769.2 1060.3 L2771.3 1061.6 L2773.3 1062.9 L2775.4 1064.1 L2777.5 1065.3 L2779.5 1066.4 L2781.6 1067.4 L2783.7 1068.3 L2785.7 1069.1 L2787.8 1069.8 L2789.9 1070.2 L2791.9 1070.4 L2794.0 1070.4 L2796.1 1070.2 L2798.1 1069.9 L2800.2 1069.5 L2802.3 1069.0 L2804.3 1068.6 L2806.4 1068.2 L2808.5 1067.8 L2810.5 1067.6 L2812.6 1067.6 L2814.7 1067.7 L2816.8 1068.1 L2818.8 1068.8 L2820.9 1069.8 L2823.0 1071.1 L2825.0 1072.8 L2827.1 1074.7 L2829.2 1076.9 L2831.2 1079.3 L2833.3 1081.8 L2835.4 1084.5 L2837.4 1087.2 L2839.5 1090.0 L2841.6 1092.8 L2843.6 1095.5 L2845.7 1098.1 L2847.8 1100.6 L2849.8 1103.0 L2851.9 1105.1 L2854.0 1107.0 L2856.0 1108.5 L2858.1 1109.6 L2860.2 1110.3 L2862.2 1110.8 L2864.3 1111.1 L2866.4 1111.3 L2868.4 1111.4 L2870.5 1111.7 L2872.6 1112.0 L2874.6 1112.6 L2876.7 1113.6 L2878.8 1114.9 L2880.8 1116.6 L2882.9 1119.0 L2885.0 1121.9 L2887.0 1125.6 L2889.1 1130.2 L2891.2 1135.5 L2893.2 1141.6 L2895.3 1148.3 L2897.4 1155.5 L2899.4 1163.2 L2901.5 1171.1 L2903.6 1179.2 L2905.6 1187.3 L2907.7 1195.5 L2909.8 1203.5 L2911.8 1211.2 L2913.9 1218.5 L2916.0 1225.4 L2918.0 1231.8 L2920.1 1237.4 L2922.2 1242.4 L2924.2 1247.0 L2926.3 1251.3 L2928.4 1255.3 L2930.4 1259.0 L2932.5 1262.4 L2934.6 1265.7 L2936.7 1268.8 L2938.7 1271.8 L2940.8 1274.8 L2942.9 1277.7 L2944.9 1280.6 L2947.0 1283.6 L2949.1 1286.6 L2951.1 1289.9 L2953.2 1293.2 L2955.3 1296.7 L2957.3 1300.1 L2959.4 1303.5 L2961.5 1306.8 L2963.5 1310.1 L2965.6 1313.4 L2967.7 1316.7 L2969.7 1320.0 L2971.8 1323.4 L2973.9 1326.8 L2975.9 1330.3 L2978.0 1333.8 L2980.1 1337.5 L2982.1 1341.2 L2984.2 1345.1 L2986.3 1349.1 L2988.3 1353.3 L2990.4 1357.7 L2992.5 1362.2 L2994.5 1366.9 L2996.6 1371.7 L2998.7 1376.5 L3000.7 1381.4 L3002.8 1386.4 L3004.9 1391.3 L3006.9 1396.2 L3009.0 1401.1 L3011.1 1405.9 L3013.1 1410.5 L3015.2 1415.1 L3017.3 1419.4 L3019.3 1423.6 L3021.4 1427.7 L3023.5 1431.9 L3025.5 1436.1 L3027.6 1440.2 L3029.7 1444.3 L3031.7 1448.4 L3033.8 1452.4 L3035.9 1456.2 L3037.9 1459.9 L3040.0 1463.5 L3042.1 1466.8 L3044.1 1469.9 L3046.2 1472.7 L3048.3 1475.3 L3050.4 1477.6 L3052.4 1479.5 L3054.5 1480.9 L3056.6 1481.8 L3058.6 1482.2 L3060.7 1482.1 L3062.8 1481.8 L3064.8 1481.1 L3066.9 1480.4 L3069.0 1479.5 L3071.0 1478.6 L3073.1 1477.9 L3075.2 1477.2 L3077.2 1476.9 L3079.3 1476.8 L3081.4 1477.2 L3083.4 1478.1 L3085.5 1479.5 L3087.6 1481.5 L3089.6 1483.8 L3091.7 1486.5 L3093.8 1489.5 L3095.8 1492.8 L3097.9 1496.4 L3100.0 1500.1 L3102.0 1503.9 L3104.1 1507.9 L3106.2 1512.0 L3108.2 1516.0 L3110.3 1520.1 L3112.4 1524.1 L3114.4 1528.0 L3116.5 1531.8 L3118.6 1535.4 L3120.6 1538.9 L3122.7 1542.4 L3124.8 1545.9 L3126.8 1549.3 L3128.9 1552.8 L3131.0 1556.3 L3133.0 1559.8 L3135.1 1563.3 L3137.2 1566.8 L3139.2 1570.3 L3141.3 1573.8 L3143.4 1577.3 L3145.4 1580.8 L3147.5 1584.3 L3149.6 1587.8 L3151.6 1591.2 L3153.7 1594.8 L3155.8 1598.5 L3157.8 1602.3 L3159.9 1606.1 L3162.0 1610.0 L3164.1 1613.8 L3166.1 1617.7 L3168.2 1621.5 L3170.3 1625.3 L3172.3 1628.9 L3174.4 1632.4 L3176.5 1635.8 L3178.5 1639.0 L3180.6 1641.9 L3182.7 1644.7 L3184.7 1647.1 L3186.8 1649.3 L3188.9 1651.1 L3190.9 1652.7 L3193.0 1654.0 L3195.1 1655.1 L3197.1 1656.0 L3199.2 1656.8 L3201.3 1657.6 L3203.3 1658.3 L3205.4 1659.0 L3207.5 1659.8 L3209.5 1660.7 L3211.6 1661.6 L3213.7 1662.8 L3215.7 1664.1 L3217.8 1665.8 L3219.9 1667.5 L3221.9 1669.3 L3224.0 1671.0 L3226.1 1672.9 L3228.1 1674.8 L3230.2 1676.7 L3232.3 1678.8 L3234.3 1680.9 L3236.4 1683.1 L3238.5 1685.5 L3240.5 1688.0 L3242.6 1690.6 L3244.7 1693.4 L3246.7 1696.4 L3248.8 1699.6 L3250.9 1703.0 L3252.9 1706.7 L3255.0 1710.8 L3257.1 1715.2 L3259.1 1719.9 L3261.2 1724.8 L3263.3 1729.8 L3265.3 1735.0 L3267.4 1740.2 L3269.5 1745.5 L3271.5 1750.7 L3273.6 1755.7 L3275.7 1760.6 L3277.8 1765.3 L3279.8 1769.7 L3281.9 1773.8 L3284.0 1777.5 L3286.1 1780.9 L3288.3 1784.2 L3290.6 1787.3 L3293.0 1790.3 L3295.4 1793.1 L3297.8 1795.8 L3300.2 1798.4 L3302.6 1800.8 L3304.8 1803.0 L3306.9 1805.0" fill="none" stroke="#92d050" stroke-width="10" stroke-linecap="round" stroke-linejoin="round" stroke-dasharray="0 20"/><path d="M3317.0 1814.8 L3295.7 1808.1 L3309.6 1793.7 Z" fill="#92d050"/>
</g>
<rect x="223.4" y="1105.1" width="3341.7" height="19.9" fill="#ffc000" fill-opacity="0.155"/>
<rect x="3219.0" y="213.0" width="97.9" height="1638.9" rx="17.5" ry="17.5" fill="#92d050" fill-opacity="0.06" stroke="#48d45a" stroke-width="4"/>
<text transform="translate(181.37 1860.20) scale(0.9260 1)" font-family="Liberation Sans, sans-serif" font-weight="normal" font-style="normal" font-size="29.50" fill="#a6a6a6" stroke="#a6a6a6" stroke-width="0.45">0</text>
<text transform="translate(181.68 1827.42) scale(0.9260 1)" font-family="Liberation Sans, sans-serif" font-weight="normal" font-style="normal" font-size="29.50" fill="#a6a6a6" stroke="#a6a6a6" stroke-width="0.45">2</text>
<text transform="translate(181.11 1794.64) scale(0.9260 1)" font-family="Liberation Sans, sans-serif" font-weight="normal" font-style="normal" font-size="29.50" fill="#a6a6a6" stroke="#a6a6a6" stroke-width="0.45">4</text>
<text transform="translate(181.51 1761.86) scale(0.9260 1)" font-family="Liberation Sans, sans-serif" font-weight="normal" font-style="normal" font-size="29.50" fill="#a6a6a6" stroke="#a6a6a6" stroke-width="0.45">6</text>
<text transform="translate(181.49 1729.08) scale(0.9260 1)" font-family="Liberation Sans, sans-serif" font-weight="normal" font-style="normal" font-size="29.50" fill="#a6a6a6" stroke="#a6a6a6" stroke-width="0.45">8</text>
<text transform="translate(166.18 1696.30) scale(0.9260 1)" font-family="Liberation Sans, sans-serif" font-weight="normal" font-style="normal" font-size="29.50" fill="#a6a6a6" stroke="#a6a6a6" stroke-width="0.45">10</text>
<text transform="translate(166.49 1663.52) scale(0.9260 1)" font-family="Liberation Sans, sans-serif" font-weight="normal" font-style="normal" font-size="29.50" fill="#a6a6a6" stroke="#a6a6a6" stroke-width="0.45">12</text>
<text transform="translate(165.92 1630.74) scale(0.9260 1)" font-family="Liberation Sans, sans-serif" font-weight="normal" font-style="normal" font-size="29.50" fill="#a6a6a6" stroke="#a6a6a6" stroke-width="0.45">14</text>
<text transform="translate(166.32 1597.96) scale(0.9260 1)" font-family="Liberation Sans, sans-serif" font-weight="normal" font-style="normal" font-size="29.50" fill="#a6a6a6" stroke="#a6a6a6" stroke-width="0.45">16</text>
<text transform="translate(166.30 1565.18) scale(0.9260 1)" font-family="Liberation Sans, sans-serif" font-weight="normal" font-style="normal" font-size="29.50" fill="#a6a6a6" stroke="#a6a6a6" stroke-width="0.45">18</text>
<text transform="translate(166.18 1532.40) scale(0.9260 1)" font-family="Liberation Sans, sans-serif" font-weight="normal" font-style="normal" font-size="29.50" fill="#a6a6a6" stroke="#a6a6a6" stroke-width="0.45">20</text>
<text transform="translate(166.49 1499.62) scale(0.9260 1)" font-family="Liberation Sans, sans-serif" font-weight="normal" font-style="normal" font-size="29.50" fill="#a6a6a6" stroke="#a6a6a6" stroke-width="0.45">22</text>
<text transform="translate(165.92 1466.84) scale(0.9260 1)" font-family="Liberation Sans, sans-serif" font-weight="normal" font-style="normal" font-size="29.50" fill="#a6a6a6" stroke="#a6a6a6" stroke-width="0.45">24</text>
<text transform="translate(166.32 1434.06) scale(0.9260 1)" font-family="Liberation Sans, sans-serif" font-weight="normal" font-style="normal" font-size="29.50" fill="#a6a6a6" stroke="#a6a6a6" stroke-width="0.45">26</text>
<text transform="translate(166.30 1401.28) scale(0.9260 1)" font-family="Liberation Sans, sans-serif" font-weight="normal" font-style="normal" font-size="29.50" fill="#a6a6a6" stroke="#a6a6a6" stroke-width="0.45">28</text>
<text transform="translate(166.18 1368.50) scale(0.9260 1)" font-family="Liberation Sans, sans-serif" font-weight="normal" font-style="normal" font-size="29.50" fill="#a6a6a6" stroke="#a6a6a6" stroke-width="0.45">30</text>
<text transform="translate(166.49 1335.72) scale(0.9260 1)" font-family="Liberation Sans, sans-serif" font-weight="normal" font-style="normal" font-size="29.50" fill="#a6a6a6" stroke="#a6a6a6" stroke-width="0.45">32</text>
<text transform="translate(165.92 1302.94) scale(0.9260 1)" font-family="Liberation Sans, sans-serif" font-weight="normal" font-style="normal" font-size="29.50" fill="#a6a6a6" stroke="#a6a6a6" stroke-width="0.45">34</text>
<text transform="translate(166.32 1270.16) scale(0.9260 1)" font-family="Liberation Sans, sans-serif" font-weight="normal" font-style="normal" font-size="29.50" fill="#a6a6a6" stroke="#a6a6a6" stroke-width="0.45">36</text>
<text transform="translate(166.30 1237.38) scale(0.9260 1)" font-family="Liberation Sans, sans-serif" font-weight="normal" font-style="normal" font-size="29.50" fill="#a6a6a6" stroke="#a6a6a6" stroke-width="0.45">38</text>
<text transform="translate(166.18 1204.60) scale(0.9260 1)" font-family="Liberation Sans, sans-serif" font-weight="normal" font-style="normal" font-size="29.50" fill="#a6a6a6" stroke="#a6a6a6" stroke-width="0.45">40</text>
<text transform="translate(166.49 1171.82) scale(0.9260 1)" font-family="Liberation Sans, sans-serif" font-weight="normal" font-style="normal" font-size="29.50" fill="#a6a6a6" stroke="#a6a6a6" stroke-width="0.45">42</text>
<text transform="translate(165.92 1139.04) scale(0.9260 1)" font-family="Liberation Sans, sans-serif" font-weight="normal" font-style="normal" font-size="29.50" fill="#a6a6a6" stroke="#a6a6a6" stroke-width="0.45">44</text>
<text transform="translate(166.32 1106.26) scale(0.9260 1)" font-family="Liberation Sans, sans-serif" font-weight="normal" font-style="normal" font-size="29.50" fill="#a6a6a6" stroke="#a6a6a6" stroke-width="0.45">46</text>
<text transform="translate(166.30 1073.48) scale(0.9260 1)" font-family="Liberation Sans, sans-serif" font-weight="normal" font-style="normal" font-size="29.50" fill="#a6a6a6" stroke="#a6a6a6" stroke-width="0.45">48</text>
<text transform="translate(166.18 1040.70) scale(0.9260 1)" font-family="Liberation Sans, sans-serif" font-weight="normal" font-style="normal" font-size="29.50" fill="#a6a6a6" stroke="#a6a6a6" stroke-width="0.45">50</text>
<text transform="translate(166.49 1007.92) scale(0.9260 1)" font-family="Liberation Sans, sans-serif" font-weight="normal" font-style="normal" font-size="29.50" fill="#a6a6a6" stroke="#a6a6a6" stroke-width="0.45">52</text>
<text transform="translate(165.92 975.14) scale(0.9260 1)" font-family="Liberation Sans, sans-serif" font-weight="normal" font-style="normal" font-size="29.50" fill="#a6a6a6" stroke="#a6a6a6" stroke-width="0.45">54</text>
<text transform="translate(166.32 942.36) scale(0.9260 1)" font-family="Liberation Sans, sans-serif" font-weight="normal" font-style="normal" font-size="29.50" fill="#a6a6a6" stroke="#a6a6a6" stroke-width="0.45">56</text>
<text transform="translate(166.30 909.58) scale(0.9260 1)" font-family="Liberation Sans, sans-serif" font-weight="normal" font-style="normal" font-size="29.50" fill="#a6a6a6" stroke="#a6a6a6" stroke-width="0.45">58</text>
<text transform="translate(166.18 876.80) scale(0.9260 1)" font-family="Liberation Sans, sans-serif" font-weight="normal" font-style="normal" font-size="29.50" fill="#a6a6a6" stroke="#a6a6a6" stroke-width="0.45">60</text>
<text transform="translate(166.49 844.02) scale(0.9260 1)" font-family="Liberation Sans, sans-serif" font-weight="normal" font-style="normal" font-size="29.50" fill="#a6a6a6" stroke="#a6a6a6" stroke-width="0.45">62</text>
<text transform="translate(165.92 811.24) scale(0.9260 1)" font-family="Liberation Sans, sans-serif" font-weight="normal" font-style="normal" font-size="29.50" fill="#a6a6a6" stroke="#a6a6a6" stroke-width="0.45">64</text>
<text transform="translate(166.32 778.46) scale(0.9260 1)" font-family="Liberation Sans, sans-serif" font-weight="normal" font-style="normal" font-size="29.50" fill="#a6a6a6" stroke="#a6a6a6" stroke-width="0.45">66</text>
<text transform="translate(166.30 745.68) scale(0.9260 1)" font-family="Liberation Sans, sans-serif" font-weight="normal" font-style="normal" font-size="29.50" fill="#a6a6a6" stroke="#a6a6a6" stroke-width="0.45">68</text>
<text transform="translate(166.18 712.90) scale(0.9260 1)" font-family="Liberation Sans, sans-serif" font-weight="normal" font-style="normal" font-size="29.50" fill="#a6a6a6" stroke="#a6a6a6" stroke-width="0.45">70</text>
<text transform="translate(166.49 680.12) scale(0.9260 1)" font-family="Liberation Sans, sans-serif" font-weight="normal" font-style="normal" font-size="29.50" fill="#a6a6a6" stroke="#a6a6a6" stroke-width="0.45">72</text>
<text transform="translate(165.92 647.34) scale(0.9260 1)" font-family="Liberation Sans, sans-serif" font-weight="normal" font-style="normal" font-size="29.50" fill="#a6a6a6" stroke="#a6a6a6" stroke-width="0.45">74</text>
<text transform="translate(166.32 614.56) scale(0.9260 1)" font-family="Liberation Sans, sans-serif" font-weight="normal" font-style="normal" font-size="29.50" fill="#a6a6a6" stroke="#a6a6a6" stroke-width="0.45">76</text>
<text transform="translate(166.30 581.78) scale(0.9260 1)" font-family="Liberation Sans, sans-serif" font-weight="normal" font-style="normal" font-size="29.50" fill="#a6a6a6" stroke="#a6a6a6" stroke-width="0.45">78</text>
<text transform="translate(166.18 549.00) scale(0.9260 1)" font-family="Liberation Sans, sans-serif" font-weight="normal" font-style="normal" font-size="29.50" fill="#a6a6a6" stroke="#a6a6a6" stroke-width="0.45">80</text>
<text transform="translate(166.49 516.22) scale(0.9260 1)" font-family="Liberation Sans, sans-serif" font-weight="normal" font-style="normal" font-size="29.50" fill="#a6a6a6" stroke="#a6a6a6" stroke-width="0.45">82</text>
<text transform="translate(165.92 483.44) scale(0.9260 1)" font-family="Liberation Sans, sans-serif" font-weight="normal" font-style="normal" font-size="29.50" fill="#a6a6a6" stroke="#a6a6a6" stroke-width="0.45">84</text>
<text transform="translate(166.32 450.66) scale(0.9260 1)" font-family="Liberation Sans, sans-serif" font-weight="normal" font-style="normal" font-size="29.50" fill="#a6a6a6" stroke="#a6a6a6" stroke-width="0.45">86</text>
<text transform="translate(166.30 417.88) scale(0.9260 1)" font-family="Liberation Sans, sans-serif" font-weight="normal" font-style="normal" font-size="29.50" fill="#a6a6a6" stroke="#a6a6a6" stroke-width="0.45">88</text>
<text transform="translate(166.18 385.10) scale(0.9260 1)" font-family="Liberation Sans, sans-serif" font-weight="normal" font-style="normal" font-size="29.50" fill="#a6a6a6" stroke="#a6a6a6" stroke-width="0.45">90</text>
<text transform="translate(166.49 352.32) scale(0.9260 1)" font-family="Liberation Sans, sans-serif" font-weight="normal" font-style="normal" font-size="29.50" fill="#a6a6a6" stroke="#a6a6a6" stroke-width="0.45">92</text>
<text transform="translate(165.92 319.54) scale(0.9260 1)" font-family="Liberation Sans, sans-serif" font-weight="normal" font-style="normal" font-size="29.50" fill="#a6a6a6" stroke="#a6a6a6" stroke-width="0.45">94</text>
<text transform="translate(166.32 286.76) scale(0.9260 1)" font-family="Liberation Sans, sans-serif" font-weight="normal" font-style="normal" font-size="29.50" fill="#a6a6a6" stroke="#a6a6a6" stroke-width="0.45">96</text>
<text transform="translate(166.30 253.98) scale(0.9260 1)" font-family="Liberation Sans, sans-serif" font-weight="normal" font-style="normal" font-size="29.50" fill="#a6a6a6" stroke="#a6a6a6" stroke-width="0.45">98</text>
<text transform="translate(150.99 221.20) scale(0.9260 1)" font-family="Liberation Sans, sans-serif" font-weight="normal" font-style="normal" font-size="29.50" fill="#a6a6a6" stroke="#a6a6a6" stroke-width="0.45">100</text>
<text transform="translate(3592.53 1860.20) scale(0.9260 1)" font-family="Liberation Sans, sans-serif" font-weight="normal" font-style="normal" font-size="29.50" fill="#a6a6a6" stroke="#a6a6a6" stroke-width="0.45">0</text>
<text transform="translate(3592.23 1822.95) scale(0.9260 1)" font-family="Liberation Sans, sans-serif" font-weight="normal" font-style="normal" font-size="29.50" fill="#a6a6a6" stroke="#a6a6a6" stroke-width="0.45">2</text>
<text transform="translate(3592.97 1785.70) scale(0.9260 1)" font-family="Liberation Sans, sans-serif" font-weight="normal" font-style="normal" font-size="29.50" fill="#a6a6a6" stroke="#a6a6a6" stroke-width="0.45">4</text>
<text transform="translate(3592.21 1748.45) scale(0.9260 1)" font-family="Liberation Sans, sans-serif" font-weight="normal" font-style="normal" font-size="29.50" fill="#a6a6a6" stroke="#a6a6a6" stroke-width="0.45">6</text>
<text transform="translate(3592.41 1711.20) scale(0.9260 1)" font-family="Liberation Sans, sans-serif" font-weight="normal" font-style="normal" font-size="29.50" fill="#a6a6a6" stroke="#a6a6a6" stroke-width="0.45">8</text>
<text transform="translate(3591.52 1673.95) scale(0.9260 1)" font-family="Liberation Sans, sans-serif" font-weight="normal" font-style="normal" font-size="29.50" fill="#a6a6a6" stroke="#a6a6a6" stroke-width="0.45">10</text>
<text transform="translate(3591.52 1636.70) scale(0.9260 1)" font-family="Liberation Sans, sans-serif" font-weight="normal" font-style="normal" font-size="29.50" fill="#a6a6a6" stroke="#a6a6a6" stroke-width="0.45">12</text>
<text transform="translate(3591.52 1599.45) scale(0.9260 1)" font-family="Liberation Sans, sans-serif" font-weight="normal" font-style="normal" font-size="29.50" fill="#a6a6a6" stroke="#a6a6a6" stroke-width="0.45">14</text>
<text transform="translate(3591.52 1562.20) scale(0.9260 1)" font-family="Liberation Sans, sans-serif" font-weight="normal" font-style="normal" font-size="29.50" fill="#a6a6a6" stroke="#a6a6a6" stroke-width="0.45">16</text>
<text transform="translate(3591.52 1524.95) scale(0.9260 1)" font-family="Liberation Sans, sans-serif" font-weight="normal" font-style="normal" font-size="29.50" fill="#a6a6a6" stroke="#a6a6a6" stroke-width="0.45">18</text>
<text transform="translate(3592.23 1487.70) scale(0.9260 1)" font-family="Liberation Sans, sans-serif" font-weight="normal" font-style="normal" font-size="29.50" fill="#a6a6a6" stroke="#a6a6a6" stroke-width="0.45">20</text>
<text transform="translate(3592.23 1450.45) scale(0.9260 1)" font-family="Liberation Sans, sans-serif" font-weight="normal" font-style="normal" font-size="29.50" fill="#a6a6a6" stroke="#a6a6a6" stroke-width="0.45">22</text>
<text transform="translate(3592.23 1413.20) scale(0.9260 1)" font-family="Liberation Sans, sans-serif" font-weight="normal" font-style="normal" font-size="29.50" fill="#a6a6a6" stroke="#a6a6a6" stroke-width="0.45">24</text>
<text transform="translate(3592.23 1375.95) scale(0.9260 1)" font-family="Liberation Sans, sans-serif" font-weight="normal" font-style="normal" font-size="29.50" fill="#a6a6a6" stroke="#a6a6a6" stroke-width="0.45">26</text>
<text transform="translate(3592.23 1338.70) scale(0.9260 1)" font-family="Liberation Sans, sans-serif" font-weight="normal" font-style="normal" font-size="29.50" fill="#a6a6a6" stroke="#a6a6a6" stroke-width="0.45">28</text>
<text transform="translate(3592.56 1301.45) scale(0.9260 1)" font-family="Liberation Sans, sans-serif" font-weight="normal" font-style="normal" font-size="29.50" fill="#a6a6a6" stroke="#a6a6a6" stroke-width="0.45">30</text>
<text transform="translate(3592.56 1264.20) scale(0.9260 1)" font-family="Liberation Sans, sans-serif" font-weight="normal" font-style="normal" font-size="29.50" fill="#a6a6a6" stroke="#a6a6a6" stroke-width="0.45">32</text>
<text transform="translate(3592.56 1226.95) scale(0.9260 1)" font-family="Liberation Sans, sans-serif" font-weight="normal" font-style="normal" font-size="29.50" fill="#a6a6a6" stroke="#a6a6a6" stroke-width="0.45">34</text>
<text transform="translate(3592.56 1189.70) scale(0.9260 1)" font-family="Liberation Sans, sans-serif" font-weight="normal" font-style="normal" font-size="29.50" fill="#a6a6a6" stroke="#a6a6a6" stroke-width="0.45">36</text>
<text transform="translate(3592.56 1152.45) scale(0.9260 1)" font-family="Liberation Sans, sans-serif" font-weight="normal" font-style="normal" font-size="29.50" fill="#a6a6a6" stroke="#a6a6a6" stroke-width="0.45">38</text>
<text transform="translate(3592.97 1115.20) scale(0.9260 1)" font-family="Liberation Sans, sans-serif" font-weight="normal" font-style="normal" font-size="29.50" fill="#a6a6a6" stroke="#a6a6a6" stroke-width="0.45">40</text>
<text transform="translate(3592.97 1077.95) scale(0.9260 1)" font-family="Liberation Sans, sans-serif" font-weight="normal" font-style="normal" font-size="29.50" fill="#a6a6a6" stroke="#a6a6a6" stroke-width="0.45">42</text>
<text transform="translate(3592.97 1040.70) scale(0.9260 1)" font-family="Liberation Sans, sans-serif" font-weight="normal" font-style="normal" font-size="29.50" fill="#a6a6a6" stroke="#a6a6a6" stroke-width="0.45">44</text>
<text transform="translate(3592.97 1003.45) scale(0.9260 1)" font-family="Liberation Sans, sans-serif" font-weight="normal" font-style="normal" font-size="29.50" fill="#a6a6a6" stroke="#a6a6a6" stroke-width="0.45">46</text>
<text transform="translate(3592.97 966.20) scale(0.9260 1)" font-family="Liberation Sans, sans-serif" font-weight="normal" font-style="normal" font-size="29.50" fill="#a6a6a6" stroke="#a6a6a6" stroke-width="0.45">48</text>
<text transform="translate(3592.51 928.95) scale(0.9260 1)" font-family="Liberation Sans, sans-serif" font-weight="normal" font-style="normal" font-size="29.50" fill="#a6a6a6" stroke="#a6a6a6" stroke-width="0.45">50</text>
<text transform="translate(3592.51 891.70) scale(0.9260 1)" font-family="Liberation Sans, sans-serif" font-weight="normal" font-style="normal" font-size="29.50" fill="#a6a6a6" stroke="#a6a6a6" stroke-width="0.45">52</text>
<text transform="translate(3592.51 854.45) scale(0.9260 1)" font-family="Liberation Sans, sans-serif" font-weight="normal" font-style="normal" font-size="29.50" fill="#a6a6a6" stroke="#a6a6a6" stroke-width="0.45">54</text>
<text transform="translate(3592.51 817.20) scale(0.9260 1)" font-family="Liberation Sans, sans-serif" font-weight="normal" font-style="normal" font-size="29.50" fill="#a6a6a6" stroke="#a6a6a6" stroke-width="0.45">56</text>
<text transform="translate(3592.51 779.95) scale(0.9260 1)" font-family="Liberation Sans, sans-serif" font-weight="normal" font-style="normal" font-size="29.50" fill="#a6a6a6" stroke="#a6a6a6" stroke-width="0.45">58</text>
<text transform="translate(3592.21 742.70) scale(0.9260 1)" font-family="Liberation Sans, sans-serif" font-weight="normal" font-style="normal" font-size="29.50" fill="#a6a6a6" stroke="#a6a6a6" stroke-width="0.45">60</text>
<text transform="translate(3592.21 705.45) scale(0.9260 1)" font-family="Liberation Sans, sans-serif" font-weight="normal" font-style="normal" font-size="29.50" fill="#a6a6a6" stroke="#a6a6a6" stroke-width="0.45">62</text>
<text transform="translate(3592.21 668.20) scale(0.9260 1)" font-family="Liberation Sans, sans-serif" font-weight="normal" font-style="normal" font-size="29.50" fill="#a6a6a6" stroke="#a6a6a6" stroke-width="0.45">64</text>
<text transform="translate(3592.21 630.95) scale(0.9260 1)" font-family="Liberation Sans, sans-serif" font-weight="normal" font-style="normal" font-size="29.50" fill="#a6a6a6" stroke="#a6a6a6" stroke-width="0.45">66</text>
<text transform="translate(3592.21 593.70) scale(0.9260 1)" font-family="Liberation Sans, sans-serif" font-weight="normal" font-style="normal" font-size="29.50" fill="#a6a6a6" stroke="#a6a6a6" stroke-width="0.45">68</text>
<text transform="translate(3592.20 556.45) scale(0.9260 1)" font-family="Liberation Sans, sans-serif" font-weight="normal" font-style="normal" font-size="29.50" fill="#a6a6a6" stroke="#a6a6a6" stroke-width="0.45">70</text>
<text transform="translate(3592.20 519.20) scale(0.9260 1)" font-family="Liberation Sans, sans-serif" font-weight="normal" font-style="normal" font-size="29.50" fill="#a6a6a6" stroke="#a6a6a6" stroke-width="0.45">72</text>
<text transform="translate(3592.20 481.95) scale(0.9260 1)" font-family="Liberation Sans, sans-serif" font-weight="normal" font-style="normal" font-size="29.50" fill="#a6a6a6" stroke="#a6a6a6" stroke-width="0.45">74</text>
<text transform="translate(3592.20 444.70) scale(0.9260 1)" font-family="Liberation Sans, sans-serif" font-weight="normal" font-style="normal" font-size="29.50" fill="#a6a6a6" stroke="#a6a6a6" stroke-width="0.45">76</text>
<text transform="translate(3592.20 407.45) scale(0.9260 1)" font-family="Liberation Sans, sans-serif" font-weight="normal" font-style="normal" font-size="29.50" fill="#a6a6a6" stroke="#a6a6a6" stroke-width="0.45">78</text>
<text transform="translate(3592.41 370.20) scale(0.9260 1)" font-family="Liberation Sans, sans-serif" font-weight="normal" font-style="normal" font-size="29.50" fill="#a6a6a6" stroke="#a6a6a6" stroke-width="0.45">80</text>
<text transform="translate(3592.41 332.95) scale(0.9260 1)" font-family="Liberation Sans, sans-serif" font-weight="normal" font-style="normal" font-size="29.50" fill="#a6a6a6" stroke="#a6a6a6" stroke-width="0.45">82</text>
<text transform="translate(3592.41 295.70) scale(0.9260 1)" font-family="Liberation Sans, sans-serif" font-weight="normal" font-style="normal" font-size="29.50" fill="#a6a6a6" stroke="#a6a6a6" stroke-width="0.45">84</text>
<text transform="translate(3592.41 258.45) scale(0.9260 1)" font-family="Liberation Sans, sans-serif" font-weight="normal" font-style="normal" font-size="29.50" fill="#a6a6a6" stroke="#a6a6a6" stroke-width="0.45">86</text>
<text transform="translate(3592.41 221.20) scale(0.9260 1)" font-family="Liberation Sans, sans-serif" font-weight="normal" font-style="normal" font-size="29.50" fill="#a6a6a6" stroke="#a6a6a6" stroke-width="0.45">88</text>
<text transform="translate(232.04 1905.20) scale(0.9300 1)" font-family="Liberation Sans, sans-serif" font-weight="normal" font-style="normal" font-size="34.40" fill="#a6a6a6" stroke="#a6a6a6" stroke-width="0.45">0</text>
<text transform="translate(298.19 1905.20) scale(0.9300 1)" font-family="Liberation Sans, sans-serif" font-weight="normal" font-style="normal" font-size="34.40" fill="#a6a6a6" stroke="#a6a6a6" stroke-width="0.45">2</text>
<text transform="translate(364.45 1905.20) scale(0.9300 1)" font-family="Liberation Sans, sans-serif" font-weight="normal" font-style="normal" font-size="34.40" fill="#a6a6a6" stroke="#a6a6a6" stroke-width="0.45">4</text>
<text transform="translate(430.39 1905.20) scale(0.9300 1)" font-family="Liberation Sans, sans-serif" font-weight="normal" font-style="normal" font-size="34.40" fill="#a6a6a6" stroke="#a6a6a6" stroke-width="0.45">6</text>
<text transform="translate(496.65 1905.20) scale(0.9300 1)" font-family="Liberation Sans, sans-serif" font-weight="normal" font-style="normal" font-size="34.40" fill="#a6a6a6" stroke="#a6a6a6" stroke-width="0.45">8</text>
<text transform="translate(553.31 1905.20) scale(0.9300 1)" font-family="Liberation Sans, sans-serif" font-weight="normal" font-style="normal" font-size="34.40" fill="#a6a6a6" stroke="#a6a6a6" stroke-width="0.45">10</text>
<text transform="translate(619.65 1905.20) scale(0.9300 1)" font-family="Liberation Sans, sans-serif" font-weight="normal" font-style="normal" font-size="34.40" fill="#a6a6a6" stroke="#a6a6a6" stroke-width="0.45">12</text>
<text transform="translate(685.46 1905.20) scale(0.9300 1)" font-family="Liberation Sans, sans-serif" font-weight="normal" font-style="normal" font-size="34.40" fill="#a6a6a6" stroke="#a6a6a6" stroke-width="0.45">14</text>
<text transform="translate(751.85 1905.20) scale(0.9300 1)" font-family="Liberation Sans, sans-serif" font-weight="normal" font-style="normal" font-size="34.40" fill="#a6a6a6" stroke="#a6a6a6" stroke-width="0.45">16</text>
<text transform="translate(817.99 1905.20) scale(0.9300 1)" font-family="Liberation Sans, sans-serif" font-weight="normal" font-style="normal" font-size="34.40" fill="#a6a6a6" stroke="#a6a6a6" stroke-width="0.45">18</text>
<text transform="translate(884.49 1905.20) scale(0.9300 1)" font-family="Liberation Sans, sans-serif" font-weight="normal" font-style="normal" font-size="34.40" fill="#a6a6a6" stroke="#a6a6a6" stroke-width="0.45">20</text>
<text transform="translate(950.82 1905.20) scale(0.9300 1)" font-family="Liberation Sans, sans-serif" font-weight="normal" font-style="normal" font-size="34.40" fill="#a6a6a6" stroke="#a6a6a6" stroke-width="0.45">22</text>
<text transform="translate(1016.64 1905.20) scale(0.9300 1)" font-family="Liberation Sans, sans-serif" font-weight="normal" font-style="normal" font-size="34.40" fill="#a6a6a6" stroke="#a6a6a6" stroke-width="0.45">24</text>
<text transform="translate(1083.03 1905.20) scale(0.9300 1)" font-family="Liberation Sans, sans-serif" font-weight="normal" font-style="normal" font-size="34.40" fill="#a6a6a6" stroke="#a6a6a6" stroke-width="0.45">26</text>
<text transform="translate(1149.17 1905.20) scale(0.9300 1)" font-family="Liberation Sans, sans-serif" font-weight="normal" font-style="normal" font-size="34.40" fill="#a6a6a6" stroke="#a6a6a6" stroke-width="0.45">28</text>
<text transform="translate(1215.45 1905.20) scale(0.9300 1)" font-family="Liberation Sans, sans-serif" font-weight="normal" font-style="normal" font-size="34.40" fill="#a6a6a6" stroke="#a6a6a6" stroke-width="0.45">30</text>
<text transform="translate(1281.78 1905.20) scale(0.9300 1)" font-family="Liberation Sans, sans-serif" font-weight="normal" font-style="normal" font-size="34.40" fill="#a6a6a6" stroke="#a6a6a6" stroke-width="0.45">32</text>
<text transform="translate(1347.60 1905.20) scale(0.9300 1)" font-family="Liberation Sans, sans-serif" font-weight="normal" font-style="normal" font-size="34.40" fill="#a6a6a6" stroke="#a6a6a6" stroke-width="0.45">34</text>
<text transform="translate(1413.98 1905.20) scale(0.9300 1)" font-family="Liberation Sans, sans-serif" font-weight="normal" font-style="normal" font-size="34.40" fill="#a6a6a6" stroke="#a6a6a6" stroke-width="0.45">36</text>
<text transform="translate(1480.13 1905.20) scale(0.9300 1)" font-family="Liberation Sans, sans-serif" font-weight="normal" font-style="normal" font-size="34.40" fill="#a6a6a6" stroke="#a6a6a6" stroke-width="0.45">38</text>
<text transform="translate(1546.45 1905.20) scale(0.9300 1)" font-family="Liberation Sans, sans-serif" font-weight="normal" font-style="normal" font-size="34.40" fill="#a6a6a6" stroke="#a6a6a6" stroke-width="0.45">40</text>
<text transform="translate(1612.79 1905.20) scale(0.9300 1)" font-family="Liberation Sans, sans-serif" font-weight="normal" font-style="normal" font-size="34.40" fill="#a6a6a6" stroke="#a6a6a6" stroke-width="0.45">42</text>
<text transform="translate(1678.60 1905.20) scale(0.9300 1)" font-family="Liberation Sans, sans-serif" font-weight="normal" font-style="normal" font-size="34.40" fill="#a6a6a6" stroke="#a6a6a6" stroke-width="0.45">44</text>
<text transform="translate(1744.99 1905.20) scale(0.9300 1)" font-family="Liberation Sans, sans-serif" font-weight="normal" font-style="normal" font-size="34.40" fill="#a6a6a6" stroke="#a6a6a6" stroke-width="0.45">46</text>
<text transform="translate(1811.13 1905.20) scale(0.9300 1)" font-family="Liberation Sans, sans-serif" font-weight="normal" font-style="normal" font-size="34.40" fill="#a6a6a6" stroke="#a6a6a6" stroke-width="0.45">48</text>
<text transform="translate(1876.94 1905.20) scale(0.9300 1)" font-family="Liberation Sans, sans-serif" font-weight="normal" font-style="normal" font-size="34.40" fill="#a6a6a6" stroke="#a6a6a6" stroke-width="0.45">50</text>
<text transform="translate(1943.27 1905.20) scale(0.9300 1)" font-family="Liberation Sans, sans-serif" font-weight="normal" font-style="normal" font-size="34.40" fill="#a6a6a6" stroke="#a6a6a6" stroke-width="0.45">52</text>
<text transform="translate(2009.09 1905.20) scale(0.9300 1)" font-family="Liberation Sans, sans-serif" font-weight="normal" font-style="normal" font-size="34.40" fill="#a6a6a6" stroke="#a6a6a6" stroke-width="0.45">54</text>
<text transform="translate(2075.48 1905.20) scale(0.9300 1)" font-family="Liberation Sans, sans-serif" font-weight="normal" font-style="normal" font-size="34.40" fill="#a6a6a6" stroke="#a6a6a6" stroke-width="0.45">56</text>
<text transform="translate(2141.62 1905.20) scale(0.9300 1)" font-family="Liberation Sans, sans-serif" font-weight="normal" font-style="normal" font-size="34.40" fill="#a6a6a6" stroke="#a6a6a6" stroke-width="0.45">58</text>
<text transform="translate(2207.53 1905.20) scale(0.9300 1)" font-family="Liberation Sans, sans-serif" font-weight="normal" font-style="normal" font-size="34.40" fill="#a6a6a6" stroke="#a6a6a6" stroke-width="0.45">60</text>
<text transform="translate(2273.86 1905.20) scale(0.9300 1)" font-family="Liberation Sans, sans-serif" font-weight="normal" font-style="normal" font-size="34.40" fill="#a6a6a6" stroke="#a6a6a6" stroke-width="0.45">62</text>
<text transform="translate(2339.68 1905.20) scale(0.9300 1)" font-family="Liberation Sans, sans-serif" font-weight="normal" font-style="normal" font-size="34.40" fill="#a6a6a6" stroke="#a6a6a6" stroke-width="0.45">64</text>
<text transform="translate(2406.07 1905.20) scale(0.9300 1)" font-family="Liberation Sans, sans-serif" font-weight="normal" font-style="normal" font-size="34.40" fill="#a6a6a6" stroke="#a6a6a6" stroke-width="0.45">66</text>
<text transform="translate(2472.21 1905.20) scale(0.9300 1)" font-family="Liberation Sans, sans-serif" font-weight="normal" font-style="normal" font-size="34.40" fill="#a6a6a6" stroke="#a6a6a6" stroke-width="0.45">68</text>
<text transform="translate(2538.29 1905.20) scale(0.9300 1)" font-family="Liberation Sans, sans-serif" font-weight="normal" font-style="normal" font-size="34.40" fill="#a6a6a6" stroke="#a6a6a6" stroke-width="0.45">70</text>
<text transform="translate(2604.62 1905.20) scale(0.9300 1)" font-family="Liberation Sans, sans-serif" font-weight="normal" font-style="normal" font-size="34.40" fill="#a6a6a6" stroke="#a6a6a6" stroke-width="0.45">72</text>
<text transform="translate(2670.44 1905.20) scale(0.9300 1)" font-family="Liberation Sans, sans-serif" font-weight="normal" font-style="normal" font-size="34.40" fill="#a6a6a6" stroke="#a6a6a6" stroke-width="0.45">74</text>
<text transform="translate(2736.82 1905.20) scale(0.9300 1)" font-family="Liberation Sans, sans-serif" font-weight="normal" font-style="normal" font-size="34.40" fill="#a6a6a6" stroke="#a6a6a6" stroke-width="0.45">76</text>
<text transform="translate(2802.97 1905.20) scale(0.9300 1)" font-family="Liberation Sans, sans-serif" font-weight="normal" font-style="normal" font-size="34.40" fill="#a6a6a6" stroke="#a6a6a6" stroke-width="0.45">78</text>
<text transform="translate(2869.17 1905.20) scale(0.9300 1)" font-family="Liberation Sans, sans-serif" font-weight="normal" font-style="normal" font-size="34.40" fill="#a6a6a6" stroke="#a6a6a6" stroke-width="0.45">80</text>
<text transform="translate(2935.51 1905.20) scale(0.9300 1)" font-family="Liberation Sans, sans-serif" font-weight="normal" font-style="normal" font-size="34.40" fill="#a6a6a6" stroke="#a6a6a6" stroke-width="0.45">82</text>
<text transform="translate(3001.32 1905.20) scale(0.9300 1)" font-family="Liberation Sans, sans-serif" font-weight="normal" font-style="normal" font-size="34.40" fill="#a6a6a6" stroke="#a6a6a6" stroke-width="0.45">84</text>
<text transform="translate(3067.71 1905.20) scale(0.9300 1)" font-family="Liberation Sans, sans-serif" font-weight="normal" font-style="normal" font-size="34.40" fill="#a6a6a6" stroke="#a6a6a6" stroke-width="0.45">86</text>
<text transform="translate(3133.85 1905.20) scale(0.9300 1)" font-family="Liberation Sans, sans-serif" font-weight="normal" font-style="normal" font-size="34.40" fill="#a6a6a6" stroke="#a6a6a6" stroke-width="0.45">88</text>
<text transform="translate(3199.88 1905.20) scale(0.9300 1)" font-family="Liberation Sans, sans-serif" font-weight="normal" font-style="normal" font-size="34.40" fill="#a6a6a6" stroke="#a6a6a6" stroke-width="0.45">90</text>
<text transform="translate(3266.21 1905.20) scale(0.9300 1)" font-family="Liberation Sans, sans-serif" font-weight="normal" font-style="normal" font-size="34.40" fill="#a6a6a6" stroke="#a6a6a6" stroke-width="0.45">92</text>
<text transform="translate(3332.03 1905.20) scale(0.9300 1)" font-family="Liberation Sans, sans-serif" font-weight="normal" font-style="normal" font-size="34.40" fill="#a6a6a6" stroke="#a6a6a6" stroke-width="0.45">94</text>
<text transform="translate(3398.42 1905.20) scale(0.9300 1)" font-family="Liberation Sans, sans-serif" font-weight="normal" font-style="normal" font-size="34.40" fill="#a6a6a6" stroke="#a6a6a6" stroke-width="0.45">96</text>
<text transform="translate(3464.56 1905.20) scale(0.9300 1)" font-family="Liberation Sans, sans-serif" font-weight="normal" font-style="normal" font-size="34.40" fill="#a6a6a6" stroke="#a6a6a6" stroke-width="0.45">98</text>
<text transform="translate(3521.28 1905.20) scale(0.9300 1)" font-family="Liberation Sans, sans-serif" font-weight="normal" font-style="normal" font-size="34.40" fill="#a6a6a6" stroke="#a6a6a6" stroke-width="0.45">100</text>
<text transform="translate(866.14 153.30) scale(0.9142 1)" font-family="Liberation Sans, sans-serif" font-weight="bold" font-style="normal" font-size="49.70" fill="#404040">CUMULATIVE</text>
<text transform="translate(1181.09 153.30) scale(0.9187 1)" font-family="Liberation Sans, sans-serif" font-weight="bold" font-style="normal" font-size="49.70" fill="#404040">TURNOUT</text>
<text transform="translate(1417.70 153.30) scale(0.8970 1)" font-family="Liberation Sans, sans-serif" font-weight="bold" font-style="normal" font-size="49.70" fill="#404040">TRACK</text>
<text transform="translate(1609.80 153.30) scale(0.9017 1)" font-family="Liberation Sans, sans-serif" font-weight="bold" font-style="normal" font-size="49.70" fill="#404040">EKURHULENI</text>
<text transform="translate(1942.12 153.30) scale(0.9747 1)" font-family="Liberation Sans, sans-serif" font-weight="bold" font-style="normal" font-size="49.70" fill="#404040">2000</text>
<text transform="translate(2084.56 153.30) scale(0.9983 1)" font-family="Liberation Sans, sans-serif" font-weight="bold" font-style="normal" font-size="49.70" fill="#404040">ANC</text>
<text transform="translate(2376.82 153.30) scale(0.9163 1)" font-family="Liberation Sans, sans-serif" font-weight="bold" font-style="normal" font-size="49.70" fill="#404040">vs DA</text>
<rect x="1588.3" y="117.5" width="5.4" height="37.5" fill="#404040"/>
<rect x="1920.5" y="117.5" width="5.4" height="37.5" fill="#404040"/>
<rect x="2063.3" y="117.5" width="5.4" height="37.5" fill="#404040"/>
<text transform="translate(2201.55 153.30) scale(0.9743 1)" font-family="Liberation Sans, sans-serif" font-weight="normal" font-style="normal" font-size="49.70" fill="#7f7f7f" stroke="#7f7f7f" stroke-width="0.6">[56.8%]</text>
<text transform="translate(2515.58 153.30) scale(0.9662 1)" font-family="Liberation Sans, sans-serif" font-weight="normal" font-style="normal" font-size="49.70" fill="#7f7f7f" stroke="#7f7f7f" stroke-width="0.6">[31.1%]</text>
<text transform="translate(2689.46 153.30) scale(0.9433 1)" font-family="Liberation Sans, sans-serif" font-weight="normal" font-style="normal" font-size="49.70" fill="#555555" stroke="#555555" stroke-width="0.6">[PR Ballot]</text>
<text transform="translate(1478.37 263.70) scale(0.9862 1)" font-family="Liberation Sans, sans-serif" font-weight="normal" font-style="normal" font-size="41.10" fill="#595959" stroke="#595959" stroke-width="0.5">Mean Turnout Gap: 7.65pp in favour of the DA</text>
<text transform="translate(231.93 1686.80) scale(0.9786 1)" font-family="Liberation Sans, sans-serif" font-weight="normal" font-style="normal" font-size="33.20" fill="#595959" stroke="#595959" stroke-width="0.4">13,76</text>
<text transform="translate(232.98 1402.20) scale(0.9681 1)" font-family="Liberation Sans, sans-serif" font-weight="normal" font-style="normal" font-size="33.20" fill="#595959" stroke="#595959" stroke-width="0.4">25,13</text>
<text transform="translate(3106.42 946.90) scale(0.9608 1)" font-family="Liberation Sans, sans-serif" font-weight="normal" font-style="normal" font-size="33.20" fill="#595959" stroke="#595959" stroke-width="0.4">52,70</text>
<text transform="translate(3350.57 1139.10) scale(0.9610 1)" font-family="Liberation Sans, sans-serif" font-weight="normal" font-style="normal" font-size="33.20" fill="#595959" stroke="#595959" stroke-width="0.4">44,19</text>
<text transform="translate(250.78 1082.20) scale(0.9979 1)" font-family="Liberation Sans, sans-serif" font-weight="normal" font-style="normal" font-size="24.30" fill="#333333" stroke="#333333" stroke-width="0.35">2000 Turnout: 45.0%</text>
<text transform="translate(2820.14 535.80) scale(0.9955 1)" font-family="Liberation Sans, sans-serif" font-weight="normal" font-style="normal" font-size="32.70" fill="#7f7f7f" stroke="#7f7f7f" stroke-width="0.7">Advantage Window:</text>
<text transform="translate(3117.43 535.80) scale(1.0202 1)" font-family="Liberation Sans, sans-serif" font-weight="normal" font-style="normal" font-size="32.70" fill="#a6a6a6" stroke="#a6a6a6" stroke-width="0.5">ANC</text>
<text transform="translate(2873.91 573.90) scale(0.9767 1)" font-family="Liberation Sans, sans-serif" font-weight="normal" font-style="normal" font-size="32.70" fill="#a6a6a6" stroke="#a6a6a6" stroke-width="0.5">8 ANC wards</text>
<text transform="translate(2874.26 611.90) scale(0.9831 1)" font-family="Liberation Sans, sans-serif" font-weight="normal" font-style="normal" font-size="32.70" fill="#a6a6a6" stroke="#a6a6a6" stroke-width="0.5">41,251 ANC voters</text>
<circle cx="2830.4" cy="566.9" r="6.4" fill="none" stroke="#a6a6a6" stroke-width="2"/>
<circle cx="2830.4" cy="604.9" r="6.4" fill="none" stroke="#a6a6a6" stroke-width="2"/>
<path d="M901.2 1978.4 H976.1" stroke="#0070c0" stroke-width="16.3" stroke-linecap="round" fill="none"/><path d="M1000.1 1978.4 L968.1 1962.4 L968.1 1994.4 Z" fill="#0070c0"/>
<text transform="translate(1010.64 1990.80) scale(0.9275 1)" font-family="Liberation Sans, sans-serif" font-weight="normal" font-style="normal" font-size="42.90" fill="#7f7f7f" stroke="#7f7f7f" stroke-width="0.5">DA turnout (%)</text>
<path d="M1358.7 1978.4 H1434.7" stroke="#00b050" stroke-width="16.3" stroke-linecap="round" fill="none"/><path d="M1458.7 1978.4 L1426.7 1962.4 L1426.7 1994.4 Z" fill="#00b050"/>
<text transform="translate(1469.52 1990.80) scale(0.9345 1)" font-family="Liberation Sans, sans-serif" font-weight="normal" font-style="normal" font-size="42.90" fill="#7f7f7f" stroke="#7f7f7f" stroke-width="0.5">ANC turnout (%)</text>
<circle cx="1846.4" cy="1978.4" r="5" fill="#00b0f0"/><circle cx="1866.6" cy="1978.4" r="5" fill="#00b0f0"/><circle cx="1886.8" cy="1978.4" r="5" fill="#00b0f0"/><circle cx="1907.0" cy="1978.4" r="5" fill="#00b0f0"/><circle cx="1927.2" cy="1978.4" r="5" fill="#00b0f0"/><path d="M1946.8 1978.4 L1927.2 1968.4 L1927.2 1988.4 Z" fill="#00b0f0"/>
<text transform="translate(1956.58 1990.80) scale(0.9426 1)" font-family="Liberation Sans, sans-serif" font-weight="normal" font-style="normal" font-size="42.90" fill="#7f7f7f" stroke="#7f7f7f" stroke-width="0.5">DA number of wards</text>
<circle cx="2410.2" cy="1978.4" r="5" fill="#92d050"/><circle cx="2430.4" cy="1978.4" r="5" fill="#92d050"/><circle cx="2450.6" cy="1978.4" r="5" fill="#92d050"/><circle cx="2470.8" cy="1978.4" r="5" fill="#92d050"/><circle cx="2491.0" cy="1978.4" r="5" fill="#92d050"/><path d="M2510.1 1978.4 L2490.5 1968.4 L2490.5 1988.4 Z" fill="#92d050"/>
<text transform="translate(2520.42 1990.80) scale(0.9406 1)" font-family="Liberation Sans, sans-serif" font-weight="normal" font-style="normal" font-size="42.90" fill="#7f7f7f" stroke="#7f7f7f" stroke-width="0.5">ANC number of wards</text>
<text transform="translate(2892.77 2050.00) scale(0.9594 1)" font-family="Liberation Sans, sans-serif" font-weight="normal" font-style="italic" font-size="33.20" fill="#555555" stroke="#555555" stroke-width="0.3">All data drawn from the IEC: www.elections.org.za</text>
</svg></body></html>
